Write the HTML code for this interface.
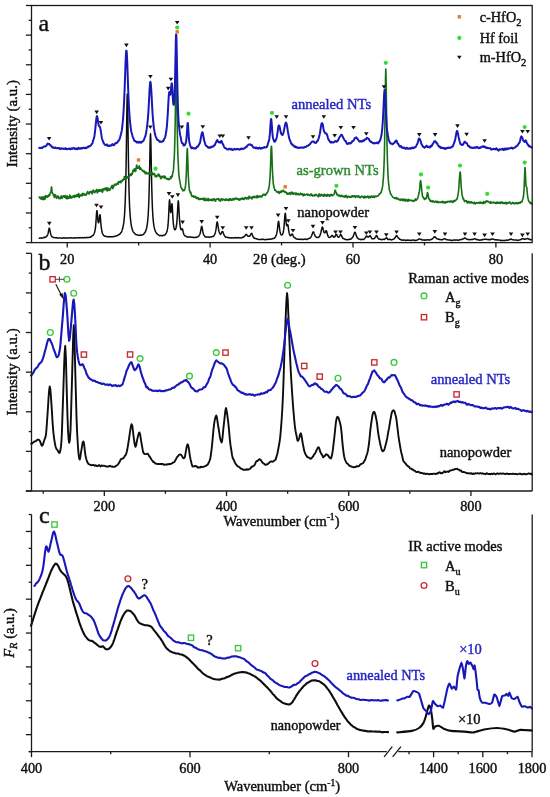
<!DOCTYPE html>
<html><head><meta charset="utf-8"><style>html,body{margin:0;padding:0;background:#fff;width:550px;height:797px;overflow:hidden}svg{display:block;filter:blur(0.35px)}</style></head>
<body><svg width="550" height="797" viewBox="0 0 550 797" font-family="'Liberation Serif', serif"><path d="M39.30,238.18 L39.55,238.11 L39.80,238.07 L40.05,238.00 L40.30,237.97 L40.55,238.07 L40.80,238.08 L41.05,238.05 L41.30,238.14 L41.55,238.14 L41.80,238.04 L42.05,237.99 L42.30,238.01 L42.55,238.00 L42.80,237.86 L43.05,237.80 L43.30,237.70 L43.55,237.59 L43.80,237.38 L44.05,237.41 L44.30,237.30 L44.55,237.39 L44.80,237.41 L45.05,237.44 L45.30,237.20 L45.55,237.14 L45.80,236.99 L46.05,236.84 L46.30,236.56 L46.55,236.47 L46.80,236.16 L47.05,235.76 L47.30,235.38 L47.55,234.86 L47.80,234.18 L48.05,233.40 L48.30,232.30 L48.55,230.94 L48.80,229.68 L49.05,228.63 L49.30,228.09 L49.55,228.54 L49.80,229.68 L50.05,230.88 L50.30,232.22 L50.55,233.42 L50.80,234.27 L51.05,235.02 L51.30,235.73 L51.55,236.03 L51.80,236.38 L52.05,236.73 L52.30,236.81 L52.55,236.99 L52.80,237.21 L53.05,237.38 L53.30,237.54 L53.55,237.59 L53.80,237.63 L54.05,237.67 L54.30,237.69 L54.55,237.57 L54.80,237.62 L55.05,237.63 L55.30,237.75 L55.55,237.84 L55.80,237.86 L56.05,237.86 L56.30,237.94 L56.55,237.77 L56.80,237.68 L57.05,237.77 L57.30,237.92 L57.55,237.93 L57.80,238.05 L58.05,238.06 L58.30,238.06 L58.55,238.09 L58.80,238.02 L59.05,238.03 L59.30,238.08 L59.55,238.09 L59.80,237.98 L60.05,237.94 L60.30,237.97 L60.55,237.92 L60.80,238.00 L61.05,238.06 L61.30,238.13 L61.55,238.18 L61.80,238.19 L62.05,238.18 L62.30,238.14 L62.55,238.18 L62.80,238.05 L63.05,238.10 L63.30,237.92 L63.55,237.79 L63.80,237.73 L64.05,237.75 L64.30,237.74 L64.55,238.00 L64.80,238.07 L65.05,238.05 L65.30,238.12 L65.55,238.14 L65.80,237.99 L66.05,238.03 L66.30,238.11 L66.55,238.13 L66.80,238.03 L67.05,238.03 L67.30,238.05 L67.55,237.93 L67.80,237.91 L68.05,237.92 L68.30,237.99 L68.55,238.00 L68.80,238.07 L69.05,238.01 L69.30,238.06 L69.55,237.86 L69.80,237.77 L70.05,237.79 L70.30,237.68 L70.55,237.75 L70.80,237.76 L71.05,237.88 L71.30,237.80 L71.55,237.98 L71.80,237.93 L72.05,237.94 L72.30,237.97 L72.55,238.12 L72.80,238.06 L73.05,238.03 L73.30,238.12 L73.55,237.97 L73.80,237.94 L74.05,237.91 L74.30,237.92 L74.55,237.87 L74.80,237.89 L75.05,237.73 L75.30,237.85 L75.55,237.84 L75.80,237.95 L76.05,237.98 L76.30,238.02 L76.55,237.91 L76.80,237.88 L77.05,237.81 L77.30,237.78 L77.55,237.80 L77.80,237.73 L78.05,237.71 L78.30,237.81 L78.55,237.78 L78.80,237.73 L79.05,237.83 L79.30,237.97 L79.55,237.76 L79.80,237.78 L80.05,237.81 L80.30,237.66 L80.55,237.61 L80.80,237.70 L81.05,237.71 L81.30,237.69 L81.55,237.83 L81.80,237.74 L82.05,237.72 L82.30,237.63 L82.55,237.59 L82.80,237.64 L83.05,237.63 L83.30,237.65 L83.55,237.71 L83.80,237.75 L84.05,237.61 L84.30,237.68 L84.55,237.62 L84.80,237.60 L85.05,237.62 L85.30,237.71 L85.55,237.70 L85.80,237.72 L86.05,237.68 L86.30,237.57 L86.55,237.53 L86.80,237.53 L87.05,237.47 L87.30,237.52 L87.55,237.64 L87.80,237.60 L88.05,237.57 L88.30,237.52 L88.55,237.55 L88.80,237.38 L89.05,237.34 L89.30,237.27 L89.55,237.31 L89.80,237.28 L90.05,237.40 L90.30,237.21 L90.55,237.00 L90.80,236.92 L91.05,236.65 L91.30,236.46 L91.55,236.48 L91.80,236.36 L92.05,236.04 L92.30,235.97 L92.55,235.80 L92.80,235.52 L93.05,235.39 L93.30,235.19 L93.55,234.74 L93.80,234.33 L94.05,233.79 L94.30,233.08 L94.55,232.42 L94.80,231.56 L95.05,230.38 L95.30,228.81 L95.55,226.82 L95.80,224.07 L96.05,220.68 L96.30,216.81 L96.55,213.07 L96.80,210.70 L97.05,210.72 L97.30,213.04 L97.55,216.06 L97.80,219.13 L98.05,221.30 L98.30,222.59 L98.55,222.77 L98.80,222.36 L99.05,221.04 L99.30,218.98 L99.55,216.61 L99.80,214.84 L100.05,214.72 L100.30,216.43 L100.55,219.31 L100.80,222.52 L101.05,225.29 L101.30,227.32 L101.55,229.09 L101.80,230.71 L102.05,231.82 L102.30,232.71 L102.55,233.51 L102.80,234.15 L103.05,234.49 L103.30,234.84 L103.55,235.20 L103.80,235.50 L104.05,235.68 L104.30,235.87 L104.55,236.03 L104.80,236.09 L105.05,236.23 L105.30,236.22 L105.55,236.34 L105.80,236.31 L106.05,236.43 L106.30,236.45 L106.55,236.45 L106.80,236.53 L107.05,236.74 L107.30,236.75 L107.55,236.82 L107.80,236.95 L108.05,236.69 L108.30,236.62 L108.55,236.66 L108.80,236.62 L109.05,236.53 L109.30,236.69 L109.55,236.66 L109.80,236.74 L110.05,236.75 L110.30,236.82 L110.55,236.93 L110.80,236.90 L111.05,236.78 L111.30,236.63 L111.55,236.72 L111.80,236.67 L112.05,236.74 L112.30,236.79 L112.55,236.90 L112.80,236.78 L113.05,236.68 L113.30,236.57 L113.55,236.50 L113.80,236.56 L114.05,236.54 L114.30,236.52 L114.55,236.45 L114.80,236.36 L115.05,236.31 L115.30,236.26 L115.55,236.21 L115.80,236.16 L116.05,236.06 L116.30,235.88 L116.55,235.83 L116.80,235.72 L117.05,235.64 L117.30,235.60 L117.55,235.50 L117.80,235.23 L118.05,235.12 L118.30,234.95 L118.55,234.87 L118.80,234.66 L119.05,234.63 L119.30,234.55 L119.55,234.38 L119.80,234.06 L120.05,233.87 L120.30,233.56 L120.55,233.09 L120.80,232.80 L121.05,232.59 L121.30,232.13 L121.55,231.64 L121.80,231.09 L122.05,230.46 L122.30,229.54 L122.55,228.67 L122.80,227.83 L123.05,226.75 L123.30,225.51 L123.55,224.18 L123.80,222.47 L124.05,220.25 L124.30,217.81 L124.55,214.51 L124.80,210.39 L125.05,205.30 L125.30,198.97 L125.55,190.95 L125.80,180.84 L126.05,167.95 L126.30,152.13 L126.55,133.73 L126.80,114.83 L127.05,99.79 L127.30,94.03 L127.55,99.93 L127.80,114.90 L128.05,133.69 L128.30,152.08 L128.55,167.89 L128.80,180.77 L129.05,191.08 L129.30,199.11 L129.55,205.38 L129.80,210.25 L130.05,214.22 L130.30,217.18 L130.55,219.66 L130.80,221.87 L131.05,223.82 L131.30,225.29 L131.55,226.57 L131.80,227.72 L132.05,228.55 L132.30,229.34 L132.55,230.19 L132.80,230.93 L133.05,231.43 L133.30,231.86 L133.55,232.23 L133.80,232.44 L134.05,232.67 L134.30,233.02 L134.55,233.28 L134.80,233.59 L135.05,233.88 L135.30,234.21 L135.55,234.34 L135.80,234.60 L136.05,234.65 L136.30,234.68 L136.55,234.69 L136.80,234.74 L137.05,234.69 L137.30,234.83 L137.55,234.91 L137.80,235.00 L138.05,235.20 L138.30,235.22 L138.55,235.15 L138.80,235.20 L139.05,235.23 L139.30,235.15 L139.55,235.33 L139.80,235.39 L140.05,235.29 L140.30,235.18 L140.55,235.23 L140.80,235.16 L141.05,234.98 L141.30,235.09 L141.55,235.13 L141.80,235.09 L142.05,234.95 L142.30,234.96 L142.55,234.69 L142.80,234.69 L143.05,234.45 L143.30,234.42 L143.55,234.22 L143.80,234.10 L144.05,233.59 L144.30,233.32 L144.55,232.98 L144.80,232.60 L145.05,232.28 L145.30,231.97 L145.55,231.41 L145.80,230.73 L146.05,230.09 L146.30,229.22 L146.55,228.22 L146.80,227.11 L147.05,225.79 L147.30,224.13 L147.55,222.09 L147.80,219.70 L148.05,216.81 L148.30,212.96 L148.55,208.27 L148.80,202.24 L149.05,194.46 L149.30,184.73 L149.55,172.92 L149.80,159.49 L150.05,146.13 L150.30,136.43 L150.55,133.80 L150.80,139.58 L151.05,151.23 L151.30,165.02 L151.55,178.04 L151.80,189.09 L152.05,197.97 L152.30,204.95 L152.55,210.47 L152.80,214.84 L153.05,218.23 L153.30,221.05 L153.55,223.18 L153.80,225.05 L154.05,226.42 L154.30,227.62 L154.55,228.67 L154.80,229.75 L155.05,230.37 L155.30,231.02 L155.55,231.66 L155.80,232.08 L156.05,232.46 L156.30,232.88 L156.55,233.24 L156.80,233.62 L157.05,233.90 L157.30,234.13 L157.55,234.33 L157.80,234.48 L158.05,234.49 L158.30,234.80 L158.55,234.88 L158.80,235.08 L159.05,235.26 L159.30,235.48 L159.55,235.44 L159.80,235.66 L160.05,235.64 L160.30,235.59 L160.55,235.56 L160.80,235.50 L161.05,235.45 L161.30,235.60 L161.55,235.65 L161.80,235.62 L162.05,235.68 L162.30,235.71 L162.55,235.45 L162.80,235.52 L163.05,235.50 L163.30,235.54 L163.55,235.31 L163.80,235.40 L164.05,235.17 L164.30,235.07 L164.55,234.96 L164.80,234.93 L165.05,234.74 L165.30,234.56 L165.55,234.25 L165.80,233.82 L166.05,233.40 L166.30,232.97 L166.55,232.47 L166.80,231.85 L167.05,231.02 L167.30,229.95 L167.55,228.66 L167.80,226.99 L168.05,224.69 L168.30,221.50 L168.55,217.39 L168.80,212.15 L169.05,206.33 L169.30,201.61 L169.55,199.77 L169.80,201.56 L170.05,205.36 L170.30,209.17 L170.55,211.68 L170.80,212.62 L171.05,211.80 L171.30,209.60 L171.55,206.48 L171.80,203.97 L172.05,203.81 L172.30,206.57 L172.55,211.17 L172.80,215.85 L173.05,219.78 L173.30,222.84 L173.55,225.07 L173.80,226.72 L174.05,228.00 L174.30,228.84 L174.55,229.36 L174.80,229.75 L175.05,229.75 L175.30,229.58 L175.55,229.20 L175.80,228.63 L176.05,227.69 L176.30,226.53 L176.55,224.86 L176.80,222.62 L177.05,219.59 L177.30,215.87 L177.55,211.14 L177.80,206.28 L178.05,202.31 L178.30,200.79 L178.55,202.42 L178.80,206.55 L179.05,211.46 L179.30,216.16 L179.55,220.06 L179.80,223.09 L180.05,225.34 L180.30,227.10 L180.55,228.35 L180.80,229.20 L181.05,229.66 L181.30,229.79 L181.55,229.66 L181.80,229.24 L182.05,228.73 L182.30,228.81 L182.55,229.41 L182.80,230.25 L183.05,231.29 L183.30,232.52 L183.55,233.28 L183.80,234.04 L184.05,234.74 L184.30,235.30 L184.55,235.53 L184.80,235.81 L185.05,235.93 L185.30,235.96 L185.55,236.04 L185.80,236.21 L186.05,236.35 L186.30,236.60 L186.55,236.69 L186.80,236.74 L187.05,236.83 L187.30,236.92 L187.55,236.99 L187.80,237.12 L188.05,237.15 L188.30,237.16 L188.55,237.10 L188.80,236.96 L189.05,237.00 L189.30,237.05 L189.55,237.07 L189.80,237.05 L190.05,237.16 L190.30,237.10 L190.55,237.06 L190.80,236.91 L191.05,237.02 L191.30,237.11 L191.55,237.19 L191.80,237.21 L192.05,237.37 L192.30,237.44 L192.55,237.21 L192.80,237.18 L193.05,237.25 L193.30,237.30 L193.55,237.36 L193.80,237.61 L194.05,237.63 L194.30,237.60 L194.55,237.60 L194.80,237.44 L195.05,237.35 L195.30,237.36 L195.55,237.45 L195.80,237.36 L196.05,237.36 L196.30,237.33 L196.55,237.31 L196.80,237.13 L197.05,237.17 L197.30,237.04 L197.55,236.93 L197.80,236.72 L198.05,236.65 L198.30,236.47 L198.55,236.25 L198.80,235.98 L199.05,235.74 L199.30,235.30 L199.55,234.70 L199.80,234.31 L200.05,233.71 L200.30,232.82 L200.55,231.71 L200.80,230.53 L201.05,228.93 L201.30,227.54 L201.55,226.50 L201.80,226.38 L202.05,227.13 L202.30,228.47 L202.55,229.96 L202.80,231.43 L203.05,232.60 L203.30,233.53 L203.55,234.28 L203.80,234.88 L204.05,235.27 L204.30,235.66 L204.55,236.03 L204.80,236.43 L205.05,236.69 L205.30,236.89 L205.55,237.06 L205.80,237.18 L206.05,237.12 L206.30,237.00 L206.55,237.06 L206.80,237.13 L207.05,237.02 L207.30,236.95 L207.55,236.95 L207.80,237.01 L208.05,236.94 L208.30,237.00 L208.55,237.13 L208.80,237.26 L209.05,237.20 L209.30,237.27 L209.55,237.21 L209.80,237.16 L210.05,237.03 L210.30,237.10 L210.55,237.04 L210.80,237.01 L211.05,236.97 L211.30,236.97 L211.55,236.88 L211.80,236.71 L212.05,236.61 L212.30,236.51 L212.55,236.58 L212.80,236.47 L213.05,236.42 L213.30,236.35 L213.55,236.30 L213.80,235.87 L214.05,235.49 L214.30,235.21 L214.55,234.75 L214.80,234.12 L215.05,233.42 L215.30,232.74 L215.55,231.73 L215.80,230.45 L216.05,228.90 L216.30,227.01 L216.55,225.02 L216.80,223.19 L217.05,222.08 L217.30,221.94 L217.55,222.93 L217.80,224.35 L218.05,226.22 L218.30,227.91 L218.55,229.38 L218.80,230.62 L219.05,231.70 L219.30,232.30 L219.55,233.01 L219.80,233.46 L220.05,233.86 L220.30,234.16 L220.55,234.35 L220.80,234.07 L221.05,233.79 L221.30,233.31 L221.55,232.70 L221.80,232.19 L222.05,231.68 L222.30,231.43 L222.55,231.39 L222.80,231.77 L223.05,232.35 L223.30,233.17 L223.55,233.84 L223.80,234.53 L224.05,234.99 L224.30,235.32 L224.55,235.69 L224.80,236.11 L225.05,236.50 L225.30,236.82 L225.55,237.14 L225.80,237.24 L226.05,237.32 L226.30,237.29 L226.55,237.28 L226.80,237.29 L227.05,237.41 L227.30,237.34 L227.55,237.39 L227.80,237.37 L228.05,237.40 L228.30,237.58 L228.55,237.63 L228.80,237.65 L229.05,237.79 L229.30,237.88 L229.55,237.68 L229.80,237.69 L230.05,237.78 L230.30,237.78 L230.55,237.76 L230.80,237.95 L231.05,237.93 L231.30,237.89 L231.55,237.85 L231.80,237.95 L232.05,237.73 L232.30,237.74 L232.55,237.71 L232.80,237.79 L233.05,237.74 L233.30,237.97 L233.55,237.91 L233.80,238.00 L234.05,237.94 L234.30,237.86 L234.55,237.81 L234.80,237.86 L235.05,237.68 L235.30,237.67 L235.55,237.62 L235.80,237.54 L236.05,237.63 L236.30,237.78 L236.55,237.91 L236.80,238.00 L237.05,237.94 L237.30,237.86 L237.55,237.78 L237.80,237.59 L238.05,237.63 L238.30,237.68 L238.55,237.60 L238.80,237.70 L239.05,237.76 L239.30,237.75 L239.55,237.79 L239.80,237.95 L240.05,237.89 L240.30,237.96 L240.55,237.95 L240.80,237.95 L241.05,237.91 L241.30,237.79 L241.55,237.67 L241.80,237.59 L242.05,237.54 L242.30,237.38 L242.55,237.53 L242.80,237.48 L243.05,237.35 L243.30,237.13 L243.55,237.09 L243.80,236.84 L244.05,236.62 L244.30,236.50 L244.55,236.32 L244.80,236.06 L245.05,235.65 L245.30,235.28 L245.55,234.90 L245.80,234.72 L246.05,234.36 L246.30,234.35 L246.55,234.51 L246.80,234.86 L247.05,235.04 L247.30,235.48 L247.55,235.85 L247.80,236.11 L248.05,236.20 L248.30,236.37 L248.55,236.34 L248.80,236.27 L249.05,236.27 L249.30,236.24 L249.55,236.09 L249.80,235.87 L250.05,235.60 L250.30,235.26 L250.55,234.77 L250.80,234.21 L251.05,233.73 L251.30,233.44 L251.55,233.29 L251.80,233.46 L252.05,233.95 L252.30,234.76 L252.55,235.38 L252.80,236.08 L253.05,236.61 L253.30,237.13 L253.55,237.33 L253.80,237.58 L254.05,237.89 L254.30,238.16 L254.55,238.23 L254.80,238.40 L255.05,238.55 L255.30,238.57 L255.55,238.58 L255.80,238.58 L256.05,238.64 L256.30,238.69 L256.55,238.67 L256.80,238.85 L257.05,239.03 L257.30,239.16 L257.55,239.13 L257.80,239.22 L258.05,239.31 L258.30,239.38 L258.55,239.38 L258.80,239.50 L259.05,239.60 L259.30,239.43 L259.55,239.41 L259.80,239.45 L260.05,239.52 L260.30,239.38 L260.55,239.47 L260.80,239.46 L261.05,239.44 L261.30,239.39 L261.55,239.35 L261.80,239.33 L262.05,239.40 L262.30,239.33 L262.55,239.33 L262.80,239.45 L263.05,239.38 L263.30,239.33 L263.55,239.33 L263.80,239.41 L264.05,239.52 L264.30,239.72 L264.55,239.69 L264.80,239.80 L265.05,239.73 L265.30,239.58 L265.55,239.55 L265.80,239.47 L266.05,239.49 L266.30,239.47 L266.55,239.55 L266.80,239.45 L267.05,239.48 L267.30,239.42 L267.55,239.46 L267.80,239.36 L268.05,239.37 L268.30,239.37 L268.55,239.20 L268.80,239.19 L269.05,239.22 L269.30,239.18 L269.55,239.20 L269.80,239.38 L270.05,239.27 L270.30,239.15 L270.55,239.10 L270.80,239.15 L271.05,238.95 L271.30,239.02 L271.55,238.99 L271.80,238.88 L272.05,238.84 L272.30,238.87 L272.55,238.64 L272.80,238.59 L273.05,238.65 L273.30,238.55 L273.55,238.43 L273.80,238.43 L274.05,238.37 L274.30,238.11 L274.55,237.88 L274.80,237.69 L275.05,237.38 L275.30,237.01 L275.55,236.69 L275.80,236.23 L276.05,235.66 L276.30,234.99 L276.55,234.25 L276.80,233.18 L277.05,231.87 L277.30,230.27 L277.55,228.24 L277.80,225.94 L278.05,223.52 L278.30,221.78 L278.55,221.18 L278.80,222.21 L279.05,224.13 L279.30,226.37 L279.55,228.42 L279.80,230.30 L280.05,231.67 L280.30,232.70 L280.55,233.64 L280.80,234.33 L281.05,234.75 L281.30,234.95 L281.55,235.11 L281.80,234.98 L282.05,234.89 L282.30,234.56 L282.55,234.27 L282.80,233.66 L283.05,233.02 L283.30,232.02 L283.55,230.69 L283.80,228.79 L284.05,226.35 L284.30,223.39 L284.55,219.81 L284.80,216.27 L285.05,213.68 L285.30,213.36 L285.55,215.17 L285.80,218.17 L286.05,221.18 L286.30,223.64 L286.55,225.06 L286.80,225.71 L287.05,225.65 L287.30,225.08 L287.55,224.41 L287.80,224.59 L288.05,225.63 L288.30,227.44 L288.55,229.31 L288.80,231.11 L289.05,232.45 L289.30,233.50 L289.55,234.37 L289.80,235.00 L290.05,235.47 L290.30,235.72 L290.55,235.78 L290.80,235.58 L291.05,235.41 L291.30,235.02 L291.55,234.62 L291.80,234.34 L292.05,234.08 L292.30,234.12 L292.55,234.32 L292.80,234.86 L293.05,235.42 L293.30,236.05 L293.55,236.54 L293.80,237.12 L294.05,237.34 L294.30,237.56 L294.55,237.76 L294.80,237.83 L295.05,237.91 L295.30,238.24 L295.55,238.40 L295.80,238.60 L296.05,238.73 L296.30,238.88 L296.55,238.82 L296.80,238.94 L297.05,238.98 L297.30,239.23 L297.55,239.26 L297.80,239.32 L298.05,239.30 L298.30,239.32 L298.55,239.22 L298.80,239.28 L299.05,239.29 L299.30,239.48 L299.55,239.33 L299.80,239.34 L300.05,239.36 L300.30,239.35 L300.55,239.20 L300.80,239.32 L301.05,239.26 L301.30,239.21 L301.55,239.40 L301.80,239.53 L302.05,239.48 L302.30,239.52 L302.55,239.48 L302.80,239.39 L303.05,239.26 L303.30,239.29 L303.55,239.40 L303.80,239.48 L304.05,239.38 L304.30,239.35 L304.55,239.29 L304.80,239.17 L305.05,238.96 L305.30,239.02 L305.55,239.04 L305.80,239.15 L306.05,239.30 L306.30,239.49 L306.55,239.34 L306.80,239.41 L307.05,239.42 L307.30,239.21 L307.55,239.03 L307.80,239.05 L308.05,238.83 L308.30,238.78 L308.55,238.60 L308.80,238.51 L309.05,238.40 L309.30,238.37 L309.55,238.16 L309.80,238.17 L310.05,238.05 L310.30,237.92 L310.55,237.54 L310.80,237.22 L311.05,236.79 L311.30,236.37 L311.55,235.79 L311.80,235.25 L312.05,234.50 L312.30,233.82 L312.55,233.03 L312.80,232.25 L313.05,231.92 L313.30,231.91 L313.55,231.93 L313.80,232.41 L314.05,233.30 L314.30,233.97 L314.55,234.57 L314.80,235.32 L315.05,235.83 L315.30,236.13 L315.55,236.43 L315.80,236.78 L316.05,237.01 L316.30,237.20 L316.55,237.28 L316.80,237.41 L317.05,237.37 L317.30,237.41 L317.55,237.50 L317.80,237.57 L318.05,237.54 L318.30,237.52 L318.55,237.39 L318.80,237.14 L319.05,236.86 L319.30,236.59 L319.55,236.15 L319.80,235.80 L320.05,235.29 L320.30,234.62 L320.55,233.78 L320.80,232.90 L321.05,231.77 L321.30,230.56 L321.55,229.49 L321.80,228.39 L322.05,227.48 L322.30,227.08 L322.55,227.18 L322.80,227.73 L323.05,228.75 L323.30,229.93 L323.55,230.82 L323.80,231.67 L324.05,232.37 L324.30,232.68 L324.55,232.79 L324.80,232.86 L325.05,232.78 L325.30,232.27 L325.55,231.66 L325.80,231.13 L326.05,230.80 L326.30,230.73 L326.55,231.15 L326.80,232.04 L327.05,232.95 L327.30,233.85 L327.55,234.72 L327.80,235.62 L328.05,236.11 L328.30,236.60 L328.55,236.92 L328.80,237.20 L329.05,237.30 L329.30,237.44 L329.55,237.46 L329.80,237.37 L330.05,237.23 L330.30,237.08 L330.55,236.94 L330.80,236.67 L331.05,236.43 L331.30,236.12 L331.55,235.77 L331.80,235.48 L332.05,235.46 L332.30,235.51 L332.55,235.74 L332.80,236.17 L333.05,236.41 L333.30,236.68 L333.55,237.02 L333.80,237.18 L334.05,237.06 L334.30,237.15 L334.55,237.03 L334.80,236.79 L335.05,236.36 L335.30,235.98 L335.55,235.42 L335.80,234.84 L336.05,234.39 L336.30,234.28 L336.55,234.38 L336.80,234.72 L337.05,235.30 L337.30,235.90 L337.55,236.41 L337.80,236.84 L338.05,237.14 L338.30,237.25 L338.55,237.31 L338.80,237.12 L339.05,236.93 L339.30,236.68 L339.55,236.34 L339.80,235.74 L340.05,235.27 L340.30,234.75 L340.55,234.47 L340.80,234.45 L341.05,234.77 L341.30,235.29 L341.55,235.84 L341.80,236.43 L342.05,236.91 L342.30,237.43 L342.55,237.94 L342.80,238.31 L343.05,238.44 L343.30,238.61 L343.55,238.64 L343.80,238.59 L344.05,238.79 L344.30,238.99 L344.55,239.03 L344.80,239.23 L345.05,239.44 L345.30,239.38 L345.55,239.36 L345.80,239.47 L346.05,239.47 L346.30,239.44 L346.55,239.56 L346.80,239.69 L347.05,239.80 L347.30,239.87 L347.55,239.87 L347.80,239.68 L348.05,239.59 L348.30,239.51 L348.55,239.38 L348.80,239.37 L349.05,239.42 L349.30,239.33 L349.55,239.36 L349.80,239.38 L350.05,239.27 L350.30,239.29 L350.55,239.33 L350.80,239.16 L351.05,238.85 L351.30,238.65 L351.55,238.40 L351.80,238.08 L352.05,237.84 L352.30,237.80 L352.55,237.48 L352.80,237.04 L353.05,236.76 L353.30,236.15 L353.55,235.34 L353.80,234.64 L354.05,233.96 L354.30,233.04 L354.55,232.52 L354.80,232.25 L355.05,232.21 L355.30,232.58 L355.55,233.31 L355.80,233.98 L356.05,234.82 L356.30,235.60 L356.55,236.41 L356.80,236.86 L357.05,237.46 L357.30,237.81 L357.55,238.13 L357.80,238.26 L358.05,238.58 L358.30,238.76 L358.55,238.94 L358.80,239.04 L359.05,239.07 L359.30,239.13 L359.55,239.17 L359.80,239.30 L360.05,239.42 L360.30,239.57 L360.55,239.67 L360.80,239.67 L361.05,239.51 L361.30,239.42 L361.55,239.26 L361.80,239.26 L362.05,239.19 L362.30,239.35 L362.55,239.44 L362.80,239.61 L363.05,239.53 L363.30,239.52 L363.55,239.35 L363.80,239.23 L364.05,239.01 L364.30,238.76 L364.55,238.58 L364.80,238.46 L365.05,238.06 L365.30,237.71 L365.55,237.28 L365.80,236.84 L366.05,236.36 L366.30,236.14 L366.55,236.05 L366.80,236.09 L367.05,236.40 L367.30,236.61 L367.55,236.93 L367.80,237.09 L368.05,237.13 L368.30,237.00 L368.55,236.94 L368.80,236.78 L369.05,236.47 L369.30,236.27 L369.55,235.86 L369.80,235.68 L370.05,235.67 L370.30,235.87 L370.55,236.25 L370.80,236.73 L371.05,237.18 L371.30,237.67 L371.55,238.06 L371.80,238.43 L372.05,238.79 L372.30,238.83 L372.55,238.85 L372.80,238.80 L373.05,238.75 L373.30,238.74 L373.55,238.84 L373.80,238.73 L374.05,238.75 L374.30,238.58 L374.55,238.31 L374.80,238.03 L375.05,237.67 L375.30,237.22 L375.55,236.79 L375.80,236.44 L376.05,235.94 L376.30,235.65 L376.55,235.58 L376.80,235.84 L377.05,236.23 L377.30,236.91 L377.55,237.34 L377.80,237.80 L378.05,238.21 L378.30,238.46 L378.55,238.55 L378.80,238.96 L379.05,239.15 L379.30,239.15 L379.55,239.19 L379.80,239.32 L380.05,239.30 L380.30,239.29 L380.55,239.35 L380.80,239.51 L381.05,239.55 L381.30,239.51 L381.55,239.66 L381.80,239.76 L382.05,239.61 L382.30,239.55 L382.55,239.60 L382.80,239.50 L383.05,239.29 L383.30,239.34 L383.55,239.35 L383.80,239.36 L384.05,239.16 L384.30,239.36 L384.55,239.17 L384.80,239.02 L385.05,238.80 L385.30,238.80 L385.55,238.43 L385.80,238.23 L386.05,238.07 L386.30,237.89 L386.55,237.72 L386.80,238.03 L387.05,238.35 L387.30,238.65 L387.55,238.85 L387.80,239.30 L388.05,239.38 L388.30,239.58 L388.55,239.57 L388.80,239.64 L389.05,239.61 L389.30,239.43 L389.55,239.26 L389.80,239.30 L390.05,239.35 L390.30,239.36 L390.55,239.51 L390.80,239.75 L391.05,239.83 L391.30,239.88 L391.55,239.95 L391.80,239.88 L392.05,239.70 L392.30,239.63 L392.55,239.50 L392.80,239.34 L393.05,239.23 L393.30,239.17 L393.55,239.10 L393.80,238.99 L394.05,238.85 L394.30,238.68 L394.55,238.35 L394.80,237.87 L395.05,237.66 L395.30,237.39 L395.55,237.02 L395.80,236.58 L396.05,236.27 L396.30,235.82 L396.55,235.56 L396.80,235.62 L397.05,235.96 L397.30,236.37 L397.55,236.83 L397.80,237.23 L398.05,237.53 L398.30,237.87 L398.55,238.06 L398.80,238.37 L399.05,238.56 L399.30,238.87 L399.55,239.09 L399.80,239.22 L400.05,239.29 L400.30,239.39 L400.55,239.52 L400.80,239.67 L401.05,239.88 L401.30,239.96 L401.55,240.17 L401.80,240.06 L402.05,240.08 L402.30,240.02 L402.55,239.89 L402.80,239.99 L403.05,240.21 L403.30,240.07 L403.55,240.14 L403.80,240.33 L404.05,240.17 L404.30,239.99 L404.55,240.02 L404.80,240.06 L405.05,240.09 L405.30,240.18 L405.55,240.29 L405.80,240.49 L406.05,240.42 L406.30,240.43 L406.55,240.23 L406.80,240.15 L407.05,240.09 L407.30,240.08 L407.55,240.10 L407.80,240.23 L408.05,240.24 L408.30,240.14 L408.55,240.17 L408.80,240.10 L409.05,240.16 L409.30,240.27 L409.55,240.25 L409.80,240.23 L410.05,240.28 L410.30,240.22 L410.55,240.25 L410.80,240.46 L411.05,240.57 L411.30,240.54 L411.55,240.54 L411.80,240.41 L412.05,240.17 L412.30,240.05 L412.55,240.02 L412.80,240.00 L413.05,240.09 L413.30,240.12 L413.55,240.16 L413.80,240.10 L414.05,240.22 L414.30,240.19 L414.55,240.32 L414.80,240.36 L415.05,240.52 L415.30,240.38 L415.55,240.36 L415.80,240.40 L416.05,240.23 L416.30,240.17 L416.55,240.26 L416.80,240.19 L417.05,240.00 L417.30,240.10 L417.55,239.91 L417.80,239.74 L418.05,239.56 L418.30,239.37 L418.55,239.14 L418.80,239.08 L419.05,238.97 L419.30,238.99 L419.55,238.90 L419.80,239.07 L420.05,239.19 L420.30,239.28 L420.55,239.31 L420.80,239.49 L421.05,239.50 L421.30,239.54 L421.55,239.47 L421.80,239.63 L422.05,239.90 L422.30,239.80 L422.55,239.89 L422.80,240.08 L423.05,240.06 L423.30,239.99 L423.55,240.07 L423.80,240.03 L424.05,240.13 L424.30,240.14 L424.55,240.03 L424.80,240.13 L425.05,240.10 L425.30,240.11 L425.55,240.06 L425.80,240.15 L426.05,240.06 L426.30,240.13 L426.55,240.02 L426.80,239.90 L427.05,239.83 L427.30,239.84 L427.55,239.75 L427.80,239.84 L428.05,239.93 L428.30,239.84 L428.55,239.98 L428.80,239.99 L429.05,239.97 L429.30,240.03 L429.55,240.00 L429.80,239.86 L430.05,239.89 L430.30,239.79 L430.55,239.71 L430.80,239.70 L431.05,239.62 L431.30,239.40 L431.55,239.36 L431.80,239.23 L432.05,239.01 L432.30,238.83 L432.55,238.73 L432.80,238.43 L433.05,238.19 L433.30,237.97 L433.55,237.74 L433.80,237.31 L434.05,236.94 L434.30,236.80 L434.55,236.67 L434.80,236.65 L435.05,236.89 L435.30,237.15 L435.55,237.30 L435.80,237.71 L436.05,237.99 L436.30,238.15 L436.55,238.40 L436.80,238.66 L437.05,238.66 L437.30,238.80 L437.55,238.97 L437.80,238.93 L438.05,239.00 L438.30,239.14 L438.55,239.19 L438.80,239.17 L439.05,239.34 L439.30,239.40 L439.55,239.47 L439.80,239.46 L440.05,239.63 L440.30,239.60 L440.55,239.60 L440.80,239.68 L441.05,239.71 L441.30,239.63 L441.55,239.77 L441.80,239.73 L442.05,239.59 L442.30,239.62 L442.55,239.67 L442.80,239.39 L443.05,239.29 L443.30,239.17 L443.55,239.00 L443.80,238.79 L444.05,238.80 L444.30,238.82 L444.55,238.78 L444.80,238.86 L445.05,238.96 L445.30,239.02 L445.55,239.09 L445.80,239.35 L446.05,239.46 L446.30,239.49 L446.55,239.63 L446.80,239.64 L447.05,239.63 L447.30,239.73 L447.55,239.78 L447.80,239.82 L448.05,240.01 L448.30,239.99 L448.55,239.98 L448.80,240.00 L449.05,239.99 L449.30,239.90 L449.55,240.10 L449.80,240.08 L450.05,240.13 L450.30,240.16 L450.55,240.20 L450.80,240.11 L451.05,240.16 L451.30,240.33 L451.55,240.39 L451.80,240.50 L452.05,240.48 L452.30,240.52 L452.55,240.29 L452.80,240.27 L453.05,240.18 L453.30,240.14 L453.55,239.97 L453.80,240.12 L454.05,240.10 L454.30,240.08 L454.55,240.07 L454.80,240.20 L455.05,240.16 L455.30,240.10 L455.55,240.07 L455.80,240.10 L456.05,240.12 L456.30,240.06 L456.55,240.10 L456.80,240.10 L457.05,240.07 L457.30,240.13 L457.55,240.07 L457.80,240.20 L458.05,240.29 L458.30,240.25 L458.55,240.21 L458.80,240.16 L459.05,239.93 L459.30,239.77 L459.55,239.75 L459.80,239.65 L460.05,239.68 L460.30,239.76 L460.55,239.66 L460.80,239.68 L461.05,239.56 L461.30,239.49 L461.55,239.39 L461.80,239.38 L462.05,239.17 L462.30,239.11 L462.55,239.04 L462.80,238.99 L463.05,238.98 L463.30,238.87 L463.55,238.74 L463.80,238.53 L464.05,238.38 L464.30,238.09 L464.55,238.14 L464.80,238.10 L465.05,238.09 L465.30,238.12 L465.55,238.38 L465.80,238.43 L466.05,238.65 L466.30,238.85 L466.55,239.04 L466.80,239.19 L467.05,239.29 L467.30,239.43 L467.55,239.53 L467.80,239.55 L468.05,239.49 L468.30,239.54 L468.55,239.56 L468.80,239.51 L469.05,239.59 L469.30,239.70 L469.55,239.77 L469.80,239.59 L470.05,239.68 L470.30,239.69 L470.55,239.61 L470.80,239.59 L471.05,239.57 L471.30,239.60 L471.55,239.48 L471.80,239.55 L472.05,239.38 L472.30,239.52 L472.55,239.39 L472.80,239.41 L473.05,239.20 L473.30,239.18 L473.55,239.18 L473.80,239.04 L474.05,238.86 L474.30,238.83 L474.55,238.77 L474.80,238.70 L475.05,238.90 L475.30,238.97 L475.55,238.97 L475.80,239.22 L476.05,239.32 L476.30,239.37 L476.55,239.59 L476.80,239.74 L477.05,239.73 L477.30,239.64 L477.55,239.55 L477.80,239.59 L478.05,239.65 L478.30,239.84 L478.55,239.97 L478.80,240.04 L479.05,240.05 L479.30,240.22 L479.55,240.12 L479.80,240.04 L480.05,240.10 L480.30,240.14 L480.55,239.98 L480.80,239.89 L481.05,240.02 L481.30,239.98 L481.55,239.79 L481.80,239.76 L482.05,239.73 L482.30,239.63 L482.55,239.57 L482.80,239.66 L483.05,239.66 L483.30,239.53 L483.55,239.46 L483.80,239.43 L484.05,239.33 L484.30,239.30 L484.55,239.35 L484.80,239.26 L485.05,239.30 L485.30,239.25 L485.55,239.11 L485.80,239.28 L486.05,239.37 L486.30,239.35 L486.55,239.39 L486.80,239.50 L487.05,239.40 L487.30,239.46 L487.55,239.52 L487.80,239.48 L488.05,239.63 L488.30,239.63 L488.55,239.58 L488.80,239.58 L489.05,239.71 L489.30,239.53 L489.55,239.69 L489.80,239.65 L490.05,239.56 L490.30,239.51 L490.55,239.62 L490.80,239.38 L491.05,239.40 L491.30,239.23 L491.55,239.18 L491.80,238.94 L492.05,238.87 L492.30,238.88 L492.55,238.95 L492.80,238.91 L493.05,239.18 L493.30,239.32 L493.55,239.25 L493.80,239.40 L494.05,239.43 L494.30,239.47 L494.55,239.62 L494.80,239.73 L495.05,239.72 L495.30,239.88 L495.55,239.87 L495.80,239.78 L496.05,239.90 L496.30,239.85 L496.55,239.85 L496.80,239.85 L497.05,239.93 L497.30,239.93 L497.55,240.01 L497.80,240.09 L498.05,240.12 L498.30,240.11 L498.55,240.02 L498.80,240.03 L499.05,240.03 L499.30,239.99 L499.55,240.04 L499.80,240.21 L500.05,240.36 L500.30,240.44 L500.55,240.49 L500.80,240.42 L501.05,240.42 L501.30,240.37 L501.55,240.35 L501.80,240.37 L502.05,240.52 L502.30,240.51 L502.55,240.53 L502.80,240.49 L503.05,240.52 L503.30,240.45 L503.55,240.41 L503.80,240.42 L504.05,240.35 L504.30,240.43 L504.55,240.41 L504.80,240.45 L505.05,240.37 L505.30,240.38 L505.55,240.39 L505.80,240.36 L506.05,240.20 L506.30,240.14 L506.55,240.12 L506.80,240.11 L507.05,240.11 L507.30,240.23 L507.55,240.18 L507.80,240.19 L508.05,240.05 L508.30,240.10 L508.55,239.94 L508.80,239.98 L509.05,239.91 L509.30,239.72 L509.55,239.52 L509.80,239.46 L510.05,239.18 L510.30,239.12 L510.55,239.16 L510.80,239.09 L511.05,239.01 L511.30,239.27 L511.55,239.30 L511.80,239.40 L512.05,239.60 L512.30,239.74 L512.55,239.78 L512.80,239.82 L513.05,239.82 L513.30,239.79 L513.55,239.88 L513.80,239.94 L514.05,240.01 L514.30,240.03 L514.55,240.05 L514.80,240.10 L515.05,239.98 L515.30,239.96 L515.55,239.97 L515.80,239.96 L516.05,239.94 L516.30,239.96 L516.55,240.12 L516.80,240.21 L517.05,240.27 L517.30,240.26 L517.55,240.43 L517.80,240.30 L518.05,240.19 L518.30,240.16 L518.55,240.15 L518.80,240.07 L519.05,240.00 L519.30,240.10 L519.55,239.97 L519.80,239.93 L520.05,239.70 L520.30,239.74 L520.55,239.49 L520.80,239.44 L521.05,239.34 L521.30,239.38 L521.55,239.08 L521.80,238.98 L522.05,238.81 L522.30,238.71 L522.55,238.61 L522.80,238.68 L523.05,238.71 L523.30,238.84 L523.55,238.85 L523.80,238.96 L524.05,239.15 L524.30,239.11 L524.55,239.16 L524.80,239.20 L525.05,239.20 L525.30,239.02 L525.55,239.09 L525.80,238.98 L526.05,238.98 L526.30,238.87 L526.55,238.83 L526.80,238.77 L527.05,238.74 L527.30,238.53 L527.55,238.53 L527.80,238.57 L528.05,238.59 L528.30,238.76 L528.55,239.06 L528.80,239.08 L529.05,239.15 L529.30,239.39 L529.55,239.54 L529.80,239.52 L530.05,239.62 L530.30,239.71 L530.55,239.66 L530.80,239.53 L531.05,239.64 L531.30,239.69 L531.55,239.78 L531.80,239.85" fill="none" stroke="#0d0d0d" stroke-width="1.5" stroke-linejoin="round" stroke-linecap="round"/>
<path d="M39.30,197.09 L39.55,197.67 L39.80,197.99 L40.05,197.35 L40.30,198.18 L40.55,198.73 L40.80,198.10 L41.05,197.60 L41.30,197.27 L41.55,198.35 L41.80,199.27 L42.05,197.44 L42.30,197.01 L42.55,198.16 L42.80,198.44 L43.05,199.14 L43.30,199.69 L43.55,198.16 L43.80,197.21 L44.05,196.71 L44.30,196.90 L44.55,197.79 L44.80,199.33 L45.05,199.27 L45.30,196.18 L45.55,195.65 L45.80,197.02 L46.05,196.61 L46.30,195.94 L46.55,196.46 L46.80,197.17 L47.05,197.23 L47.30,196.37 L47.55,196.89 L47.80,197.01 L48.05,196.07 L48.30,195.39 L48.55,195.04 L48.80,196.12 L49.05,195.33 L49.30,194.54 L49.55,195.62 L49.80,194.90 L50.05,193.93 L50.30,192.62 L50.55,192.28 L50.80,192.51 L51.05,190.66 L51.30,187.98 L51.55,186.93 L51.80,189.17 L52.05,191.94 L52.30,192.69 L52.55,193.50 L52.80,193.87 L53.05,193.71 L53.30,194.68 L53.55,195.53 L53.80,194.92 L54.05,195.53 L54.30,197.56 L54.55,196.42 L54.80,194.86 L55.05,195.93 L55.30,196.48 L55.55,194.83 L55.80,195.83 L56.05,197.48 L56.30,196.72 L56.55,198.00 L56.80,198.42 L57.05,196.63 L57.30,196.63 L57.55,196.47 L57.80,195.94 L58.05,196.86 L58.30,197.00 L58.55,196.48 L58.80,197.90 L59.05,198.73 L59.30,198.19 L59.55,197.98 L59.80,197.78 L60.05,198.37 L60.30,198.05 L60.55,198.31 L60.80,197.72 L61.05,196.38 L61.30,196.11 L61.55,196.05 L61.80,197.25 L62.05,198.38 L62.30,197.63 L62.55,196.71 L62.80,196.90 L63.05,196.43 L63.30,195.90 L63.55,196.40 L63.80,196.05 L64.05,196.08 L64.30,197.18 L64.55,196.69 L64.80,196.03 L65.05,195.57 L65.30,197.38 L65.55,197.40 L65.80,197.20 L66.05,198.42 L66.30,197.20 L66.55,196.08 L66.80,196.96 L67.05,198.78 L67.30,197.52 L67.55,196.24 L67.80,197.48 L68.05,197.88 L68.30,198.47 L68.55,197.89 L68.80,196.96 L69.05,196.53 L69.30,197.50 L69.55,197.82 L69.80,195.10 L70.05,195.47 L70.30,196.72 L70.55,197.95 L70.80,197.78 L71.05,196.52 L71.30,197.05 L71.55,198.01 L71.80,197.55 L72.05,197.16 L72.30,197.47 L72.55,196.58 L72.80,196.26 L73.05,196.41 L73.30,195.74 L73.55,196.43 L73.80,196.09 L74.05,196.01 L74.30,197.43 L74.55,196.59 L74.80,195.46 L75.05,195.32 L75.30,196.05 L75.55,196.61 L75.80,196.45 L76.05,196.55 L76.30,195.97 L76.55,195.45 L76.80,194.76 L77.05,195.05 L77.30,196.08 L77.55,195.29 L77.80,195.87 L78.05,196.51 L78.30,193.97 L78.55,193.51 L78.80,194.32 L79.05,194.91 L79.30,197.33 L79.55,196.29 L79.80,194.72 L80.05,194.84 L80.30,194.97 L80.55,195.48 L80.80,196.01 L81.05,194.94 L81.30,195.07 L81.55,195.05 L81.80,194.19 L82.05,195.45 L82.30,195.68 L82.55,194.31 L82.80,193.38 L83.05,193.63 L83.30,193.98 L83.55,194.94 L83.80,194.11 L84.05,193.64 L84.30,194.78 L84.55,194.79 L84.80,194.65 L85.05,195.19 L85.30,195.15 L85.55,194.68 L85.80,194.67 L86.05,195.19 L86.30,193.60 L86.55,193.22 L86.80,194.18 L87.05,193.15 L87.30,192.65 L87.55,191.60 L87.80,191.91 L88.05,192.59 L88.30,193.08 L88.55,192.53 L88.80,193.05 L89.05,194.08 L89.30,192.98 L89.55,192.31 L89.80,191.91 L90.05,191.59 L90.30,191.69 L90.55,192.34 L90.80,192.51 L91.05,191.56 L91.30,191.45 L91.55,191.72 L91.80,191.92 L92.05,193.58 L92.30,193.81 L92.55,192.40 L92.80,190.94 L93.05,190.20 L93.30,190.10 L93.55,191.37 L93.80,191.89 L94.05,191.42 L94.30,191.45 L94.55,191.41 L94.80,192.61 L95.05,192.07 L95.30,190.92 L95.55,190.79 L95.80,191.49 L96.05,191.29 L96.30,189.99 L96.55,189.70 L96.80,189.47 L97.05,190.57 L97.30,192.98 L97.55,192.01 L97.80,190.95 L98.05,191.66 L98.30,190.33 L98.55,189.95 L98.80,190.43 L99.05,190.11 L99.30,191.40 L99.55,190.58 L99.80,189.56 L100.05,190.89 L100.30,190.25 L100.55,190.09 L100.80,190.94 L101.05,190.89 L101.30,190.56 L101.55,190.84 L101.80,189.27 L102.05,189.71 L102.30,192.33 L102.55,191.97 L102.80,191.14 L103.05,189.61 L103.30,188.86 L103.55,189.17 L103.80,188.83 L104.05,189.89 L104.30,189.70 L104.55,188.97 L104.80,188.24 L105.05,188.17 L105.30,189.36 L105.55,188.97 L105.80,188.42 L106.05,189.97 L106.30,189.62 L106.55,187.75 L106.80,187.95 L107.05,189.29 L107.30,191.04 L107.55,190.45 L107.80,188.66 L108.05,188.14 L108.30,189.19 L108.55,188.84 L108.80,189.03 L109.05,190.42 L109.30,189.51 L109.55,188.99 L109.80,189.36 L110.05,189.84 L110.30,188.57 L110.55,188.18 L110.80,188.43 L111.05,187.07 L111.30,187.20 L111.55,187.38 L111.80,186.54 L112.05,185.53 L112.30,185.39 L112.55,187.11 L112.80,188.74 L113.05,188.08 L113.30,187.44 L113.55,186.56 L113.80,185.62 L114.05,185.95 L114.30,185.16 L114.55,184.22 L114.80,184.78 L115.05,185.03 L115.30,184.15 L115.55,184.43 L115.80,184.75 L116.05,184.98 L116.30,184.98 L116.55,184.00 L116.80,183.92 L117.05,183.84 L117.30,183.19 L117.55,182.88 L117.80,183.59 L118.05,184.07 L118.30,184.24 L118.55,182.64 L118.80,181.44 L119.05,182.07 L119.30,182.25 L119.55,182.06 L119.80,181.48 L120.05,182.08 L120.30,182.34 L120.55,180.99 L120.80,181.54 L121.05,182.71 L121.30,181.39 L121.55,181.13 L121.80,180.87 L122.05,180.90 L122.30,181.06 L122.55,179.72 L122.80,179.47 L123.05,179.33 L123.30,179.52 L123.55,179.94 L123.80,179.69 L124.05,179.09 L124.30,176.67 L124.55,176.91 L124.80,177.83 L125.05,177.77 L125.30,179.46 L125.55,179.32 L125.80,178.24 L126.05,177.80 L126.30,177.80 L126.55,177.42 L126.80,176.99 L127.05,176.60 L127.30,177.53 L127.55,177.92 L127.80,177.63 L128.05,177.31 L128.30,176.52 L128.55,176.31 L128.80,176.30 L129.05,176.66 L129.30,176.27 L129.55,175.11 L129.80,174.23 L130.05,175.41 L130.30,175.46 L130.55,174.02 L130.80,174.83 L131.05,175.42 L131.30,174.61 L131.55,173.45 L131.80,174.31 L132.05,174.54 L132.30,173.19 L132.55,172.59 L132.80,171.15 L133.05,170.18 L133.30,171.01 L133.55,171.78 L133.80,171.10 L134.05,169.87 L134.30,168.85 L134.55,169.08 L134.80,168.79 L135.05,169.26 L135.30,170.56 L135.55,171.45 L135.80,171.00 L136.05,168.64 L136.30,167.29 L136.55,165.27 L136.80,165.16 L137.05,166.91 L137.30,167.80 L137.55,168.21 L137.80,167.92 L138.05,167.61 L138.30,167.59 L138.55,168.28 L138.80,167.17 L139.05,166.01 L139.30,166.06 L139.55,167.57 L139.80,169.45 L140.05,169.17 L140.30,167.90 L140.55,167.80 L140.80,168.64 L141.05,168.83 L141.30,169.10 L141.55,169.62 L141.80,169.74 L142.05,170.19 L142.30,170.83 L142.55,170.38 L142.80,170.41 L143.05,170.57 L143.30,171.38 L143.55,171.73 L143.80,171.66 L144.05,171.84 L144.30,171.01 L144.55,172.04 L144.80,172.55 L145.05,172.66 L145.30,173.80 L145.55,172.64 L145.80,172.06 L146.05,172.94 L146.30,172.98 L146.55,172.54 L146.80,173.45 L147.05,173.99 L147.30,173.74 L147.55,173.59 L147.80,173.51 L148.05,173.28 L148.30,173.05 L148.55,173.82 L148.80,173.83 L149.05,173.16 L149.30,172.45 L149.55,172.79 L149.80,173.62 L150.05,173.35 L150.30,172.74 L150.55,173.30 L150.80,175.33 L151.05,174.89 L151.30,173.67 L151.55,174.15 L151.80,172.47 L152.05,172.39 L152.30,173.58 L152.55,174.41 L152.80,174.75 L153.05,173.52 L153.30,173.61 L153.55,174.24 L153.80,174.11 L154.05,174.04 L154.30,173.64 L154.55,173.60 L154.80,174.95 L155.05,176.34 L155.30,176.38 L155.55,175.44 L155.80,175.81 L156.05,176.34 L156.30,176.71 L156.55,176.83 L156.80,175.84 L157.05,175.42 L157.30,175.68 L157.55,175.78 L157.80,175.88 L158.05,175.30 L158.30,174.00 L158.55,174.14 L158.80,174.26 L159.05,174.78 L159.30,176.08 L159.55,175.11 L159.80,175.59 L160.05,177.19 L160.30,176.91 L160.55,177.46 L160.80,178.60 L161.05,176.95 L161.30,176.52 L161.55,177.57 L161.80,177.27 L162.05,177.64 L162.30,177.06 L162.55,176.24 L162.80,176.28 L163.05,176.28 L163.30,176.81 L163.55,176.48 L163.80,176.01 L164.05,177.31 L164.30,177.99 L164.55,177.95 L164.80,176.95 L165.05,176.33 L165.30,177.21 L165.55,177.77 L165.80,177.82 L166.05,178.42 L166.30,178.80 L166.55,178.31 L166.80,178.41 L167.05,178.86 L167.30,178.61 L167.55,178.89 L167.80,179.47 L168.05,178.91 L168.30,178.66 L168.55,178.87 L168.80,179.43 L169.05,179.65 L169.30,179.22 L169.55,179.10 L169.80,178.85 L170.05,178.97 L170.30,178.79 L170.55,176.69 L170.80,177.33 L171.05,178.40 L171.30,176.65 L171.55,176.13 L171.80,175.86 L172.05,176.65 L172.30,176.77 L172.55,173.81 L172.80,172.79 L173.05,172.14 L173.30,171.24 L173.55,168.73 L173.80,163.63 L174.05,160.67 L174.30,157.00 L174.55,150.40 L174.80,140.86 L175.05,129.83 L175.30,116.75 L175.55,96.68 L175.80,76.54 L176.05,62.88 L176.30,62.36 L176.55,75.76 L176.80,94.34 L177.05,114.55 L177.30,131.42 L177.55,143.24 L177.80,152.94 L178.05,160.24 L178.30,164.47 L178.55,170.13 L178.80,174.30 L179.05,175.69 L179.30,178.33 L179.55,179.74 L179.80,180.49 L180.05,182.41 L180.30,183.92 L180.55,185.16 L180.80,186.81 L181.05,187.26 L181.30,187.59 L181.55,188.69 L181.80,188.41 L182.05,188.68 L182.30,189.15 L182.55,189.90 L182.80,190.87 L183.05,190.60 L183.30,189.91 L183.55,190.07 L183.80,190.38 L184.05,190.57 L184.30,190.50 L184.55,189.26 L184.80,189.04 L185.05,188.79 L185.30,186.76 L185.55,185.14 L185.80,182.75 L186.05,178.54 L186.30,173.79 L186.55,166.91 L186.80,158.49 L187.05,151.04 L187.30,148.62 L187.55,152.84 L187.80,159.93 L188.05,168.32 L188.30,175.27 L188.55,179.85 L188.80,183.97 L189.05,186.64 L189.30,189.31 L189.55,190.80 L189.80,190.41 L190.05,191.79 L190.30,192.89 L190.55,192.82 L190.80,192.24 L191.05,193.24 L191.30,195.24 L191.55,195.49 L191.80,195.85 L192.05,196.49 L192.30,196.28 L192.55,196.17 L192.80,196.07 L193.05,195.70 L193.30,196.63 L193.55,197.10 L193.80,196.23 L194.05,196.36 L194.30,196.98 L194.55,196.60 L194.80,196.98 L195.05,197.27 L195.30,196.53 L195.55,196.34 L195.80,197.86 L196.05,197.79 L196.30,197.23 L196.55,198.22 L196.80,198.49 L197.05,197.80 L197.30,197.49 L197.55,198.15 L197.80,198.71 L198.05,198.47 L198.30,197.72 L198.55,198.50 L198.80,199.54 L199.05,199.35 L199.30,198.70 L199.55,198.80 L199.80,199.18 L200.05,199.43 L200.30,198.87 L200.55,198.58 L200.80,199.06 L201.05,198.55 L201.30,198.73 L201.55,199.23 L201.80,198.98 L202.05,199.14 L202.30,198.73 L202.55,198.55 L202.80,199.35 L203.05,199.50 L203.30,199.79 L203.55,199.17 L203.80,198.09 L204.05,198.71 L204.30,199.55 L204.55,200.36 L204.80,200.43 L205.05,199.18 L205.30,199.27 L205.55,199.29 L205.80,198.34 L206.05,199.80 L206.30,200.57 L206.55,199.78 L206.80,199.89 L207.05,200.36 L207.30,200.26 L207.55,200.01 L207.80,199.47 L208.05,198.38 L208.30,199.42 L208.55,200.63 L208.80,200.26 L209.05,199.74 L209.30,199.60 L209.55,199.22 L209.80,199.81 L210.05,200.38 L210.30,199.96 L210.55,199.84 L210.80,200.08 L211.05,200.14 L211.30,200.02 L211.55,199.32 L211.80,199.23 L212.05,200.65 L212.30,200.22 L212.55,199.26 L212.80,199.85 L213.05,200.32 L213.30,200.21 L213.55,199.14 L213.80,199.09 L214.05,199.28 L214.30,198.73 L214.55,199.46 L214.80,199.69 L215.05,199.80 L215.30,201.25 L215.55,201.24 L215.80,200.23 L216.05,199.54 L216.30,198.97 L216.55,198.91 L216.80,198.96 L217.05,198.96 L217.30,198.91 L217.55,199.28 L217.80,199.15 L218.05,198.65 L218.30,198.50 L218.55,199.29 L218.80,199.89 L219.05,200.13 L219.30,200.55 L219.55,199.98 L219.80,199.83 L220.05,199.38 L220.30,200.06 L220.55,201.16 L220.80,200.12 L221.05,199.15 L221.30,199.40 L221.55,199.11 L221.80,198.63 L222.05,199.73 L222.30,200.09 L222.55,199.58 L222.80,199.95 L223.05,199.72 L223.30,199.45 L223.55,199.68 L223.80,199.22 L224.05,199.62 L224.30,199.56 L224.55,200.17 L224.80,200.34 L225.05,200.38 L225.30,200.18 L225.55,199.61 L225.80,199.57 L226.05,198.76 L226.30,199.33 L226.55,200.18 L226.80,199.58 L227.05,199.80 L227.30,200.00 L227.55,199.57 L227.80,200.06 L228.05,200.26 L228.30,199.36 L228.55,199.79 L228.80,200.77 L229.05,199.93 L229.30,199.28 L229.55,198.75 L229.80,198.62 L230.05,199.55 L230.30,199.94 L230.55,199.22 L230.80,199.12 L231.05,200.21 L231.30,200.27 L231.55,199.36 L231.80,200.03 L232.05,200.43 L232.30,199.87 L232.55,199.40 L232.80,198.72 L233.05,198.46 L233.30,198.88 L233.55,199.25 L233.80,199.57 L234.05,199.86 L234.30,199.78 L234.55,199.62 L234.80,199.08 L235.05,198.08 L235.30,198.26 L235.55,198.73 L235.80,198.65 L236.05,198.90 L236.30,198.63 L236.55,198.26 L236.80,198.71 L237.05,199.19 L237.30,198.93 L237.55,199.07 L237.80,199.22 L238.05,198.57 L238.30,198.65 L238.55,199.82 L238.80,199.50 L239.05,199.18 L239.30,200.00 L239.55,200.11 L239.80,199.18 L240.05,199.37 L240.30,199.73 L240.55,198.77 L240.80,198.60 L241.05,198.93 L241.30,199.02 L241.55,198.67 L241.80,199.15 L242.05,198.90 L242.30,197.92 L242.55,198.52 L242.80,199.21 L243.05,199.31 L243.30,198.55 L243.55,198.52 L243.80,199.13 L244.05,199.38 L244.30,198.65 L244.55,197.99 L244.80,198.36 L245.05,197.59 L245.30,197.39 L245.55,198.47 L245.80,198.55 L246.05,197.76 L246.30,198.29 L246.55,198.96 L246.80,198.98 L247.05,198.23 L247.30,197.77 L247.55,198.49 L247.80,198.22 L248.05,197.46 L248.30,198.04 L248.55,198.96 L248.80,198.13 L249.05,196.40 L249.30,196.25 L249.55,196.87 L249.80,197.38 L250.05,198.02 L250.30,197.98 L250.55,197.42 L250.80,197.51 L251.05,197.38 L251.30,197.27 L251.55,197.37 L251.80,198.45 L252.05,199.02 L252.30,197.56 L252.55,196.79 L252.80,196.92 L253.05,196.63 L253.30,196.48 L253.55,196.82 L253.80,197.45 L254.05,197.55 L254.30,196.84 L254.55,196.43 L254.80,196.25 L255.05,196.73 L255.30,197.08 L255.55,197.52 L255.80,197.31 L256.05,197.23 L256.30,197.55 L256.55,197.07 L256.80,196.11 L257.05,195.54 L257.30,196.61 L257.55,197.65 L257.80,197.39 L258.05,197.08 L258.30,196.78 L258.55,196.27 L258.80,196.12 L259.05,196.61 L259.30,196.97 L259.55,196.43 L259.80,196.10 L260.05,196.37 L260.30,196.58 L260.55,195.96 L260.80,196.46 L261.05,196.84 L261.30,196.09 L261.55,196.52 L261.80,196.87 L262.05,196.17 L262.30,195.90 L262.55,195.43 L262.80,194.88 L263.05,194.32 L263.30,194.99 L263.55,195.05 L263.80,194.74 L264.05,195.07 L264.30,194.30 L264.55,194.45 L264.80,194.83 L265.05,195.03 L265.30,195.48 L265.55,195.22 L265.80,194.68 L266.05,194.10 L266.30,193.82 L266.55,193.88 L266.80,193.14 L267.05,192.73 L267.30,192.54 L267.55,192.25 L267.80,191.96 L268.05,191.12 L268.30,189.98 L268.55,189.67 L268.80,188.26 L269.05,186.44 L269.30,186.11 L269.55,183.15 L269.80,179.46 L270.05,177.10 L270.30,171.74 L270.55,166.05 L270.80,157.88 L271.05,149.58 L271.30,146.22 L271.55,146.56 L271.80,151.59 L272.05,159.26 L272.30,166.46 L272.55,172.68 L272.80,177.17 L273.05,180.13 L273.30,183.51 L273.55,185.06 L273.80,185.95 L274.05,187.56 L274.30,188.03 L274.55,189.10 L274.80,190.30 L275.05,189.66 L275.30,189.89 L275.55,190.50 L275.80,190.52 L276.05,191.08 L276.30,191.24 L276.55,191.75 L276.80,191.88 L277.05,191.98 L277.30,192.33 L277.55,192.34 L277.80,192.19 L278.05,191.67 L278.30,191.44 L278.55,191.88 L278.80,192.70 L279.05,193.29 L279.30,193.39 L279.55,192.59 L279.80,191.92 L280.05,191.90 L280.30,191.88 L280.55,192.22 L280.80,192.50 L281.05,191.48 L281.30,190.73 L281.55,191.52 L281.80,191.84 L282.05,191.15 L282.30,191.48 L282.55,191.42 L282.80,190.88 L283.05,190.92 L283.30,190.35 L283.55,191.00 L283.80,191.43 L284.05,191.00 L284.30,191.33 L284.55,191.99 L284.80,192.40 L285.05,192.25 L285.30,191.73 L285.55,191.80 L285.80,191.99 L286.05,192.24 L286.30,193.06 L286.55,193.01 L286.80,193.75 L287.05,194.04 L287.30,193.52 L287.55,193.42 L287.80,193.16 L288.05,193.53 L288.30,194.09 L288.55,193.23 L288.80,193.25 L289.05,194.00 L289.30,193.99 L289.55,194.00 L289.80,193.15 L290.05,192.53 L290.30,193.78 L290.55,194.38 L290.80,193.13 L291.05,193.19 L291.30,193.64 L291.55,192.80 L291.80,192.07 L292.05,192.19 L292.30,193.23 L292.55,193.87 L292.80,193.68 L293.05,193.84 L293.30,194.20 L293.55,193.28 L293.80,192.94 L294.05,193.47 L294.30,193.12 L294.55,193.25 L294.80,193.71 L295.05,193.84 L295.30,193.33 L295.55,193.27 L295.80,194.65 L296.05,194.45 L296.30,193.00 L296.55,193.55 L296.80,194.46 L297.05,194.56 L297.30,193.90 L297.55,194.12 L297.80,194.27 L298.05,193.45 L298.30,193.54 L298.55,193.96 L298.80,194.49 L299.05,194.80 L299.30,194.52 L299.55,194.66 L299.80,194.71 L300.05,194.72 L300.30,194.15 L300.55,193.19 L300.80,194.06 L301.05,194.15 L301.30,193.74 L301.55,194.27 L301.80,194.21 L302.05,194.08 L302.30,194.83 L302.55,194.03 L302.80,193.85 L303.05,195.76 L303.30,195.43 L303.55,194.54 L303.80,194.83 L304.05,195.57 L304.30,194.83 L304.55,194.16 L304.80,194.57 L305.05,194.77 L305.30,194.92 L305.55,194.97 L305.80,194.76 L306.05,194.53 L306.30,194.45 L306.55,194.18 L306.80,194.40 L307.05,194.62 L307.30,194.23 L307.55,194.91 L307.80,195.33 L308.05,194.19 L308.30,194.69 L308.55,194.95 L308.80,194.73 L309.05,195.03 L309.30,194.94 L309.55,195.03 L309.80,194.72 L310.05,194.68 L310.30,195.71 L310.55,194.82 L310.80,194.06 L311.05,195.11 L311.30,194.68 L311.55,193.99 L311.80,195.24 L312.05,195.64 L312.30,195.62 L312.55,195.98 L312.80,195.20 L313.05,195.19 L313.30,195.41 L313.55,195.69 L313.80,195.62 L314.05,195.22 L314.30,195.13 L314.55,195.60 L314.80,195.86 L315.05,194.95 L315.30,194.39 L315.55,194.92 L315.80,194.93 L316.05,194.66 L316.30,194.54 L316.55,194.59 L316.80,195.13 L317.05,195.62 L317.30,195.47 L317.55,195.89 L317.80,195.87 L318.05,196.30 L318.30,196.73 L318.55,195.69 L318.80,195.11 L319.05,193.83 L319.30,193.97 L319.55,195.14 L319.80,195.95 L320.05,195.35 L320.30,195.35 L320.55,195.79 L320.80,195.34 L321.05,194.46 L321.30,194.24 L321.55,195.10 L321.80,195.31 L322.05,195.49 L322.30,194.79 L322.55,195.12 L322.80,195.84 L323.05,195.71 L323.30,195.83 L323.55,196.03 L323.80,195.64 L324.05,194.69 L324.30,194.17 L324.55,195.22 L324.80,196.03 L325.05,195.56 L325.30,195.12 L325.55,195.10 L325.80,195.28 L326.05,195.14 L326.30,194.86 L326.55,195.83 L326.80,196.19 L327.05,195.12 L327.30,194.53 L327.55,194.49 L327.80,195.27 L328.05,195.84 L328.30,195.48 L328.55,195.20 L328.80,195.17 L329.05,194.72 L329.30,195.33 L329.55,195.90 L329.80,196.34 L330.05,195.90 L330.30,194.89 L330.55,195.51 L330.80,195.46 L331.05,194.58 L331.30,194.29 L331.55,194.84 L331.80,195.30 L332.05,195.19 L332.30,195.39 L332.55,195.74 L332.80,195.39 L333.05,194.91 L333.30,194.55 L333.55,194.56 L333.80,194.75 L334.05,194.22 L334.30,193.57 L334.55,192.80 L334.80,191.31 L335.05,190.18 L335.30,190.31 L335.55,190.68 L335.80,191.44 L336.05,192.13 L336.30,192.73 L336.55,193.96 L336.80,194.59 L337.05,194.29 L337.30,194.18 L337.55,194.71 L337.80,194.60 L338.05,194.88 L338.30,195.76 L338.55,195.50 L338.80,195.94 L339.05,196.09 L339.30,195.32 L339.55,195.40 L339.80,195.25 L340.05,195.54 L340.30,195.85 L340.55,196.35 L340.80,196.60 L341.05,196.21 L341.30,195.92 L341.55,195.21 L341.80,195.28 L342.05,195.52 L342.30,195.93 L342.55,196.26 L342.80,196.54 L343.05,196.85 L343.30,196.56 L343.55,196.38 L343.80,196.16 L344.05,196.34 L344.30,196.62 L344.55,196.13 L344.80,195.98 L345.05,197.24 L345.30,197.04 L345.55,195.97 L345.80,195.76 L346.05,195.33 L346.30,196.05 L346.55,196.63 L346.80,196.31 L347.05,196.99 L347.30,197.82 L347.55,196.82 L347.80,196.29 L348.05,196.86 L348.30,196.63 L348.55,196.59 L348.80,196.44 L349.05,196.87 L349.30,197.12 L349.55,196.67 L349.80,196.92 L350.05,197.13 L350.30,196.85 L350.55,196.65 L350.80,197.15 L351.05,197.23 L351.30,196.56 L351.55,196.06 L351.80,195.98 L352.05,195.92 L352.30,196.10 L352.55,196.60 L352.80,195.81 L353.05,195.74 L353.30,196.75 L353.55,196.81 L353.80,196.23 L354.05,196.65 L354.30,196.76 L354.55,195.85 L354.80,195.72 L355.05,196.18 L355.30,196.95 L355.55,197.40 L355.80,197.12 L356.05,196.27 L356.30,195.96 L356.55,196.08 L356.80,196.27 L357.05,195.96 L357.30,196.07 L357.55,196.97 L357.80,196.89 L358.05,196.83 L358.30,196.55 L358.55,195.86 L358.80,195.98 L359.05,196.95 L359.30,197.57 L359.55,196.99 L359.80,197.06 L360.05,197.12 L360.30,197.24 L360.55,197.54 L360.80,196.84 L361.05,196.96 L361.30,196.85 L361.55,196.23 L361.80,195.99 L362.05,196.44 L362.30,196.95 L362.55,196.84 L362.80,196.72 L363.05,197.28 L363.30,197.28 L363.55,196.50 L363.80,197.11 L364.05,197.90 L364.30,197.58 L364.55,196.44 L364.80,196.10 L365.05,196.96 L365.30,197.19 L365.55,197.54 L365.80,197.04 L366.05,196.73 L366.30,197.00 L366.55,197.24 L366.80,197.44 L367.05,197.34 L367.30,197.13 L367.55,196.25 L367.80,196.09 L368.05,196.38 L368.30,196.41 L368.55,197.06 L368.80,197.92 L369.05,197.58 L369.30,196.72 L369.55,196.58 L369.80,196.70 L370.05,197.26 L370.30,197.62 L370.55,197.27 L370.80,197.00 L371.05,196.10 L371.30,195.96 L371.55,196.27 L371.80,196.67 L372.05,197.09 L372.30,196.65 L372.55,196.46 L372.80,197.29 L373.05,197.07 L373.30,196.16 L373.55,196.40 L373.80,196.45 L374.05,196.35 L374.30,196.76 L374.55,197.50 L374.80,196.63 L375.05,195.97 L375.30,196.57 L375.55,196.50 L375.80,196.37 L376.05,196.22 L376.30,196.57 L376.55,196.46 L376.80,195.98 L377.05,196.06 L377.30,196.05 L377.55,195.88 L377.80,196.08 L378.05,196.01 L378.30,195.58 L378.55,195.41 L378.80,194.81 L379.05,194.34 L379.30,194.11 L379.55,194.22 L379.80,194.06 L380.05,193.30 L380.30,193.27 L380.55,193.42 L380.80,192.24 L381.05,192.10 L381.30,192.12 L381.55,190.75 L381.80,190.25 L382.05,189.28 L382.30,187.44 L382.55,186.68 L382.80,184.65 L383.05,181.53 L383.30,179.30 L383.55,175.25 L383.80,170.13 L384.05,164.37 L384.30,156.98 L384.55,145.58 L384.80,130.42 L385.05,113.16 L385.30,93.43 L385.55,75.82 L385.80,69.02 L386.05,76.46 L386.30,93.49 L386.55,113.68 L386.80,131.75 L387.05,145.86 L387.30,156.63 L387.55,164.44 L387.80,170.62 L388.05,175.93 L388.30,179.61 L388.55,182.54 L388.80,184.76 L389.05,187.19 L389.30,189.80 L389.55,190.44 L389.80,190.93 L390.05,191.91 L390.30,193.01 L390.55,193.92 L390.80,194.11 L391.05,194.40 L391.30,194.87 L391.55,195.01 L391.80,195.56 L392.05,195.99 L392.30,196.23 L392.55,196.79 L392.80,197.22 L393.05,197.39 L393.30,197.57 L393.55,197.44 L393.80,197.47 L394.05,197.87 L394.30,197.88 L394.55,198.12 L394.80,198.51 L395.05,197.91 L395.30,197.80 L395.55,198.07 L395.80,198.46 L396.05,198.38 L396.30,197.70 L396.55,197.88 L396.80,198.85 L397.05,199.05 L397.30,198.59 L397.55,198.91 L397.80,198.31 L398.05,198.44 L398.30,199.33 L398.55,199.43 L398.80,199.58 L399.05,199.56 L399.30,199.29 L399.55,199.32 L399.80,199.48 L400.05,200.30 L400.30,200.34 L400.55,199.80 L400.80,199.50 L401.05,199.21 L401.30,199.95 L401.55,199.86 L401.80,199.09 L402.05,199.46 L402.30,199.66 L402.55,200.39 L402.80,199.76 L403.05,199.24 L403.30,200.32 L403.55,199.84 L403.80,199.40 L404.05,199.96 L404.30,200.75 L404.55,200.32 L404.80,199.25 L405.05,199.91 L405.30,200.99 L405.55,200.57 L405.80,199.32 L406.05,199.95 L406.30,200.65 L406.55,200.56 L406.80,200.63 L407.05,200.14 L407.30,200.02 L407.55,200.66 L407.80,201.31 L408.05,200.11 L408.30,199.32 L408.55,200.66 L408.80,200.86 L409.05,199.81 L409.30,199.95 L409.55,200.39 L409.80,200.36 L410.05,200.25 L410.30,200.18 L410.55,200.19 L410.80,200.42 L411.05,200.30 L411.30,200.09 L411.55,200.32 L411.80,200.86 L412.05,201.03 L412.30,200.54 L412.55,200.59 L412.80,200.76 L413.05,200.93 L413.30,200.94 L413.55,201.16 L413.80,201.42 L414.05,200.77 L414.30,200.14 L414.55,200.41 L414.80,200.68 L415.05,200.29 L415.30,199.55 L415.55,198.89 L415.80,199.40 L416.05,200.17 L416.30,200.19 L416.55,199.33 L416.80,199.22 L417.05,199.24 L417.30,198.74 L417.55,198.72 L417.80,197.89 L418.05,197.03 L418.30,195.94 L418.55,194.98 L418.80,194.00 L419.05,193.07 L419.30,191.93 L419.55,189.90 L419.80,187.39 L420.05,184.10 L420.30,181.72 L420.55,180.62 L420.80,181.24 L421.05,183.48 L421.30,185.66 L421.55,188.28 L421.80,191.01 L422.05,192.84 L422.30,194.65 L422.55,196.52 L422.80,197.02 L423.05,197.05 L423.30,196.99 L423.55,197.51 L423.80,198.45 L424.05,198.04 L424.30,198.47 L424.55,199.52 L424.80,199.24 L425.05,198.93 L425.30,198.79 L425.55,199.02 L425.80,198.58 L426.05,197.83 L426.30,198.42 L426.55,197.74 L426.80,196.19 L427.05,194.85 L427.30,193.09 L427.55,192.51 L427.80,193.40 L428.05,194.23 L428.30,195.62 L428.55,197.66 L428.80,198.93 L429.05,198.78 L429.30,198.70 L429.55,199.14 L429.80,200.17 L430.05,201.18 L430.30,201.27 L430.55,200.94 L430.80,200.45 L431.05,200.88 L431.30,201.40 L431.55,201.17 L431.80,201.25 L432.05,201.81 L432.30,201.89 L432.55,201.37 L432.80,200.64 L433.05,200.93 L433.30,201.72 L433.55,201.75 L433.80,201.58 L434.05,201.46 L434.30,201.86 L434.55,202.09 L434.80,201.91 L435.05,201.62 L435.30,201.39 L435.55,201.78 L435.80,201.67 L436.05,201.21 L436.30,201.44 L436.55,202.26 L436.80,202.44 L437.05,202.54 L437.30,202.44 L437.55,201.87 L437.80,201.46 L438.05,201.38 L438.30,202.31 L438.55,202.62 L438.80,202.39 L439.05,202.52 L439.30,202.28 L439.55,201.99 L439.80,202.03 L440.05,202.32 L440.30,202.44 L440.55,202.38 L440.80,202.29 L441.05,201.88 L441.30,201.74 L441.55,201.69 L441.80,202.10 L442.05,201.72 L442.30,201.33 L442.55,202.80 L442.80,202.76 L443.05,201.60 L443.30,201.71 L443.55,202.50 L443.80,202.46 L444.05,202.23 L444.30,202.32 L444.55,201.99 L444.80,202.99 L445.05,203.13 L445.30,201.92 L445.55,201.74 L445.80,202.03 L446.05,202.32 L446.30,202.44 L446.55,202.35 L446.80,201.63 L447.05,201.75 L447.30,202.11 L447.55,201.83 L447.80,201.44 L448.05,201.34 L448.30,201.58 L448.55,201.74 L448.80,201.49 L449.05,201.51 L449.30,202.01 L449.55,201.62 L449.80,201.36 L450.05,201.42 L450.30,201.90 L450.55,201.34 L450.80,200.91 L451.05,201.17 L451.30,201.11 L451.55,201.90 L451.80,201.80 L452.05,201.53 L452.30,201.42 L452.55,201.96 L452.80,202.48 L453.05,202.17 L453.30,201.38 L453.55,200.59 L453.80,201.30 L454.05,201.51 L454.30,200.98 L454.55,201.04 L454.80,200.59 L455.05,200.59 L455.30,200.84 L455.55,200.56 L455.80,200.12 L456.05,199.87 L456.30,199.56 L456.55,199.34 L456.80,199.50 L457.05,198.96 L457.30,198.12 L457.55,197.23 L457.80,195.19 L458.05,193.99 L458.30,193.17 L458.55,190.88 L458.80,188.27 L459.05,184.53 L459.30,180.60 L459.55,177.15 L459.80,174.26 L460.05,172.11 L460.30,172.14 L460.55,175.77 L460.80,179.79 L461.05,184.02 L461.30,187.84 L461.55,189.77 L461.80,192.34 L462.05,194.95 L462.30,195.57 L462.55,196.64 L462.80,197.89 L463.05,198.58 L463.30,199.13 L463.55,198.63 L463.80,199.31 L464.05,200.45 L464.30,201.25 L464.55,201.74 L464.80,201.51 L465.05,201.06 L465.30,200.83 L465.55,200.96 L465.80,200.98 L466.05,201.10 L466.30,200.65 L466.55,200.89 L466.80,201.77 L467.05,202.61 L467.30,202.93 L467.55,202.02 L467.80,202.02 L468.05,201.83 L468.30,201.51 L468.55,201.35 L468.80,202.04 L469.05,202.86 L469.30,202.07 L469.55,201.90 L469.80,202.61 L470.05,202.81 L470.30,202.66 L470.55,202.26 L470.80,201.96 L471.05,202.29 L471.30,202.81 L471.55,202.54 L471.80,201.92 L472.05,202.56 L472.30,202.65 L472.55,202.65 L472.80,203.04 L473.05,202.99 L473.30,203.49 L473.55,203.45 L473.80,203.15 L474.05,202.66 L474.30,202.21 L474.55,202.72 L474.80,203.44 L475.05,203.70 L475.30,203.96 L475.55,203.63 L475.80,202.97 L476.05,203.21 L476.30,203.16 L476.55,202.84 L476.80,202.51 L477.05,202.86 L477.30,202.86 L477.55,202.72 L477.80,202.63 L478.05,202.82 L478.30,202.96 L478.55,202.89 L478.80,202.72 L479.05,202.33 L479.30,203.21 L479.55,203.10 L479.80,202.76 L480.05,202.87 L480.30,202.12 L480.55,202.36 L480.80,203.22 L481.05,202.77 L481.30,202.80 L481.55,202.89 L481.80,202.39 L482.05,202.63 L482.30,202.72 L482.55,203.43 L482.80,203.14 L483.05,202.64 L483.30,203.42 L483.55,202.54 L483.80,201.66 L484.05,202.43 L484.30,202.79 L484.55,202.69 L484.80,203.15 L485.05,202.84 L485.30,202.06 L485.55,201.21 L485.80,201.45 L486.05,201.82 L486.30,201.58 L486.55,201.62 L486.80,200.74 L487.05,200.96 L487.30,201.70 L487.55,201.63 L487.80,201.25 L488.05,201.19 L488.30,201.66 L488.55,201.87 L488.80,201.84 L489.05,202.22 L489.30,202.72 L489.55,202.77 L489.80,202.59 L490.05,202.91 L490.30,203.16 L490.55,201.92 L490.80,201.68 L491.05,202.53 L491.30,203.04 L491.55,202.97 L491.80,202.60 L492.05,202.49 L492.30,202.78 L492.55,202.85 L492.80,202.46 L493.05,202.37 L493.30,202.73 L493.55,202.79 L493.80,202.10 L494.05,202.46 L494.30,202.76 L494.55,202.67 L494.80,203.00 L495.05,203.26 L495.30,203.47 L495.55,202.91 L495.80,202.54 L496.05,202.31 L496.30,202.88 L496.55,203.41 L496.80,203.32 L497.05,203.08 L497.30,202.01 L497.55,202.58 L497.80,203.24 L498.05,202.80 L498.30,202.78 L498.55,202.94 L498.80,203.08 L499.05,202.39 L499.30,202.55 L499.55,202.88 L499.80,202.39 L500.05,203.09 L500.30,203.52 L500.55,202.90 L500.80,202.05 L501.05,202.21 L501.30,202.96 L501.55,202.90 L501.80,202.36 L502.05,202.15 L502.30,202.15 L502.55,202.47 L502.80,203.12 L503.05,203.38 L503.30,202.91 L503.55,202.68 L503.80,203.08 L504.05,202.86 L504.30,202.66 L504.55,203.48 L504.80,203.59 L505.05,203.22 L505.30,203.03 L505.55,202.78 L505.80,202.40 L506.05,202.39 L506.30,203.29 L506.55,203.95 L506.80,203.96 L507.05,203.53 L507.30,203.19 L507.55,202.80 L507.80,202.74 L508.05,203.12 L508.30,202.94 L508.55,203.05 L508.80,202.99 L509.05,202.17 L509.30,202.17 L509.55,202.21 L509.80,202.11 L510.05,202.97 L510.30,203.33 L510.55,203.06 L510.80,203.48 L511.05,203.80 L511.30,203.30 L511.55,203.33 L511.80,203.60 L512.05,203.20 L512.30,203.22 L512.55,202.79 L512.80,202.42 L513.05,202.83 L513.30,203.25 L513.55,203.18 L513.80,202.95 L514.05,203.36 L514.30,203.83 L514.55,203.77 L514.80,203.72 L515.05,203.36 L515.30,202.89 L515.55,203.10 L515.80,203.10 L516.05,202.85 L516.30,203.44 L516.55,203.52 L516.80,202.72 L517.05,202.92 L517.30,203.76 L517.55,203.62 L517.80,203.42 L518.05,203.24 L518.30,202.69 L518.55,202.59 L518.80,202.66 L519.05,203.38 L519.30,203.03 L519.55,202.91 L519.80,202.89 L520.05,202.25 L520.30,202.72 L520.55,202.87 L520.80,202.58 L521.05,201.74 L521.30,201.58 L521.55,201.55 L521.80,201.94 L522.05,201.84 L522.30,200.69 L522.55,199.85 L522.80,198.93 L523.05,197.92 L523.30,197.05 L523.55,195.53 L523.80,192.80 L524.05,188.94 L524.30,183.35 L524.55,177.21 L524.80,170.67 L525.05,167.51 L525.30,171.45 L525.55,177.58 L525.80,182.31 L526.05,185.87 L526.30,186.86 L526.55,186.94 L526.80,187.56 L527.05,189.84 L527.30,193.37 L527.55,195.45 L527.80,197.03 L528.05,198.40 L528.30,199.60 L528.55,200.98 L528.80,201.08 L529.05,201.47 L529.30,201.87 L529.55,201.63 L529.80,201.73 L530.05,202.82 L530.30,203.54 L530.55,203.13 L530.80,203.03 L531.05,203.39 L531.30,203.06 L531.55,202.84 L531.80,204.20" fill="none" stroke="#157015" stroke-width="1.6" stroke-linejoin="round" stroke-linecap="round"/>
<path d="M39.30,147.86 L39.55,147.96 L39.80,147.80 L40.05,147.85 L40.30,147.99 L40.55,147.89 L40.80,148.06 L41.05,147.97 L41.30,147.83 L41.55,147.77 L41.80,147.91 L42.05,148.05 L42.30,147.90 L42.55,147.42 L42.80,147.24 L43.05,147.18 L43.30,146.99 L43.55,146.98 L43.80,146.57 L44.05,146.49 L44.30,146.35 L44.55,146.48 L44.80,146.57 L45.05,146.46 L45.30,146.46 L45.55,146.32 L45.80,145.98 L46.05,145.81 L46.30,145.74 L46.55,145.48 L46.80,145.06 L47.05,144.37 L47.30,144.03 L47.55,143.68 L47.80,143.86 L48.05,143.90 L48.30,143.76 L48.55,143.97 L48.80,143.97 L49.05,143.89 L49.30,143.98 L49.55,144.50 L49.80,144.48 L50.05,144.83 L50.30,145.35 L50.55,145.21 L50.80,145.55 L51.05,145.67 L51.30,145.82 L51.55,146.24 L51.80,146.81 L52.05,147.23 L52.30,147.48 L52.55,147.29 L52.80,147.22 L53.05,147.22 L53.30,147.19 L53.55,147.59 L53.80,147.84 L54.05,147.87 L54.30,148.13 L54.55,148.00 L54.80,147.71 L55.05,147.91 L55.30,147.50 L55.55,147.63 L55.80,147.90 L56.05,147.94 L56.30,148.32 L56.55,148.31 L56.80,148.29 L57.05,148.12 L57.30,148.07 L57.55,148.01 L57.80,147.96 L58.05,148.21 L58.30,148.26 L58.55,148.15 L58.80,147.98 L59.05,147.97 L59.30,148.04 L59.55,148.40 L59.80,148.83 L60.05,149.12 L60.30,149.13 L60.55,149.07 L60.80,148.75 L61.05,148.38 L61.30,148.22 L61.55,148.27 L61.80,148.49 L62.05,148.65 L62.30,148.71 L62.55,148.77 L62.80,148.77 L63.05,148.82 L63.30,148.90 L63.55,148.70 L63.80,148.49 L64.05,148.53 L64.30,148.55 L64.55,148.60 L64.80,148.70 L65.05,149.00 L65.30,148.80 L65.55,148.80 L65.80,148.92 L66.05,148.34 L66.30,148.48 L66.55,148.82 L66.80,148.93 L67.05,149.23 L67.30,149.31 L67.55,149.02 L67.80,149.02 L68.05,148.88 L68.30,148.71 L68.55,148.70 L68.80,148.69 L69.05,148.77 L69.30,148.95 L69.55,148.59 L69.80,148.63 L70.05,148.96 L70.30,149.07 L70.55,149.35 L70.80,149.00 L71.05,148.65 L71.30,148.25 L71.55,148.42 L71.80,148.47 L72.05,148.58 L72.30,148.97 L72.55,148.50 L72.80,148.63 L73.05,148.34 L73.30,147.86 L73.55,148.10 L73.80,148.00 L74.05,148.28 L74.30,148.26 L74.55,148.53 L74.80,148.90 L75.05,148.82 L75.30,149.16 L75.55,148.97 L75.80,148.42 L76.05,148.40 L76.30,148.36 L76.55,148.47 L76.80,149.09 L77.05,149.12 L77.30,149.11 L77.55,149.24 L77.80,148.56 L78.05,148.24 L78.30,148.09 L78.55,147.70 L78.80,148.03 L79.05,148.15 L79.30,148.49 L79.55,148.84 L79.80,148.84 L80.05,148.81 L80.30,148.60 L80.55,148.47 L80.80,148.14 L81.05,148.24 L81.30,148.23 L81.55,148.11 L81.80,148.53 L82.05,148.66 L82.30,148.37 L82.55,148.33 L82.80,147.90 L83.05,147.76 L83.30,147.73 L83.55,147.83 L83.80,148.01 L84.05,148.04 L84.30,148.13 L84.55,147.69 L84.80,147.88 L85.05,147.65 L85.30,147.86 L85.55,148.13 L85.80,147.90 L86.05,148.18 L86.30,147.95 L86.55,148.06 L86.80,147.63 L87.05,147.41 L87.30,147.24 L87.55,146.90 L87.80,147.07 L88.05,146.90 L88.30,147.13 L88.55,146.73 L88.80,146.63 L89.05,146.34 L89.30,146.12 L89.55,146.23 L89.80,146.15 L90.05,146.03 L90.30,145.77 L90.55,145.81 L90.80,145.44 L91.05,145.27 L91.30,144.65 L91.55,144.22 L91.80,144.09 L92.05,143.61 L92.30,143.61 L92.55,142.72 L92.80,141.70 L93.05,140.93 L93.30,139.93 L93.55,139.44 L93.80,138.77 L94.05,137.87 L94.30,136.78 L94.55,135.19 L94.80,133.25 L95.05,131.07 L95.30,129.07 L95.55,126.29 L95.80,123.87 L96.05,121.73 L96.30,119.09 L96.55,117.48 L96.80,116.39 L97.05,116.06 L97.30,116.82 L97.55,118.12 L97.80,119.94 L98.05,121.63 L98.30,123.26 L98.55,125.02 L98.80,125.83 L99.05,126.15 L99.30,126.32 L99.55,126.47 L99.80,126.76 L100.05,127.40 L100.30,128.54 L100.55,129.34 L100.80,131.01 L101.05,132.67 L101.30,134.05 L101.55,135.89 L101.80,137.44 L102.05,138.64 L102.30,139.60 L102.55,140.22 L102.80,140.81 L103.05,141.54 L103.30,142.25 L103.55,142.81 L103.80,143.07 L104.05,143.67 L104.30,143.87 L104.55,144.42 L104.80,144.80 L105.05,144.76 L105.30,144.70 L105.55,144.91 L105.80,144.98 L106.05,145.32 L106.30,145.35 L106.55,144.99 L106.80,144.68 L107.05,144.43 L107.30,145.00 L107.55,145.42 L107.80,145.82 L108.05,146.02 L108.30,146.00 L108.55,145.87 L108.80,145.96 L109.05,145.97 L109.30,145.47 L109.55,145.45 L109.80,145.61 L110.05,145.50 L110.30,145.83 L110.55,145.77 L110.80,145.42 L111.05,145.65 L111.30,145.59 L111.55,145.47 L111.80,144.98 L112.05,144.64 L112.30,144.29 L112.55,144.09 L112.80,144.68 L113.05,144.82 L113.30,144.75 L113.55,145.11 L113.80,144.96 L114.05,144.60 L114.30,144.94 L114.55,144.40 L114.80,143.99 L115.05,143.75 L115.30,143.29 L115.55,143.55 L115.80,143.36 L116.05,143.23 L116.30,143.06 L116.55,142.74 L116.80,142.68 L117.05,142.77 L117.30,142.55 L117.55,142.01 L117.80,141.68 L118.05,141.20 L118.30,140.80 L118.55,140.67 L118.80,140.62 L119.05,140.05 L119.30,139.69 L119.55,139.30 L119.80,138.26 L120.05,137.52 L120.30,136.56 L120.55,135.55 L120.80,134.80 L121.05,133.86 L121.30,132.86 L121.55,131.68 L121.80,130.24 L122.05,128.34 L122.30,126.40 L122.55,124.02 L122.80,121.50 L123.05,118.85 L123.30,115.49 L123.55,111.67 L123.80,106.99 L124.05,102.18 L124.30,96.72 L124.55,90.79 L124.80,84.25 L125.05,77.11 L125.30,69.84 L125.55,62.69 L125.80,57.02 L126.05,52.62 L126.30,50.62 L126.55,50.85 L126.80,53.43 L127.05,57.95 L127.30,63.97 L127.55,71.03 L127.80,78.30 L128.05,85.60 L128.30,92.18 L128.55,98.34 L128.80,103.58 L129.05,108.33 L129.30,112.61 L129.55,116.05 L129.80,119.11 L130.05,121.82 L130.30,124.01 L130.55,126.19 L130.80,128.27 L131.05,129.98 L131.30,131.41 L131.55,132.40 L131.80,133.32 L132.05,134.16 L132.30,135.30 L132.55,136.25 L132.80,136.93 L133.05,137.72 L133.30,138.03 L133.55,138.59 L133.80,139.38 L134.05,139.93 L134.30,140.50 L134.55,140.92 L134.80,140.78 L135.05,140.90 L135.30,141.06 L135.55,141.28 L135.80,141.57 L136.05,141.66 L136.30,141.78 L136.55,141.95 L136.80,142.40 L137.05,142.58 L137.30,142.43 L137.55,142.30 L137.80,141.87 L138.05,141.73 L138.30,142.15 L138.55,142.41 L138.80,142.60 L139.05,142.78 L139.30,142.55 L139.55,142.23 L139.80,142.06 L140.05,141.83 L140.30,142.14 L140.55,142.08 L140.80,142.44 L141.05,142.70 L141.30,142.32 L141.55,142.40 L141.80,141.93 L142.05,141.53 L142.30,141.47 L142.55,141.26 L142.80,141.28 L143.05,141.21 L143.30,140.85 L143.55,140.55 L143.80,139.99 L144.05,139.42 L144.30,138.69 L144.55,138.16 L144.80,137.60 L145.05,136.71 L145.30,136.49 L145.55,135.39 L145.80,134.23 L146.05,133.31 L146.30,131.35 L146.55,129.94 L146.80,128.18 L147.05,126.08 L147.30,124.21 L147.55,121.92 L147.80,119.53 L148.05,116.60 L148.30,113.17 L148.55,109.15 L148.80,104.43 L149.05,99.75 L149.30,94.65 L149.55,89.85 L149.80,86.19 L150.05,83.20 L150.30,81.83 L150.55,82.22 L150.80,83.90 L151.05,86.71 L151.30,90.79 L151.55,95.13 L151.80,99.81 L152.05,104.60 L152.30,109.21 L152.55,113.47 L152.80,116.86 L153.05,120.10 L153.30,122.42 L153.55,124.74 L153.80,127.06 L154.05,128.93 L154.30,130.40 L154.55,131.73 L154.80,132.94 L155.05,134.02 L155.30,135.48 L155.55,136.15 L155.80,136.88 L156.05,137.36 L156.30,137.77 L156.55,138.56 L156.80,139.04 L157.05,139.45 L157.30,139.80 L157.55,139.85 L157.80,139.77 L158.05,140.20 L158.30,140.37 L158.55,140.47 L158.80,140.72 L159.05,140.76 L159.30,141.14 L159.55,141.68 L159.80,142.02 L160.05,141.77 L160.30,141.53 L160.55,141.45 L160.80,141.39 L161.05,141.74 L161.30,141.68 L161.55,141.83 L161.80,141.93 L162.05,141.74 L162.30,141.48 L162.55,141.36 L162.80,140.83 L163.05,140.82 L163.30,141.04 L163.55,140.23 L163.80,140.01 L164.05,139.34 L164.30,138.63 L164.55,138.30 L164.80,137.94 L165.05,137.37 L165.30,136.43 L165.55,135.57 L165.80,134.04 L166.05,132.52 L166.30,131.30 L166.55,129.08 L166.80,126.82 L167.05,124.26 L167.30,120.62 L167.55,116.81 L167.80,112.99 L168.05,108.37 L168.30,103.80 L168.55,99.64 L168.80,95.57 L169.05,92.99 L169.30,92.01 L169.55,92.59 L169.80,93.68 L170.05,94.81 L170.30,94.78 L170.55,93.64 L170.80,91.46 L171.05,88.69 L171.30,85.82 L171.55,83.51 L171.80,83.24 L172.05,84.96 L172.30,88.61 L172.55,93.41 L172.80,97.68 L173.05,101.19 L173.30,103.82 L173.55,104.73 L173.80,104.78 L174.05,103.50 L174.30,100.37 L174.55,95.53 L174.80,88.46 L175.05,79.15 L175.30,67.35 L175.55,54.62 L175.80,42.55 L176.05,34.59 L176.30,34.64 L176.55,41.96 L176.80,54.70 L177.05,69.13 L177.30,81.86 L177.55,93.10 L177.80,102.43 L178.05,109.66 L178.30,116.13 L178.55,120.79 L178.80,123.91 L179.05,126.52 L179.30,128.78 L179.55,130.90 L179.80,132.71 L180.05,134.37 L180.30,135.70 L180.55,136.56 L180.80,137.84 L181.05,139.24 L181.30,140.53 L181.55,141.65 L181.80,142.76 L182.05,143.04 L182.30,143.10 L182.55,143.24 L182.80,143.52 L183.05,143.92 L183.30,144.77 L183.55,145.47 L183.80,145.56 L184.05,145.47 L184.30,145.42 L184.55,145.29 L184.80,144.97 L185.05,144.54 L185.30,143.94 L185.55,143.49 L185.80,142.50 L186.05,141.64 L186.30,139.85 L186.55,137.52 L186.80,134.55 L187.05,130.94 L187.30,126.66 L187.55,123.32 L187.80,122.94 L188.05,124.97 L188.30,129.06 L188.55,133.45 L188.80,136.94 L189.05,139.80 L189.30,141.93 L189.55,142.87 L189.80,143.88 L190.05,144.96 L190.30,145.69 L190.55,146.44 L190.80,147.09 L191.05,147.66 L191.30,147.71 L191.55,148.16 L191.80,147.90 L192.05,147.37 L192.30,147.65 L192.55,147.60 L192.80,147.96 L193.05,148.24 L193.30,148.11 L193.55,148.26 L193.80,148.52 L194.05,148.57 L194.30,148.33 L194.55,148.38 L194.80,148.16 L195.05,148.26 L195.30,148.49 L195.55,148.58 L195.80,148.39 L196.05,148.25 L196.30,147.79 L196.55,147.16 L196.80,146.87 L197.05,146.60 L197.30,146.78 L197.55,146.53 L197.80,146.69 L198.05,146.23 L198.30,145.78 L198.55,145.58 L198.80,144.65 L199.05,144.45 L199.30,144.08 L199.55,143.35 L199.80,143.15 L200.05,142.22 L200.30,141.24 L200.55,140.07 L200.80,138.28 L201.05,136.88 L201.30,135.46 L201.55,134.28 L201.80,133.63 L202.05,132.61 L202.30,132.22 L202.55,132.25 L202.80,133.08 L203.05,134.47 L203.30,135.84 L203.55,137.30 L203.80,138.51 L204.05,139.73 L204.30,140.92 L204.55,141.70 L204.80,142.55 L205.05,143.39 L205.30,144.04 L205.55,145.11 L205.80,145.32 L206.05,145.60 L206.30,145.96 L206.55,146.10 L206.80,146.33 L207.05,146.58 L207.30,146.55 L207.55,146.76 L207.80,147.09 L208.05,147.20 L208.30,147.70 L208.55,147.40 L208.80,147.27 L209.05,147.62 L209.30,147.27 L209.55,147.30 L209.80,147.60 L210.05,147.41 L210.30,147.28 L210.55,147.68 L210.80,147.25 L211.05,146.90 L211.30,147.04 L211.55,146.77 L211.80,146.69 L212.05,146.78 L212.30,146.55 L212.55,146.54 L212.80,146.60 L213.05,146.64 L213.30,146.56 L213.55,146.13 L213.80,145.68 L214.05,145.24 L214.30,145.27 L214.55,145.29 L214.80,145.00 L215.05,144.75 L215.30,143.78 L215.55,143.26 L215.80,142.71 L216.05,142.08 L216.30,141.80 L216.55,141.06 L216.80,140.76 L217.05,140.18 L217.30,139.97 L217.55,140.27 L217.80,141.14 L218.05,141.77 L218.30,142.18 L218.55,142.22 L218.80,142.06 L219.05,141.96 L219.30,142.01 L219.55,142.36 L219.80,141.99 L220.05,142.45 L220.30,142.60 L220.55,142.21 L220.80,142.07 L221.05,141.38 L221.30,140.84 L221.55,141.06 L221.80,141.49 L222.05,142.17 L222.30,143.00 L222.55,143.44 L222.80,144.03 L223.05,144.34 L223.30,144.88 L223.55,145.74 L223.80,146.36 L224.05,146.94 L224.30,147.23 L224.55,147.52 L224.80,147.87 L225.05,147.93 L225.30,148.12 L225.55,148.11 L225.80,148.18 L226.05,148.44 L226.30,148.75 L226.55,148.77 L226.80,149.07 L227.05,149.38 L227.30,149.34 L227.55,149.41 L227.80,149.26 L228.05,149.37 L228.30,149.27 L228.55,149.42 L228.80,149.07 L229.05,148.87 L229.30,148.88 L229.55,148.67 L229.80,148.82 L230.05,148.81 L230.30,149.14 L230.55,149.51 L230.80,149.60 L231.05,149.59 L231.30,149.65 L231.55,149.18 L231.80,148.89 L232.05,149.21 L232.30,149.19 L232.55,149.70 L232.80,149.99 L233.05,149.66 L233.30,149.46 L233.55,149.39 L233.80,149.29 L234.05,149.38 L234.30,149.23 L234.55,148.93 L234.80,149.19 L235.05,149.38 L235.30,149.41 L235.55,149.42 L235.80,149.17 L236.05,149.17 L236.30,149.16 L236.55,149.30 L236.80,149.02 L237.05,148.70 L237.30,148.95 L237.55,149.11 L237.80,149.26 L238.05,149.32 L238.30,149.37 L238.55,149.12 L238.80,149.20 L239.05,149.40 L239.30,149.27 L239.55,149.49 L239.80,149.69 L240.05,149.47 L240.30,149.38 L240.55,149.15 L240.80,148.75 L241.05,148.64 L241.30,148.78 L241.55,148.47 L241.80,148.82 L242.05,148.98 L242.30,148.73 L242.55,149.03 L242.80,148.87 L243.05,148.96 L243.30,148.83 L243.55,148.62 L243.80,148.40 L244.05,148.42 L244.30,148.53 L244.55,148.30 L244.80,148.16 L245.05,147.58 L245.30,147.27 L245.55,147.30 L245.80,147.56 L246.05,147.18 L246.30,147.15 L246.55,146.97 L246.80,146.22 L247.05,146.26 L247.30,145.74 L247.55,145.40 L247.80,145.42 L248.05,144.92 L248.30,144.97 L248.55,144.65 L248.80,144.52 L249.05,144.68 L249.30,144.53 L249.55,144.62 L249.80,144.53 L250.05,144.52 L250.30,144.26 L250.55,144.43 L250.80,144.55 L251.05,145.11 L251.30,145.15 L251.55,145.25 L251.80,145.56 L252.05,145.24 L252.30,145.79 L252.55,146.41 L252.80,146.69 L253.05,146.95 L253.30,147.42 L253.55,147.44 L253.80,147.49 L254.05,147.84 L254.30,147.77 L254.55,147.55 L254.80,147.44 L255.05,147.59 L255.30,147.66 L255.55,148.20 L255.80,148.30 L256.05,147.84 L256.30,147.81 L256.55,147.60 L256.80,147.76 L257.05,148.22 L257.30,148.17 L257.55,148.40 L257.80,148.25 L258.05,148.38 L258.30,148.48 L258.55,148.04 L258.80,148.40 L259.05,147.86 L259.30,147.77 L259.55,148.04 L259.80,147.74 L260.05,148.28 L260.30,148.40 L260.55,148.24 L260.80,148.65 L261.05,148.47 L261.30,148.45 L261.55,148.32 L261.80,147.80 L262.05,147.91 L262.30,148.00 L262.55,148.15 L262.80,148.11 L263.05,148.07 L263.30,147.64 L263.55,147.52 L263.80,147.53 L264.05,147.20 L264.30,147.44 L264.55,147.30 L264.80,147.11 L265.05,147.45 L265.30,147.43 L265.55,147.61 L265.80,147.60 L266.05,147.28 L266.30,147.10 L266.55,146.87 L266.80,147.01 L267.05,146.51 L267.30,146.08 L267.55,145.46 L267.80,143.98 L268.05,143.21 L268.30,142.47 L268.55,141.73 L268.80,141.18 L269.05,140.31 L269.30,138.89 L269.55,136.66 L269.80,134.45 L270.05,131.45 L270.30,127.73 L270.55,123.91 L270.80,120.80 L271.05,118.89 L271.30,119.30 L271.55,121.90 L271.80,124.94 L272.05,128.63 L272.30,131.93 L272.55,134.65 L272.80,136.84 L273.05,138.06 L273.30,139.06 L273.55,139.85 L273.80,140.30 L274.05,141.34 L274.30,141.58 L274.55,141.44 L274.80,141.69 L275.05,141.19 L275.30,140.98 L275.55,140.68 L275.80,140.07 L276.05,139.48 L276.30,138.87 L276.55,137.96 L276.80,136.90 L277.05,135.68 L277.30,134.29 L277.55,132.29 L277.80,130.43 L278.05,128.51 L278.30,126.80 L278.55,126.07 L278.80,125.52 L279.05,125.43 L279.30,125.69 L279.55,126.40 L279.80,127.62 L280.05,128.69 L280.30,130.08 L280.55,131.59 L280.80,132.46 L281.05,133.14 L281.30,133.88 L281.55,134.08 L281.80,134.34 L282.05,135.02 L282.30,135.01 L282.55,134.83 L282.80,134.63 L283.05,133.99 L283.30,133.23 L283.55,132.47 L283.80,131.35 L284.05,130.08 L284.30,128.74 L284.55,127.39 L284.80,125.87 L285.05,124.48 L285.30,123.72 L285.55,122.89 L285.80,122.61 L286.05,122.78 L286.30,122.98 L286.55,123.83 L286.80,124.98 L287.05,126.25 L287.30,127.92 L287.55,129.38 L287.80,131.12 L288.05,132.45 L288.30,133.53 L288.55,135.14 L288.80,136.14 L289.05,137.44 L289.30,138.67 L289.55,139.21 L289.80,140.04 L290.05,140.48 L290.30,140.98 L290.55,141.61 L290.80,142.20 L291.05,143.18 L291.30,143.53 L291.55,144.28 L291.80,144.43 L292.05,144.24 L292.30,144.26 L292.55,144.50 L292.80,144.81 L293.05,145.26 L293.30,145.73 L293.55,145.46 L293.80,145.86 L294.05,146.10 L294.30,146.67 L294.55,146.94 L294.80,146.43 L295.05,146.70 L295.30,146.43 L295.55,146.51 L295.80,147.26 L296.05,147.15 L296.30,147.48 L296.55,147.59 L296.80,147.25 L297.05,147.44 L297.30,147.20 L297.55,147.45 L297.80,147.79 L298.05,147.75 L298.30,147.99 L298.55,147.92 L298.80,147.74 L299.05,147.91 L299.30,147.79 L299.55,147.83 L299.80,147.73 L300.05,147.61 L300.30,147.71 L300.55,147.46 L300.80,147.53 L301.05,147.40 L301.30,147.44 L301.55,147.43 L301.80,147.54 L302.05,147.86 L302.30,147.77 L302.55,147.59 L302.80,147.50 L303.05,147.39 L303.30,147.24 L303.55,147.66 L303.80,147.70 L304.05,147.54 L304.30,147.50 L304.55,147.17 L304.80,146.97 L305.05,146.85 L305.30,146.92 L305.55,147.01 L305.80,146.93 L306.05,146.85 L306.30,146.74 L306.55,146.31 L306.80,146.13 L307.05,145.88 L307.30,145.67 L307.55,145.77 L307.80,145.72 L308.05,145.57 L308.30,145.55 L308.55,145.47 L308.80,145.04 L309.05,144.98 L309.30,144.44 L309.55,144.42 L309.80,144.34 L310.05,143.96 L310.30,143.83 L310.55,143.15 L310.80,142.84 L311.05,142.78 L311.30,142.42 L311.55,142.23 L311.80,142.11 L312.05,141.43 L312.30,141.51 L312.55,141.40 L312.80,141.38 L313.05,141.48 L313.30,141.48 L313.55,141.61 L313.80,141.56 L314.05,142.28 L314.30,142.41 L314.55,142.44 L314.80,142.67 L315.05,142.52 L315.30,142.65 L315.55,142.78 L315.80,142.92 L316.05,142.93 L316.30,142.41 L316.55,142.07 L316.80,141.49 L317.05,141.01 L317.30,141.16 L317.55,141.00 L317.80,140.56 L318.05,140.01 L318.30,139.38 L318.55,138.54 L318.80,137.96 L319.05,137.22 L319.30,135.78 L319.55,134.91 L319.80,133.76 L320.05,132.44 L320.30,131.10 L320.55,129.25 L320.80,127.47 L321.05,125.84 L321.30,124.58 L321.55,123.59 L321.80,123.24 L322.05,123.16 L322.30,123.27 L322.55,123.83 L322.80,124.85 L323.05,125.84 L323.30,127.53 L323.55,129.24 L323.80,130.08 L324.05,131.17 L324.30,131.86 L324.55,132.16 L324.80,132.61 L325.05,132.94 L325.30,133.27 L325.55,133.42 L325.80,133.57 L326.05,133.59 L326.30,133.36 L326.55,134.00 L326.80,134.14 L327.05,134.77 L327.30,135.86 L327.55,136.17 L327.80,137.45 L328.05,138.48 L328.30,138.88 L328.55,139.71 L328.80,139.91 L329.05,140.19 L329.30,140.70 L329.55,141.01 L329.80,141.68 L330.05,141.89 L330.30,142.28 L330.55,142.50 L330.80,142.20 L331.05,142.27 L331.30,142.21 L331.55,141.93 L331.80,142.41 L332.05,142.42 L332.30,142.42 L332.55,142.53 L332.80,142.32 L333.05,142.35 L333.30,142.22 L333.55,142.35 L333.80,141.94 L334.05,142.07 L334.30,141.88 L334.55,141.43 L334.80,141.55 L335.05,141.09 L335.30,141.26 L335.55,141.36 L335.80,141.44 L336.05,141.29 L336.30,141.48 L336.55,141.62 L336.80,141.78 L337.05,141.62 L337.30,141.19 L337.55,140.74 L337.80,140.28 L338.05,140.31 L338.30,139.65 L338.55,139.29 L338.80,138.64 L339.05,137.88 L339.30,137.60 L339.55,137.18 L339.80,136.65 L340.05,136.43 L340.30,136.16 L340.55,135.64 L340.80,135.38 L341.05,135.03 L341.30,134.67 L341.55,134.66 L341.80,134.92 L342.05,135.22 L342.30,135.66 L342.55,136.13 L342.80,136.80 L343.05,137.48 L343.30,137.86 L343.55,138.44 L343.80,138.86 L344.05,138.97 L344.30,139.61 L344.55,140.12 L344.80,140.23 L345.05,140.73 L345.30,140.76 L345.55,141.00 L345.80,141.08 L346.05,141.78 L346.30,142.54 L346.55,143.06 L346.80,143.65 L347.05,143.60 L347.30,143.72 L347.55,143.82 L347.80,144.05 L348.05,143.82 L348.30,143.70 L348.55,143.44 L348.80,143.08 L349.05,143.02 L349.30,142.98 L349.55,143.20 L349.80,143.11 L350.05,143.51 L350.30,143.60 L350.55,143.24 L350.80,143.27 L351.05,142.82 L351.30,142.57 L351.55,142.39 L351.80,142.08 L352.05,141.92 L352.30,141.16 L352.55,140.97 L352.80,141.06 L353.05,140.73 L353.30,140.87 L353.55,140.56 L353.80,140.11 L354.05,139.70 L354.30,139.05 L354.55,138.56 L354.80,138.09 L355.05,137.99 L355.30,138.17 L355.55,138.12 L355.80,137.93 L356.05,137.60 L356.30,137.39 L356.55,137.72 L356.80,138.13 L357.05,138.51 L357.30,138.71 L357.55,138.94 L357.80,139.25 L358.05,139.56 L358.30,140.00 L358.55,140.40 L358.80,140.58 L359.05,141.09 L359.30,141.49 L359.55,141.38 L359.80,141.71 L360.05,141.52 L360.30,141.27 L360.55,141.30 L360.80,141.05 L361.05,141.19 L361.30,141.35 L361.55,141.49 L361.80,141.76 L362.05,141.11 L362.30,141.13 L362.55,140.68 L362.80,140.51 L363.05,140.80 L363.30,140.66 L363.55,141.07 L363.80,140.61 L364.05,140.62 L364.30,140.40 L364.55,139.65 L364.80,139.83 L365.05,139.57 L365.30,139.26 L365.55,139.22 L365.80,139.43 L366.05,139.14 L366.30,138.74 L366.55,138.56 L366.80,137.85 L367.05,137.81 L367.30,138.12 L367.55,138.17 L367.80,138.45 L368.05,138.61 L368.30,138.61 L368.55,138.90 L368.80,139.02 L369.05,139.52 L369.30,140.11 L369.55,140.47 L369.80,140.81 L370.05,140.96 L370.30,141.46 L370.55,141.64 L370.80,141.92 L371.05,142.19 L371.30,141.86 L371.55,142.15 L371.80,142.24 L372.05,142.16 L372.30,142.53 L372.55,142.77 L372.80,143.01 L373.05,143.13 L373.30,143.13 L373.55,143.40 L373.80,143.07 L374.05,143.17 L374.30,143.30 L374.55,142.94 L374.80,143.24 L375.05,143.22 L375.30,143.18 L375.55,143.34 L375.80,143.15 L376.05,143.12 L376.30,143.00 L376.55,142.72 L376.80,142.75 L377.05,142.50 L377.30,142.60 L377.55,142.89 L377.80,143.11 L378.05,143.41 L378.30,143.00 L378.55,142.81 L378.80,142.21 L379.05,141.75 L379.30,141.95 L379.55,141.18 L379.80,141.05 L380.05,140.62 L380.30,139.66 L380.55,138.96 L380.80,138.02 L381.05,136.88 L381.30,135.89 L381.55,134.81 L381.80,132.80 L382.05,130.75 L382.30,128.06 L382.55,124.70 L382.80,121.20 L383.05,117.10 L383.30,112.25 L383.55,106.74 L383.80,101.17 L384.05,95.96 L384.30,91.79 L384.55,90.09 L384.80,91.27 L385.05,94.66 L385.30,99.51 L385.55,105.07 L385.80,110.48 L386.05,115.20 L386.30,119.93 L386.55,123.92 L386.80,127.16 L387.05,129.61 L387.30,131.51 L387.55,133.24 L387.80,134.87 L388.05,136.58 L388.30,137.77 L388.55,139.00 L388.80,139.75 L389.05,140.43 L389.30,141.25 L389.55,141.75 L389.80,142.27 L390.05,142.72 L390.30,143.19 L390.55,143.38 L390.80,143.35 L391.05,143.37 L391.30,143.49 L391.55,143.57 L391.80,143.69 L392.05,144.07 L392.30,144.14 L392.55,144.33 L392.80,144.07 L393.05,143.94 L393.30,143.65 L393.55,143.22 L393.80,143.15 L394.05,143.02 L394.30,142.98 L394.55,142.68 L394.80,142.29 L395.05,141.74 L395.30,141.18 L395.55,141.29 L395.80,141.03 L396.05,140.63 L396.30,140.72 L396.55,140.63 L396.80,141.21 L397.05,142.05 L397.30,142.90 L397.55,143.33 L397.80,143.69 L398.05,143.73 L398.30,143.85 L398.55,144.44 L398.80,144.84 L399.05,145.65 L399.30,145.90 L399.55,146.26 L399.80,146.59 L400.05,146.41 L400.30,146.48 L400.55,146.13 L400.80,145.93 L401.05,146.28 L401.30,146.66 L401.55,147.36 L401.80,147.74 L402.05,147.75 L402.30,147.50 L402.55,147.42 L402.80,147.57 L403.05,147.57 L403.30,147.94 L403.55,147.93 L403.80,147.60 L404.05,147.88 L404.30,147.83 L404.55,147.72 L404.80,148.01 L405.05,148.22 L405.30,148.49 L405.55,148.90 L405.80,148.81 L406.05,148.44 L406.30,148.37 L406.55,147.88 L406.80,147.98 L407.05,147.81 L407.30,147.99 L407.55,148.40 L407.80,148.62 L408.05,148.98 L408.30,148.61 L408.55,148.38 L408.80,148.42 L409.05,148.27 L409.30,148.56 L409.55,148.55 L409.80,148.31 L410.05,148.65 L410.30,148.42 L410.55,148.59 L410.80,148.67 L411.05,148.06 L411.30,148.16 L411.55,147.83 L411.80,148.06 L412.05,148.16 L412.30,147.72 L412.55,147.97 L412.80,147.82 L413.05,148.05 L413.30,148.11 L413.55,148.14 L413.80,147.75 L414.05,147.57 L414.30,147.54 L414.55,147.21 L414.80,147.47 L415.05,147.29 L415.30,147.32 L415.55,147.27 L415.80,146.57 L416.05,146.17 L416.30,145.66 L416.55,145.03 L416.80,144.89 L417.05,144.21 L417.30,143.76 L417.55,143.26 L417.80,142.36 L418.05,141.58 L418.30,140.55 L418.55,139.47 L418.80,138.86 L419.05,138.58 L419.30,138.51 L419.55,138.69 L419.80,139.31 L420.05,139.65 L420.30,140.19 L420.55,141.22 L420.80,141.57 L421.05,142.86 L421.30,143.52 L421.55,144.06 L421.80,144.68 L422.05,144.91 L422.30,145.52 L422.55,145.79 L422.80,146.13 L423.05,146.77 L423.30,146.91 L423.55,146.89 L423.80,147.19 L424.05,147.02 L424.30,147.25 L424.55,147.70 L424.80,147.34 L425.05,147.31 L425.30,147.19 L425.55,146.77 L425.80,146.86 L426.05,146.08 L426.30,145.74 L426.55,146.05 L426.80,145.78 L427.05,146.30 L427.30,146.58 L427.55,146.50 L427.80,147.19 L428.05,147.07 L428.30,147.09 L428.55,147.17 L428.80,146.69 L429.05,146.97 L429.30,147.24 L429.55,147.26 L429.80,147.50 L430.05,146.96 L430.30,146.50 L430.55,146.20 L430.80,145.89 L431.05,146.13 L431.30,146.45 L431.55,146.11 L431.80,145.72 L432.05,145.47 L432.30,144.55 L432.55,144.17 L432.80,143.93 L433.05,143.60 L433.30,143.26 L433.55,142.67 L433.80,142.23 L434.05,141.78 L434.30,141.31 L434.55,141.43 L434.80,141.40 L435.05,141.08 L435.30,141.25 L435.55,141.54 L435.80,141.92 L436.05,142.41 L436.30,142.90 L436.55,142.88 L436.80,142.82 L437.05,143.37 L437.30,143.70 L437.55,144.32 L437.80,144.95 L438.05,145.27 L438.30,145.48 L438.55,145.78 L438.80,146.20 L439.05,146.39 L439.30,146.84 L439.55,146.66 L439.80,146.58 L440.05,147.00 L440.30,147.31 L440.55,147.78 L440.80,148.02 L441.05,147.67 L441.30,147.53 L441.55,147.71 L441.80,147.56 L442.05,147.94 L442.30,148.03 L442.55,148.03 L442.80,148.14 L443.05,148.18 L443.30,147.89 L443.55,148.10 L443.80,148.34 L444.05,148.08 L444.30,148.59 L444.55,148.55 L444.80,148.43 L445.05,149.01 L445.30,148.62 L445.55,148.49 L445.80,148.80 L446.05,148.04 L446.30,148.37 L446.55,148.30 L446.80,148.09 L447.05,148.27 L447.30,148.14 L447.55,147.94 L447.80,147.76 L448.05,147.83 L448.30,147.53 L448.55,147.94 L448.80,147.84 L449.05,147.74 L449.30,147.83 L449.55,147.50 L449.80,147.79 L450.05,147.97 L450.30,147.88 L450.55,147.71 L450.80,147.46 L451.05,147.33 L451.30,147.35 L451.55,147.17 L451.80,146.63 L452.05,146.65 L452.30,146.46 L452.55,146.33 L452.80,146.43 L453.05,145.64 L453.30,144.93 L453.55,144.38 L453.80,143.78 L454.05,143.17 L454.30,142.42 L454.55,141.65 L454.80,140.90 L455.05,139.91 L455.30,139.02 L455.55,137.46 L455.80,135.98 L456.05,134.66 L456.30,133.13 L456.55,132.05 L456.80,131.34 L457.05,130.85 L457.30,131.26 L457.55,132.07 L457.80,133.07 L458.05,134.36 L458.30,135.33 L458.55,136.69 L458.80,137.76 L459.05,139.05 L459.30,140.22 L459.55,141.02 L459.80,141.96 L460.05,142.67 L460.30,143.39 L460.55,144.07 L460.80,144.35 L461.05,144.56 L461.30,144.80 L461.55,144.85 L461.80,144.88 L462.05,144.82 L462.30,145.06 L462.55,144.94 L462.80,144.78 L463.05,144.53 L463.30,143.90 L463.55,143.68 L463.80,143.22 L464.05,142.61 L464.30,142.32 L464.55,141.68 L464.80,141.64 L465.05,141.81 L465.30,141.88 L465.55,142.50 L465.80,142.71 L466.05,142.90 L466.30,142.90 L466.55,142.93 L466.80,143.33 L467.05,143.52 L467.30,144.15 L467.55,144.67 L467.80,145.13 L468.05,145.73 L468.30,146.02 L468.55,146.14 L468.80,146.17 L469.05,146.11 L469.30,146.28 L469.55,146.82 L469.80,147.05 L470.05,147.52 L470.30,147.44 L470.55,147.50 L470.80,147.42 L471.05,147.57 L471.30,147.81 L471.55,147.46 L471.80,147.81 L472.05,147.71 L472.30,147.76 L472.55,148.03 L472.80,147.88 L473.05,147.83 L473.30,147.90 L473.55,147.77 L473.80,147.80 L474.05,147.75 L474.30,147.43 L474.55,147.39 L474.80,147.29 L475.05,147.41 L475.30,147.87 L475.55,147.71 L475.80,147.82 L476.05,147.45 L476.30,147.07 L476.55,147.27 L476.80,146.86 L477.05,146.91 L477.30,147.10 L477.55,147.19 L477.80,147.53 L478.05,147.69 L478.30,148.00 L478.55,147.93 L478.80,147.77 L479.05,148.15 L479.30,147.85 L479.55,147.76 L479.80,148.06 L480.05,147.74 L480.30,147.68 L480.55,147.71 L480.80,147.26 L481.05,147.32 L481.30,147.15 L481.55,146.85 L481.80,146.80 L482.05,146.71 L482.30,146.52 L482.55,146.61 L482.80,146.76 L483.05,146.55 L483.30,146.28 L483.55,146.33 L483.80,146.34 L484.05,146.45 L484.30,146.99 L484.55,146.96 L484.80,146.98 L485.05,147.17 L485.30,146.93 L485.55,147.25 L485.80,147.52 L486.05,147.50 L486.30,147.98 L486.55,147.95 L486.80,147.63 L487.05,147.82 L487.30,147.68 L487.55,147.72 L487.80,148.01 L488.05,148.15 L488.30,148.29 L488.55,148.20 L488.80,148.34 L489.05,148.32 L489.30,148.18 L489.55,148.30 L489.80,148.23 L490.05,148.07 L490.30,148.31 L490.55,148.61 L490.80,149.05 L491.05,149.41 L491.30,149.57 L491.55,149.64 L491.80,149.59 L492.05,149.37 L492.30,149.35 L492.55,149.25 L492.80,149.04 L493.05,149.06 L493.30,148.89 L493.55,148.82 L493.80,148.66 L494.05,148.86 L494.30,148.97 L494.55,149.06 L494.80,149.35 L495.05,149.41 L495.30,149.33 L495.55,149.32 L495.80,149.01 L496.05,148.54 L496.30,148.33 L496.55,148.63 L496.80,148.61 L497.05,149.08 L497.30,149.68 L497.55,149.36 L497.80,149.96 L498.05,150.21 L498.30,150.13 L498.55,150.63 L498.80,150.47 L499.05,150.05 L499.30,150.00 L499.55,149.54 L499.80,149.22 L500.05,149.14 L500.30,149.42 L500.55,149.38 L500.80,149.58 L501.05,149.66 L501.30,149.27 L501.55,149.30 L501.80,149.21 L502.05,149.09 L502.30,148.81 L502.55,148.70 L502.80,148.79 L503.05,149.32 L503.30,149.71 L503.55,150.12 L503.80,150.13 L504.05,149.74 L504.30,149.31 L504.55,148.97 L504.80,148.50 L505.05,148.44 L505.30,148.91 L505.55,148.94 L505.80,149.46 L506.05,149.42 L506.30,148.88 L506.55,148.72 L506.80,148.43 L507.05,148.67 L507.30,149.20 L507.55,149.13 L507.80,149.10 L508.05,148.84 L508.30,148.41 L508.55,148.30 L508.80,148.34 L509.05,148.39 L509.30,148.48 L509.55,148.44 L509.80,148.37 L510.05,147.98 L510.30,148.03 L510.55,148.02 L510.80,147.95 L511.05,148.12 L511.30,147.82 L511.55,147.77 L511.80,147.47 L512.05,147.79 L512.30,147.88 L512.55,148.05 L512.80,148.64 L513.05,148.27 L513.30,148.26 L513.55,148.15 L513.80,147.93 L514.05,147.95 L514.30,147.84 L514.55,147.70 L514.80,147.46 L515.05,147.48 L515.30,146.99 L515.55,146.91 L515.80,146.69 L516.05,146.32 L516.30,146.21 L516.55,146.21 L516.80,145.97 L517.05,145.80 L517.30,145.84 L517.55,145.20 L517.80,145.00 L518.05,144.42 L518.30,143.99 L518.55,143.82 L518.80,143.43 L519.05,143.22 L519.30,142.75 L519.55,142.48 L519.80,141.79 L520.05,140.73 L520.30,139.77 L520.55,138.41 L520.80,137.47 L521.05,136.89 L521.30,136.40 L521.55,136.61 L521.80,136.78 L522.05,137.22 L522.30,137.90 L522.55,138.26 L522.80,139.18 L523.05,139.97 L523.30,140.76 L523.55,140.73 L523.80,140.89 L524.05,141.20 L524.30,141.44 L524.55,141.97 L524.80,141.53 L525.05,141.31 L525.30,140.73 L525.55,140.34 L525.80,140.56 L526.05,140.83 L526.30,141.48 L526.55,142.38 L526.80,142.84 L527.05,143.64 L527.30,143.77 L527.55,144.13 L527.80,144.49 L528.05,144.67 L528.30,145.27 L528.55,145.71 L528.80,146.21 L529.05,146.19 L529.30,146.32 L529.55,146.01 L529.80,146.30 L530.05,146.58 L530.30,146.59 L530.55,147.00 L530.80,146.97 L531.05,147.15 L531.30,147.35 L531.55,147.42 L531.80,147.41" fill="none" stroke="#1818b8" stroke-width="2.0" stroke-linejoin="round" stroke-linecap="round"/>
<rect x="31.5" y="5.5" width="500.70000000000005" height="237.1" fill="none" stroke="#1a1a1a" stroke-width="1.3"/>
<line x1="25.90" y1="242.60" x2="31.50" y2="242.60" stroke="#1a1a1a" stroke-width="1.3"/>
<line x1="28.70" y1="227.78" x2="31.50" y2="227.78" stroke="#1a1a1a" stroke-width="1.3"/>
<line x1="25.90" y1="212.96" x2="31.50" y2="212.96" stroke="#1a1a1a" stroke-width="1.3"/>
<line x1="28.70" y1="198.14" x2="31.50" y2="198.14" stroke="#1a1a1a" stroke-width="1.3"/>
<line x1="25.90" y1="183.32" x2="31.50" y2="183.32" stroke="#1a1a1a" stroke-width="1.3"/>
<line x1="28.70" y1="168.51" x2="31.50" y2="168.51" stroke="#1a1a1a" stroke-width="1.3"/>
<line x1="25.90" y1="153.69" x2="31.50" y2="153.69" stroke="#1a1a1a" stroke-width="1.3"/>
<line x1="28.70" y1="138.87" x2="31.50" y2="138.87" stroke="#1a1a1a" stroke-width="1.3"/>
<line x1="25.90" y1="124.05" x2="31.50" y2="124.05" stroke="#1a1a1a" stroke-width="1.3"/>
<line x1="28.70" y1="109.23" x2="31.50" y2="109.23" stroke="#1a1a1a" stroke-width="1.3"/>
<line x1="25.90" y1="94.41" x2="31.50" y2="94.41" stroke="#1a1a1a" stroke-width="1.3"/>
<line x1="28.70" y1="79.59" x2="31.50" y2="79.59" stroke="#1a1a1a" stroke-width="1.3"/>
<line x1="25.90" y1="64.78" x2="31.50" y2="64.78" stroke="#1a1a1a" stroke-width="1.3"/>
<line x1="28.70" y1="49.96" x2="31.50" y2="49.96" stroke="#1a1a1a" stroke-width="1.3"/>
<line x1="25.90" y1="35.14" x2="31.50" y2="35.14" stroke="#1a1a1a" stroke-width="1.3"/>
<line x1="28.70" y1="20.32" x2="31.50" y2="20.32" stroke="#1a1a1a" stroke-width="1.3"/>
<line x1="25.90" y1="5.50" x2="31.50" y2="5.50" stroke="#1a1a1a" stroke-width="1.3"/>
<line x1="67.20" y1="242.60" x2="67.20" y2="247.60" stroke="#1a1a1a" stroke-width="1.3"/>
<line x1="210.10" y1="242.60" x2="210.10" y2="247.60" stroke="#1a1a1a" stroke-width="1.3"/>
<line x1="353.00" y1="242.60" x2="353.00" y2="247.60" stroke="#1a1a1a" stroke-width="1.3"/>
<line x1="495.90" y1="242.60" x2="495.90" y2="247.60" stroke="#1a1a1a" stroke-width="1.3"/>
<line x1="138.65" y1="242.60" x2="138.65" y2="245.40" stroke="#1a1a1a" stroke-width="1.3"/>
<line x1="281.55" y1="242.60" x2="281.55" y2="245.40" stroke="#1a1a1a" stroke-width="1.3"/>
<line x1="424.45" y1="242.60" x2="424.45" y2="245.40" stroke="#1a1a1a" stroke-width="1.3"/>
<text x="67.20" y="263.80" font-size="14.3" text-anchor="middle" fill="#111" stroke="#111" stroke-width="0.42" >20</text>
<text x="210.10" y="263.80" font-size="14.3" text-anchor="middle" fill="#111" stroke="#111" stroke-width="0.42" >40</text>
<text x="353.00" y="263.80" font-size="14.3" text-anchor="middle" fill="#111" stroke="#111" stroke-width="0.42" >60</text>
<text x="495.90" y="263.80" font-size="14.3" text-anchor="middle" fill="#111" stroke="#111" stroke-width="0.42" >80</text>
<text x="279.40" y="263.90" font-size="14.7" text-anchor="middle" fill="#111" stroke="#111" stroke-width="0.42" >2θ (deg.)</text>
<text x="16.90" y="123.70" font-size="14.9" text-anchor="middle" fill="#111" stroke="#111" stroke-width="0.42" transform="rotate(-90 16.9 123.7)">Intensity (a.u.)</text>
<text x="38.50" y="30.50" font-size="24" text-anchor="start" fill="#111" stroke="#111" stroke-width="0.42" >a</text>
<text x="291.50" y="108.90" font-size="14.6" text-anchor="start" fill="#2626c4" stroke="#2626c4" stroke-width="0.42" >annealed NTs</text>
<text x="296.50" y="174.70" font-size="14.6" text-anchor="start" fill="#2f8a2f" stroke="#2f8a2f" stroke-width="0.42" >as-grown NTs</text>
<text x="297.30" y="217.20" font-size="14.5" text-anchor="start" fill="#111" stroke="#111" stroke-width="0.42" >nanopowder</text>
<rect x="457.60" y="15.10" width="3.4" height="3.4" fill="#e8782a"/>
<circle cx="459.30" cy="37.90" r="2.1" fill="#33dd33"/>
<path d="M457.00,55.70 L461.60,55.70 L459.30,59.30 Z" fill="#111"/>
<text x="479.70" y="22.20" font-size="14.3" text-anchor="start" fill="#111" stroke="#111" stroke-width="0.42" >c-HfO<tspan dy="4" font-size="10.5">2</tspan></text>
<text x="479.70" y="43.40" font-size="14.3" text-anchor="start" fill="#111" stroke="#111" stroke-width="0.42" >Hf foil</text>
<text x="479.70" y="61.50" font-size="14.3" text-anchor="start" fill="#111" stroke="#111" stroke-width="0.42" >m-HfO<tspan dy="4" font-size="10.5">2</tspan></text>
<path d="M46.80,136.90 L51.40,136.90 L49.10,140.50 Z" fill="#111"/>
<path d="M94.40,110.60 L99.00,110.60 L96.70,114.20 Z" fill="#111"/>
<path d="M98.60,120.90 L103.20,120.90 L100.90,124.50 Z" fill="#111"/>
<path d="M124.10,43.60 L128.70,43.60 L126.40,47.20 Z" fill="#111"/>
<path d="M148.10,75.00 L152.70,75.00 L150.40,78.60 Z" fill="#111"/>
<path d="M165.90,86.80 L170.50,86.80 L168.20,90.40 Z" fill="#111"/>
<path d="M168.60,77.70 L173.20,77.70 L170.90,81.30 Z" fill="#111"/>
<path d="M174.90,21.00 L179.50,21.00 L177.20,24.60 Z" fill="#111"/>
<path d="M179.50,125.40 L184.10,125.40 L181.80,129.00 Z" fill="#111"/>
<path d="M200.50,125.20 L205.10,125.20 L202.80,128.80 Z" fill="#111"/>
<path d="M217.50,134.50 L222.10,134.50 L219.80,138.10 Z" fill="#111"/>
<path d="M220.50,134.50 L225.10,134.50 L222.80,138.10 Z" fill="#111"/>
<path d="M246.20,136.20 L250.80,136.20 L248.50,139.80 Z" fill="#111"/>
<path d="M274.40,115.20 L279.00,115.20 L276.70,118.80 Z" fill="#111"/>
<path d="M283.70,115.20 L288.30,115.20 L286.00,118.80 Z" fill="#111"/>
<path d="M310.70,135.20 L315.30,135.20 L313.00,138.80 Z" fill="#111"/>
<path d="M321.50,115.20 L326.10,115.20 L323.80,118.80 Z" fill="#111"/>
<path d="M332.40,134.00 L337.00,134.00 L334.70,137.60 Z" fill="#111"/>
<path d="M338.50,126.00 L343.10,126.00 L340.80,129.60 Z" fill="#111"/>
<path d="M351.20,126.00 L355.80,126.00 L353.50,129.60 Z" fill="#111"/>
<path d="M364.00,132.20 L368.60,132.20 L366.30,135.80 Z" fill="#111"/>
<path d="M381.70,85.20 L386.30,85.20 L384.00,88.80 Z" fill="#111"/>
<path d="M417.00,133.10 L421.60,133.10 L419.30,136.70 Z" fill="#111"/>
<path d="M432.80,133.10 L437.40,133.10 L435.10,136.70 Z" fill="#111"/>
<path d="M455.20,124.30 L459.80,124.30 L457.50,127.90 Z" fill="#111"/>
<path d="M464.30,132.70 L468.90,132.70 L466.60,136.30 Z" fill="#111"/>
<path d="M482.30,139.20 L486.90,139.20 L484.60,142.80 Z" fill="#111"/>
<path d="M520.10,129.90 L524.70,129.90 L522.40,133.50 Z" fill="#111"/>
<path d="M525.40,129.90 L530.00,129.90 L527.70,133.50 Z" fill="#111"/>
<path d="M47.00,221.80 L51.60,221.80 L49.30,225.40 Z" fill="#111"/>
<path d="M94.20,203.70 L98.80,203.70 L96.50,207.30 Z" fill="#111"/>
<path d="M98.70,205.50 L103.30,205.50 L101.00,209.10 Z" fill="#111"/>
<path d="M148.00,125.50 L152.60,125.50 L150.30,129.10 Z" fill="#111"/>
<path d="M166.70,192.10 L171.30,192.10 L169.00,195.70 Z" fill="#111"/>
<path d="M170.00,195.20 L174.60,195.20 L172.30,198.80 Z" fill="#111"/>
<path d="M175.60,193.30 L180.20,193.30 L177.90,196.90 Z" fill="#111"/>
<path d="M180.30,220.60 L184.90,220.60 L182.60,224.20 Z" fill="#111"/>
<path d="M199.40,220.10 L204.00,220.10 L201.70,223.70 Z" fill="#111"/>
<path d="M214.90,215.70 L219.50,215.70 L217.20,219.30 Z" fill="#111"/>
<path d="M220.50,226.20 L225.10,226.20 L222.80,229.80 Z" fill="#111"/>
<path d="M243.90,226.20 L248.50,226.20 L246.20,229.80 Z" fill="#111"/>
<path d="M249.20,226.20 L253.80,226.20 L251.50,229.80 Z" fill="#111"/>
<path d="M275.80,213.60 L280.40,213.60 L278.10,217.20 Z" fill="#111"/>
<path d="M283.70,206.90 L288.30,206.90 L286.00,210.50 Z" fill="#111"/>
<path d="M286.00,219.20 L290.60,219.20 L288.30,222.80 Z" fill="#111"/>
<path d="M290.70,228.90 L295.30,228.90 L293.00,232.50 Z" fill="#111"/>
<path d="M310.70,224.80 L315.30,224.80 L313.00,228.40 Z" fill="#111"/>
<path d="M320.20,221.10 L324.80,221.10 L322.50,224.70 Z" fill="#111"/>
<path d="M333.20,230.40 L337.80,230.40 L335.50,234.00 Z" fill="#111"/>
<path d="M338.20,230.40 L342.80,230.40 L340.50,234.00 Z" fill="#111"/>
<path d="M352.60,226.00 L357.20,226.00 L354.90,229.60 Z" fill="#111"/>
<path d="M364.00,231.50 L368.60,231.50 L366.30,235.10 Z" fill="#111"/>
<path d="M367.60,230.40 L372.20,230.40 L369.90,234.00 Z" fill="#111"/>
<path d="M374.20,230.40 L378.80,230.40 L376.50,234.00 Z" fill="#111"/>
<path d="M384.00,233.30 L388.60,233.30 L386.30,236.90 Z" fill="#111"/>
<path d="M394.30,230.40 L398.90,230.40 L396.60,234.00 Z" fill="#111"/>
<path d="M417.00,232.40 L421.60,232.40 L419.30,236.00 Z" fill="#111"/>
<path d="M432.50,230.10 L437.10,230.10 L434.80,233.70 Z" fill="#111"/>
<path d="M442.70,232.40 L447.30,232.40 L445.00,236.00 Z" fill="#111"/>
<path d="M462.70,232.40 L467.30,232.40 L465.00,236.00 Z" fill="#111"/>
<path d="M472.30,232.40 L476.90,232.40 L474.60,236.00 Z" fill="#111"/>
<path d="M482.30,233.60 L486.90,233.60 L484.60,237.20 Z" fill="#111"/>
<path d="M490.20,232.40 L494.80,232.40 L492.50,236.00 Z" fill="#111"/>
<path d="M508.70,232.40 L513.30,232.40 L511.00,236.00 Z" fill="#111"/>
<path d="M520.10,233.60 L524.70,233.60 L522.40,237.20 Z" fill="#111"/>
<path d="M525.40,232.40 L530.00,232.40 L527.70,236.00 Z" fill="#111"/>
<circle cx="177.20" cy="27.50" r="2.1" fill="#33dd33"/>
<circle cx="188.50" cy="113.70" r="2.1" fill="#33dd33"/>
<circle cx="155.50" cy="168.70" r="2.1" fill="#33dd33"/>
<circle cx="272.00" cy="112.90" r="2.1" fill="#33dd33"/>
<circle cx="336.40" cy="185.80" r="2.1" fill="#33dd33"/>
<circle cx="385.80" cy="62.80" r="2.1" fill="#33dd33"/>
<circle cx="421.00" cy="174.40" r="2.1" fill="#33dd33"/>
<circle cx="428.10" cy="187.60" r="2.1" fill="#33dd33"/>
<circle cx="460.00" cy="165.60" r="2.1" fill="#33dd33"/>
<circle cx="487.20" cy="193.80" r="2.1" fill="#33dd33"/>
<circle cx="524.70" cy="162.60" r="2.1" fill="#33dd33"/>
<circle cx="524.70" cy="127.00" r="2.1" fill="#33dd33"/>
<rect x="175.50" y="30.10" width="3.4" height="3.4" fill="#e8782a"/>
<rect x="136.80" y="158.30" width="3.4" height="3.4" fill="#e8782a"/>
<rect x="283.50" y="185.10" width="3.4" height="3.4" fill="#e8782a"/>
<path d="M31.00,443.61 L31.44,443.67 L32.04,443.61 L32.75,442.83 L33.52,442.09 L34.29,441.68 L35.00,441.51 L35.68,441.19 L36.37,440.71 L37.06,439.80 L37.74,439.58 L38.39,439.78 L39.00,439.73 L39.68,440.58 L40.32,441.83 L40.92,443.60 L41.48,445.23 L42.00,445.74 L42.74,444.84 L43.37,443.18 L44.00,440.96 L44.69,438.97 L45.37,437.53 L46.00,434.54 L46.51,428.81 L46.97,422.10 L47.50,414.72 L48.01,406.99 L48.58,397.67 L49.16,390.04 L49.70,386.50 L50.34,389.01 L50.94,396.48 L51.50,404.92 L52.00,412.83 L52.47,420.74 L53.00,428.05 L53.48,433.20 L53.99,437.55 L54.54,441.13 L55.10,444.50 L55.68,447.04 L56.29,448.75 L56.91,449.50 L57.50,450.07 L58.07,451.33 L58.64,452.20 L59.18,452.93 L59.70,452.84 L60.34,450.54 L60.94,446.95 L61.50,440.48 L62.00,429.52 L62.46,415.60 L63.00,400.30 L63.51,384.89 L64.08,367.02 L64.66,352.59 L65.20,345.84 L65.86,356.66 L66.47,379.83 L67.00,400.12 L67.54,417.63 L68.00,429.90 L68.58,439.26 L69.20,442.88 L69.83,440.38 L70.50,430.11 L70.97,416.34 L71.47,398.40 L72.00,380.12 L72.58,358.33 L73.20,335.46 L73.80,325.10 L74.38,335.78 L74.95,358.63 L75.50,380.05 L75.99,397.67 L76.46,415.39 L77.00,430.08 L77.50,439.31 L78.05,448.07 L78.63,454.65 L79.20,458.55 L79.78,459.58 L80.38,456.67 L80.96,452.68 L81.50,449.65 L82.12,445.80 L82.69,442.38 L83.30,441.38 L83.81,442.71 L84.34,446.15 L84.90,451.27 L85.50,455.50 L86.07,458.18 L86.62,460.07 L87.31,462.05 L88.30,463.76 L88.82,464.12 L89.42,464.32 L90.08,464.72 L90.78,465.15 L91.51,465.18 L92.26,465.16 L92.99,464.97 L93.71,464.97 L94.38,465.58 L95.00,465.72 L95.67,465.23 L96.25,465.60 L96.78,466.04 L97.29,466.18 L97.83,466.05 L98.44,465.47 L99.15,465.14 L100.00,465.57 L100.53,466.49 L101.11,466.08 L101.73,465.44 L102.39,465.82 L103.07,465.86 L103.78,465.75 L104.51,465.94 L105.24,466.12 L105.98,466.51 L106.70,466.55 L107.42,466.57 L108.11,466.53 L108.78,466.44 L109.41,466.09 L110.00,465.71 L110.76,466.36 L111.50,466.55 L112.21,466.51 L112.91,466.75 L113.57,466.89 L114.21,466.90 L114.82,466.75 L115.41,466.43 L115.97,465.90 L116.50,465.55 L117.00,465.33 L117.80,464.57 L118.44,463.68 L118.99,462.90 L119.51,462.02 L120.06,460.92 L120.70,459.50 L121.34,458.88 L122.03,458.76 L122.75,458.46 L123.48,457.96 L124.18,456.93 L124.83,455.86 L125.40,455.48 L126.18,453.88 L126.78,451.67 L127.34,449.29 L128.00,445.29 L128.55,441.67 L129.16,437.83 L129.79,433.45 L130.41,429.35 L130.99,426.07 L131.50,424.28 L132.28,425.46 L132.90,430.57 L133.50,435.80 L134.13,440.26 L134.76,444.61 L135.40,446.83 L136.09,445.51 L136.80,441.65 L137.50,438.14 L138.17,435.45 L138.84,433.03 L139.50,432.47 L140.16,434.75 L140.82,438.92 L141.50,443.09 L141.99,445.95 L142.46,448.63 L143.00,451.37 L143.70,453.43 L144.22,453.67 L144.81,454.03 L145.46,454.08 L146.14,454.09 L146.80,453.98 L147.44,453.69 L148.00,453.88 L148.67,455.11 L149.26,456.25 L149.82,456.76 L150.38,457.80 L151.00,458.66 L151.54,459.77 L152.09,460.49 L152.65,460.89 L153.24,461.98 L153.89,462.13 L154.60,462.55 L155.15,463.37 L155.68,463.63 L156.22,463.65 L156.80,463.90 L157.44,464.00 L158.17,463.95 L159.02,463.97 L160.00,464.11 L160.53,463.97 L161.12,464.05 L161.77,464.20 L162.46,463.84 L163.18,464.08 L163.93,464.74 L164.69,464.92 L165.47,464.47 L166.25,464.44 L167.03,464.47 L167.79,464.29 L168.53,464.40 L169.23,463.88 L169.90,463.85 L170.53,464.05 L171.10,463.75 L171.60,463.52 L172.61,462.89 L173.39,462.39 L174.01,462.17 L174.52,461.93 L174.98,460.91 L175.46,459.98 L176.00,459.18 L176.69,457.63 L177.36,456.71 L178.01,456.24 L178.67,455.24 L179.33,454.57 L180.00,454.49 L180.70,454.57 L181.41,455.06 L182.14,456.37 L182.85,457.68 L183.54,458.19 L184.20,458.14 L184.95,456.49 L185.67,452.67 L186.35,448.57 L187.00,445.69 L187.60,444.26 L188.27,445.53 L188.87,448.61 L189.43,452.61 L190.00,456.61 L190.57,459.41 L191.11,461.57 L191.68,463.90 L192.30,466.01 L192.83,466.61 L193.37,466.33 L193.94,466.42 L194.58,466.06 L195.30,465.84 L195.85,466.31 L196.41,466.25 L197.00,466.87 L197.64,467.53 L198.34,467.27 L199.12,467.45 L200.00,467.54 L200.54,466.88 L201.14,466.70 L201.79,467.03 L202.49,467.15 L203.20,466.93 L203.93,466.56 L204.67,466.35 L205.39,465.97 L206.08,465.74 L206.75,465.39 L207.36,464.70 L207.92,464.22 L208.40,463.29 L209.37,461.11 L210.05,459.45 L210.56,457.05 L211.00,453.58 L211.50,450.01 L212.17,444.16 L212.80,437.18 L213.40,430.31 L214.00,424.91 L214.59,420.85 L215.17,418.13 L215.74,416.58 L216.30,415.54 L216.84,417.07 L217.35,420.41 L217.89,424.29 L218.50,427.78 L219.08,431.07 L219.72,435.99 L220.38,439.33 L221.02,441.31 L221.60,442.41 L222.21,440.25 L222.76,435.30 L223.27,429.40 L223.80,424.85 L224.34,420.06 L224.88,414.81 L225.43,410.23 L226.00,408.08 L226.62,410.64 L227.26,414.77 L227.90,419.42 L228.50,424.79 L229.17,431.62 L229.79,438.80 L230.50,445.21 L231.00,448.24 L231.51,451.46 L232.07,455.16 L232.70,458.06 L233.40,459.17 L233.94,460.23 L234.51,461.79 L235.11,462.92 L235.75,463.91 L236.44,464.94 L237.19,465.90 L238.00,466.40 L238.56,466.72 L239.17,467.01 L239.81,467.53 L240.48,468.29 L241.17,468.78 L241.87,468.84 L242.58,469.37 L243.28,469.80 L243.97,469.76 L244.65,469.72 L245.30,469.70 L245.99,469.74 L246.67,469.17 L247.34,469.37 L248.01,469.87 L248.67,469.30 L249.33,469.04 L249.99,468.78 L250.65,468.18 L251.32,467.05 L252.00,466.41 L252.64,466.51 L253.30,466.23 L253.97,465.74 L254.65,464.86 L255.33,463.33 L256.00,461.68 L256.66,461.25 L257.30,461.00 L257.91,460.47 L258.48,459.97 L259.00,459.52 L259.85,459.19 L260.58,459.69 L261.23,460.68 L261.83,461.54 L262.41,462.57 L263.00,463.07 L263.70,463.57 L264.35,464.09 L264.98,464.59 L265.63,464.95 L266.30,464.69 L266.87,464.25 L267.44,464.37 L268.01,463.97 L268.62,463.24 L269.27,462.79 L270.00,461.96 L270.62,461.47 L271.30,461.50 L272.02,461.66 L272.76,461.68 L273.50,461.16 L274.22,460.56 L274.90,460.23 L275.50,459.83 L276.22,457.64 L276.87,455.23 L277.47,453.14 L278.02,450.45 L278.53,447.69 L279.00,444.97 L279.78,440.50 L280.39,435.29 L281.00,428.07 L281.67,419.28 L282.33,408.48 L283.00,394.95 L283.66,376.41 L284.33,354.43 L285.00,334.81 L285.52,321.37 L286.06,308.17 L286.59,297.85 L287.10,293.07 L287.74,299.53 L288.37,314.73 L289.00,330.49 L289.61,344.90 L290.24,360.04 L291.00,375.18 L291.58,384.58 L292.24,394.75 L292.93,404.45 L293.60,412.61 L294.20,419.67 L294.85,425.96 L295.44,430.21 L295.99,433.22 L296.50,435.46 L297.08,438.70 L297.59,440.70 L298.20,440.62 L298.80,439.29 L299.47,437.31 L300.16,434.22 L300.80,433.27 L301.36,435.05 L301.88,437.70 L302.40,441.53 L303.00,444.64 L303.51,447.28 L304.03,450.06 L304.60,451.87 L305.24,453.69 L306.00,455.11 L306.56,455.86 L307.20,457.04 L307.89,457.26 L308.61,457.36 L309.33,458.05 L310.03,458.53 L310.70,458.82 L311.30,458.40 L312.01,457.53 L312.66,457.00 L313.27,456.13 L313.85,454.89 L314.42,454.14 L315.00,453.61 L315.71,452.19 L316.42,450.35 L317.11,449.08 L317.78,447.70 L318.40,447.18 L319.12,447.99 L319.77,450.02 L320.40,452.19 L321.00,453.19 L321.54,454.20 L322.02,454.81 L322.55,455.94 L323.20,457.31 L323.74,456.86 L324.34,456.15 L324.99,455.80 L325.66,454.63 L326.34,454.19 L327.00,454.70 L327.67,455.03 L328.37,455.72 L329.08,457.02 L329.77,457.73 L330.42,458.14 L331.00,458.45 L331.72,456.34 L332.32,453.36 L332.89,449.66 L333.50,444.45 L334.05,439.91 L334.63,434.50 L335.21,428.76 L335.77,423.52 L336.30,419.97 L336.89,417.69 L337.42,416.78 L337.94,417.15 L338.50,417.90 L339.12,419.70 L339.76,421.99 L340.40,424.50 L341.00,427.64 L341.70,434.19 L342.35,441.97 L343.00,448.09 L343.59,452.83 L344.19,456.64 L345.00,459.55 L345.55,460.87 L346.17,462.19 L346.84,463.26 L347.56,463.71 L348.28,464.41 L349.00,465.33 L349.62,465.69 L350.25,466.17 L350.89,466.44 L351.55,466.49 L352.20,466.90 L352.85,467.09 L353.50,467.27 L354.13,467.04 L354.74,467.15 L355.36,467.16 L355.97,466.65 L356.61,466.30 L357.28,466.18 L358.00,466.41 L358.60,466.22 L359.25,465.84 L359.93,464.95 L360.62,464.25 L361.32,464.09 L362.01,463.57 L362.68,463.34 L363.32,462.90 L363.90,461.84 L364.70,460.53 L365.44,458.82 L366.13,456.79 L366.78,454.80 L367.40,452.73 L368.00,450.18 L368.68,445.86 L369.29,440.77 L369.87,434.75 L370.44,429.06 L371.00,424.91 L371.69,420.01 L372.36,415.69 L373.02,413.08 L373.70,411.86 L374.26,412.03 L374.83,413.04 L375.40,414.78 L375.96,417.51 L376.50,420.15 L377.12,423.94 L377.69,429.06 L378.30,433.81 L379.00,437.79 L379.55,440.62 L380.16,443.74 L380.80,446.58 L381.45,448.86 L382.09,450.67 L382.70,451.27 L383.39,450.94 L384.06,450.27 L384.72,448.45 L385.37,445.88 L386.00,443.44 L386.63,440.85 L387.25,437.88 L387.85,434.40 L388.44,431.04 L389.00,428.42 L389.66,424.45 L390.28,420.46 L390.89,417.05 L391.50,413.82 L392.12,411.80 L392.75,410.57 L393.38,410.25 L394.00,410.52 L394.62,411.84 L395.25,414.25 L395.88,416.29 L396.50,419.73 L397.10,424.81 L397.69,429.63 L398.30,434.93 L399.00,439.82 L399.53,442.92 L400.09,446.28 L400.69,449.62 L401.30,452.68 L401.91,454.75 L402.50,457.51 L403.07,460.30 L403.61,461.32 L404.16,461.90 L404.72,462.77 L405.33,463.18 L406.00,464.06 L406.53,465.12 L407.05,465.30 L407.59,465.62 L408.16,466.50 L408.77,466.58 L409.43,467.38 L410.17,468.64 L411.00,468.62 L411.56,468.92 L412.15,469.50 L412.78,469.46 L413.44,470.15 L414.12,470.62 L414.83,470.73 L415.55,471.39 L416.28,471.96 L417.03,472.16 L417.77,471.89 L418.52,471.65 L419.26,472.47 L420.00,472.84 L420.64,472.81 L421.28,472.94 L421.92,473.01 L422.57,473.09 L423.23,473.60 L423.88,473.76 L424.55,473.46 L425.22,473.72 L425.89,474.07 L426.56,473.85 L427.24,473.62 L427.93,473.91 L428.61,474.06 L429.31,474.22 L430.00,474.00 L430.66,473.94 L431.35,473.94 L432.04,473.95 L432.75,473.95 L433.47,473.64 L434.19,473.58 L434.91,473.72 L435.63,474.13 L436.35,473.85 L437.05,473.32 L437.74,473.65 L438.42,473.03 L439.08,472.23 L439.71,472.33 L440.32,472.60 L440.90,473.31 L441.68,473.31 L442.40,472.93 L443.07,472.70 L443.70,471.79 L444.30,471.23 L444.89,471.88 L445.47,472.31 L446.06,471.69 L446.67,471.76 L447.31,471.56 L448.00,471.41 L448.61,471.91 L449.23,471.29 L449.87,470.51 L450.51,470.61 L451.16,470.36 L451.82,470.12 L452.49,469.85 L453.17,469.62 L453.85,469.70 L454.53,469.27 L455.22,468.95 L455.91,469.04 L456.60,468.84 L457.24,468.81 L457.86,469.28 L458.48,469.70 L459.09,469.76 L459.71,470.27 L460.33,470.79 L460.96,470.49 L461.61,471.20 L462.27,472.15 L462.96,472.13 L463.67,471.88 L464.41,472.19 L465.19,472.47 L466.00,472.58 L466.56,473.17 L467.13,473.41 L467.71,473.17 L468.29,473.23 L468.89,473.24 L469.49,473.39 L470.10,473.64 L470.73,473.41 L471.36,473.27 L472.01,473.90 L472.67,473.99 L473.34,473.43 L474.02,473.80 L474.72,473.85 L475.43,473.18 L476.15,473.33 L476.89,473.38 L477.64,473.14 L478.41,473.42 L479.20,473.52 L480.00,473.30 L480.59,473.23 L481.17,473.28 L481.76,473.67 L482.35,473.66 L482.95,473.29 L483.54,473.91 L484.15,473.92 L484.75,473.81 L485.37,474.23 L485.99,473.88 L486.61,473.29 L487.25,473.44 L487.89,473.90 L488.54,474.02 L489.21,473.90 L489.88,473.96 L490.57,474.26 L491.27,473.77 L491.98,473.79 L492.71,474.06 L493.45,473.64 L494.21,473.54 L494.98,474.08 L495.77,474.37 L496.58,473.58 L497.40,473.39 L498.25,473.76 L499.11,473.72 L500.00,473.65 L500.58,473.38 L501.18,473.69 L501.81,473.81 L502.46,473.55 L503.13,473.63 L503.82,473.56 L504.53,473.86 L505.25,474.12 L505.99,473.81 L506.75,473.53 L507.52,473.59 L508.30,474.02 L509.09,474.16 L509.89,474.01 L510.69,473.92 L511.51,473.82 L512.32,473.95 L513.14,473.61 L513.97,473.93 L514.79,474.17 L515.61,473.70 L516.43,474.18 L517.25,474.36 L518.06,474.09 L518.87,473.92 L519.67,473.58 L520.46,473.76 L521.24,474.37 L522.01,474.14 L522.76,474.19 L523.50,474.15 L524.23,473.70 L524.94,474.06 L525.63,474.23 L526.30,474.28 L526.95,474.13 L527.58,473.76 L528.18,473.52 L528.76,473.49 L529.32,473.67 L529.84,473.62 L530.34,473.93 L530.80,474.11 L531.23,473.61 L531.63,474.30 L532.00,474.56" fill="none" stroke="#0d0d0d" stroke-width="1.9" stroke-linejoin="round" stroke-linecap="round"/>
<path d="M31.00,375.40 L31.38,375.14 L31.88,374.65 L32.46,373.77 L33.12,373.09 L33.83,371.66 L34.56,370.12 L35.29,369.09 L36.00,368.25 L36.64,367.97 L37.32,367.11 L38.04,366.09 L38.76,364.71 L39.48,363.69 L40.19,362.99 L40.85,362.43 L41.46,361.91 L42.00,360.75 L42.79,358.81 L43.40,357.02 L43.92,355.45 L44.42,353.37 L45.00,351.09 L45.67,348.74 L46.37,345.92 L47.08,343.03 L47.76,340.77 L48.40,339.25 L49.10,339.00 L49.72,339.31 L50.34,340.46 L51.00,342.05 L51.57,342.98 L52.15,344.39 L52.75,346.24 L53.37,348.28 L54.00,349.99 L54.67,351.64 L55.37,353.53 L56.08,355.87 L56.76,357.19 L57.40,356.96 L58.11,356.41 L58.76,354.89 L59.38,352.07 L60.00,348.30 L60.63,342.37 L61.26,334.56 L61.88,326.82 L62.50,320.05 L63.11,312.17 L63.73,303.65 L64.32,296.89 L64.90,293.01 L65.62,295.02 L66.31,302.41 L67.00,310.66 L67.69,321.45 L68.38,333.78 L69.10,340.82 L69.68,339.13 L70.29,333.21 L70.91,326.36 L71.50,319.93 L72.07,313.21 L72.64,306.25 L73.18,301.19 L73.70,299.61 L74.35,304.34 L74.96,314.09 L75.50,324.46 L76.03,337.10 L76.70,348.24 L77.18,352.46 L77.77,356.69 L78.41,360.13 L79.07,362.92 L79.70,364.68 L80.30,365.07 L80.91,365.12 L81.51,364.81 L82.11,364.28 L82.70,364.32 L83.40,365.55 L84.09,367.43 L84.78,368.86 L85.50,370.39 L86.07,372.32 L86.62,374.06 L87.20,374.96 L87.87,376.38 L88.70,377.78 L89.25,377.99 L89.86,378.69 L90.52,379.41 L91.21,379.43 L91.93,379.91 L92.65,380.66 L93.36,380.59 L94.05,380.83 L94.70,380.80 L95.36,381.01 L95.96,381.83 L96.53,382.01 L97.10,382.06 L97.70,382.35 L98.36,382.60 L99.12,383.06 L100.00,383.24 L100.53,383.05 L101.09,383.33 L101.69,384.04 L102.31,383.97 L102.96,383.73 L103.63,383.58 L104.31,383.93 L105.01,384.63 L105.72,384.77 L106.44,384.73 L107.16,384.29 L107.88,384.64 L108.60,385.20 L109.30,384.88 L110.00,384.43 L110.66,384.84 L111.35,385.25 L112.07,385.89 L112.80,385.88 L113.54,385.22 L114.29,385.44 L115.03,385.26 L115.77,385.15 L116.49,386.03 L117.20,386.26 L117.88,385.74 L118.53,385.46 L119.14,385.72 L119.71,386.13 L120.23,385.96 L120.70,385.57 L121.84,384.93 L122.57,384.19 L123.06,382.78 L123.48,381.49 L124.00,379.63 L124.60,377.41 L125.17,375.81 L125.74,373.94 L126.33,371.61 L127.00,369.80 L127.62,368.75 L128.30,367.08 L129.01,365.23 L129.72,363.94 L130.43,363.03 L131.10,362.22 L131.74,362.67 L132.36,364.71 L132.97,366.37 L133.57,367.98 L134.18,369.69 L134.80,370.19 L135.44,369.73 L136.11,368.92 L136.78,367.81 L137.43,366.41 L138.05,364.88 L138.60,364.38 L139.30,365.69 L139.88,367.86 L140.43,370.24 L141.00,372.37 L141.62,374.45 L142.24,376.51 L142.87,378.09 L143.50,379.81 L144.11,381.65 L144.71,382.81 L145.36,384.16 L146.10,386.60 L146.66,387.46 L147.26,387.01 L147.90,387.65 L148.57,389.00 L149.27,389.51 L150.00,389.59 L150.54,389.77 L151.06,389.84 L151.57,390.38 L152.12,390.73 L152.71,390.51 L153.37,390.63 L154.13,391.00 L155.00,390.81 L155.52,390.66 L156.08,390.83 L156.68,390.67 L157.30,390.95 L157.95,391.14 L158.63,390.77 L159.32,390.45 L160.02,390.34 L160.74,391.15 L161.46,391.19 L162.18,390.92 L162.90,391.08 L163.61,391.04 L164.31,391.19 L165.00,390.76 L165.69,390.38 L166.40,390.40 L167.13,390.27 L167.87,389.98 L168.62,389.59 L169.37,389.44 L170.11,389.52 L170.85,389.17 L171.57,388.33 L172.27,387.96 L172.95,387.82 L173.59,387.51 L174.20,387.63 L174.78,387.17 L175.30,386.44 L176.26,385.73 L177.02,385.12 L177.65,384.68 L178.21,384.64 L178.75,384.37 L179.33,383.37 L180.00,383.33 L180.60,382.80 L181.25,382.16 L181.91,382.35 L182.60,381.91 L183.28,381.26 L183.94,380.79 L184.58,380.55 L185.17,380.64 L185.70,380.12 L186.50,380.01 L187.15,381.08 L187.73,381.73 L188.32,382.05 L189.00,383.00 L189.64,384.11 L190.31,385.41 L191.01,387.05 L191.73,387.96 L192.46,388.11 L193.20,388.78 L193.82,389.49 L194.41,390.09 L195.01,391.03 L195.64,391.13 L196.31,391.30 L197.06,391.55 L197.90,391.04 L198.46,390.29 L199.07,389.95 L199.74,389.56 L200.43,389.48 L201.15,389.51 L201.88,389.20 L202.61,388.82 L203.32,387.55 L204.01,387.15 L204.66,387.34 L205.26,387.06 L205.80,386.04 L206.72,384.20 L207.50,383.11 L208.18,381.62 L208.79,379.72 L209.38,378.11 L210.00,377.43 L210.63,375.77 L211.24,372.94 L211.84,370.98 L212.41,369.26 L212.97,367.89 L213.50,366.60 L214.09,364.94 L214.61,363.38 L215.13,362.14 L215.67,361.18 L216.30,360.33 L216.90,360.98 L217.57,361.59 L218.26,361.91 L218.97,362.60 L219.65,362.93 L220.30,363.39 L221.02,363.27 L221.71,363.30 L222.38,363.73 L223.04,364.09 L223.70,364.57 L224.36,365.38 L225.00,366.30 L225.65,367.22 L226.31,368.02 L227.00,369.43 L227.60,371.82 L228.21,373.75 L228.84,375.47 L229.49,377.31 L230.14,378.75 L230.80,380.88 L231.45,382.46 L232.09,383.50 L232.74,384.61 L233.43,385.16 L234.17,385.45 L235.00,386.51 L235.54,387.28 L236.12,387.32 L236.72,388.61 L237.35,389.92 L237.99,390.35 L238.65,390.74 L239.31,391.10 L239.98,391.68 L240.64,392.18 L241.30,392.49 L241.95,392.99 L242.60,392.68 L243.25,392.98 L243.90,393.66 L244.56,393.85 L245.22,394.47 L245.90,394.21 L246.58,394.26 L247.28,394.79 L248.00,394.55 L248.62,394.32 L249.25,394.62 L249.91,394.28 L250.58,394.22 L251.25,394.87 L251.93,394.92 L252.61,394.52 L253.28,394.56 L253.94,395.33 L254.58,395.75 L255.20,395.33 L255.80,394.78 L256.56,394.73 L257.27,394.82 L257.96,394.53 L258.63,394.28 L259.28,394.42 L259.94,394.53 L260.61,393.57 L261.29,393.37 L262.00,393.77 L262.67,393.62 L263.36,393.39 L264.08,393.02 L264.80,393.23 L265.52,392.18 L266.24,391.93 L266.94,392.44 L267.62,391.31 L268.28,390.28 L268.90,390.42 L269.63,390.31 L270.32,389.94 L270.98,389.66 L271.61,388.75 L272.22,388.25 L272.82,387.57 L273.41,386.66 L274.00,385.89 L274.68,384.57 L275.36,383.20 L276.03,381.85 L276.68,379.78 L277.29,377.96 L277.87,376.71 L278.40,375.18 L279.17,372.38 L279.81,369.99 L280.39,367.92 L281.00,365.13 L281.68,361.89 L282.38,357.77 L283.06,353.09 L283.70,348.75 L284.27,344.06 L284.81,338.98 L285.31,333.67 L285.80,329.63 L286.42,325.23 L287.00,321.17 L287.60,318.71 L288.17,319.63 L288.75,323.88 L289.50,328.43 L290.09,331.18 L290.77,334.85 L291.49,338.94 L292.22,343.15 L292.90,347.11 L293.53,350.36 L294.14,353.18 L294.75,355.92 L295.36,358.74 L296.00,361.73 L296.56,364.06 L297.12,366.17 L297.70,368.71 L298.29,370.78 L298.89,372.32 L299.50,373.76 L300.11,374.85 L300.72,376.24 L301.34,376.41 L301.98,376.49 L302.66,377.19 L303.40,377.95 L304.01,378.93 L304.67,379.75 L305.37,380.75 L306.09,381.96 L306.80,382.95 L307.48,383.84 L308.12,385.14 L308.70,385.86 L309.48,386.19 L310.14,386.43 L310.74,385.67 L311.34,385.34 L312.00,385.05 L312.61,384.70 L313.25,384.94 L313.91,384.28 L314.56,383.41 L315.20,383.20 L315.80,384.03 L316.48,384.55 L317.14,384.32 L317.78,385.39 L318.40,386.46 L319.00,386.95 L319.52,387.32 L319.97,387.33 L320.43,387.92 L321.00,388.73 L321.80,389.04 L322.32,389.33 L322.92,389.83 L323.60,390.65 L324.31,391.41 L325.05,391.69 L325.79,391.71 L326.52,391.56 L327.21,391.98 L327.84,392.54 L328.40,392.75 L329.18,392.48 L329.84,391.83 L330.42,391.39 L330.96,390.58 L331.47,389.67 L332.00,389.45 L332.65,388.60 L333.27,387.58 L333.86,387.23 L334.44,386.57 L335.00,385.96 L335.66,385.27 L336.28,385.01 L336.89,385.29 L337.50,385.68 L338.07,386.18 L338.59,386.52 L339.20,387.56 L340.00,388.60 L340.49,388.67 L341.03,389.10 L341.62,389.97 L342.24,390.83 L342.89,392.09 L343.57,393.18 L344.28,393.45 L345.00,393.77 L345.59,394.02 L346.20,394.54 L346.83,395.51 L347.48,396.15 L348.14,396.15 L348.82,396.27 L349.51,396.07 L350.22,396.42 L350.95,396.96 L351.70,397.20 L352.30,397.23 L352.93,396.77 L353.58,396.83 L354.25,396.74 L354.93,396.92 L355.62,397.03 L356.31,396.64 L356.99,396.48 L357.66,396.10 L358.31,395.91 L358.94,395.78 L359.54,395.81 L360.10,395.47 L360.86,394.62 L361.58,393.93 L362.26,393.11 L362.90,392.46 L363.52,392.12 L364.11,391.43 L364.69,390.51 L365.25,389.54 L365.80,388.29 L366.59,386.33 L367.33,384.88 L368.02,384.01 L368.69,381.88 L369.35,379.95 L370.00,378.60 L370.64,376.52 L371.25,374.87 L371.84,373.27 L372.44,371.68 L373.05,371.24 L373.70,370.89 L374.27,370.41 L374.84,371.24 L375.43,372.09 L376.03,372.72 L376.65,374.00 L377.31,375.04 L378.00,375.80 L378.58,376.08 L379.20,377.44 L379.85,378.34 L380.51,378.39 L381.19,378.72 L381.85,379.57 L382.50,381.00 L383.12,381.70 L383.70,382.27 L384.38,382.28 L385.01,381.41 L385.60,380.57 L386.17,380.22 L386.75,379.55 L387.36,378.62 L388.00,377.87 L388.61,377.40 L389.27,377.63 L389.95,377.08 L390.64,376.19 L391.32,375.16 L391.97,375.01 L392.57,375.41 L393.10,375.29 L393.93,375.29 L394.56,375.09 L395.16,375.44 L395.90,376.93 L396.49,378.35 L397.13,379.33 L397.79,380.86 L398.50,382.58 L399.23,384.43 L400.00,386.10 L400.58,386.84 L401.14,388.18 L401.72,389.64 L402.32,391.33 L402.96,392.64 L403.66,393.20 L404.43,394.48 L405.30,395.82 L405.85,396.48 L406.46,397.17 L407.12,397.40 L407.81,397.88 L408.52,398.63 L409.26,398.85 L410.00,399.22 L410.74,400.04 L411.48,400.23 L412.19,400.35 L412.88,401.02 L413.54,401.65 L414.15,402.24 L414.70,402.26 L415.53,402.70 L416.21,403.58 L416.79,404.20 L417.32,404.20 L417.86,403.82 L418.45,403.74 L419.15,404.30 L420.00,405.21 L420.53,405.03 L421.10,404.95 L421.72,405.45 L422.37,405.69 L423.04,405.50 L423.74,405.53 L424.44,405.73 L425.16,405.45 L425.87,405.63 L426.58,406.04 L427.28,405.84 L427.95,405.94 L428.60,406.75 L429.22,406.35 L429.80,406.11 L430.60,406.81 L431.34,406.77 L432.04,406.74 L432.70,406.77 L433.34,407.12 L433.98,407.03 L434.62,406.71 L435.28,406.48 L435.97,406.57 L436.70,407.07 L437.35,406.48 L438.02,406.04 L438.71,406.40 L439.41,406.29 L440.12,405.66 L440.84,404.94 L441.56,405.08 L442.28,405.92 L442.98,405.48 L443.68,404.88 L444.35,404.88 L445.00,404.56 L445.69,404.28 L446.37,404.13 L447.04,403.69 L447.70,404.08 L448.35,404.77 L448.99,404.05 L449.61,403.64 L450.23,403.19 L450.83,402.53 L451.42,402.85 L452.00,402.47 L452.67,401.69 L453.30,401.85 L453.90,401.49 L454.49,401.64 L455.06,402.14 L455.65,401.64 L456.26,401.53 L456.91,401.21 L457.60,400.84 L458.19,401.33 L458.78,401.91 L459.38,401.89 L459.99,401.83 L460.62,401.88 L461.26,402.46 L461.94,402.47 L462.64,402.17 L463.39,402.66 L464.17,402.75 L465.00,402.80 L465.56,403.08 L466.15,403.82 L466.76,404.68 L467.38,404.70 L468.02,404.04 L468.68,403.99 L469.35,404.54 L470.03,404.81 L470.72,404.94 L471.42,405.32 L472.13,405.13 L472.84,405.04 L473.55,405.75 L474.27,406.24 L474.98,406.43 L475.69,406.42 L476.40,406.48 L477.04,406.44 L477.68,406.64 L478.34,406.89 L479.00,406.84 L479.67,407.32 L480.34,407.92 L481.02,407.67 L481.70,407.66 L482.38,408.17 L483.07,408.21 L483.75,408.07 L484.42,408.23 L485.10,407.90 L485.77,407.53 L486.43,408.15 L487.09,408.64 L487.74,408.92 L488.37,408.79 L489.00,408.77 L489.73,409.19 L490.46,409.42 L491.18,408.97 L491.89,408.38 L492.59,408.62 L493.29,408.73 L493.98,408.38 L494.67,408.12 L495.35,407.98 L496.03,408.62 L496.70,408.86 L497.36,408.23 L498.03,408.03 L498.69,407.98 L499.35,408.27 L500.00,408.14 L500.69,407.89 L501.37,408.43 L502.04,408.59 L502.70,408.04 L503.36,407.63 L504.01,407.48 L504.66,407.32 L505.30,407.32 L505.95,407.27 L506.60,406.97 L507.25,406.99 L507.90,406.88 L508.56,407.03 L509.22,407.93 L509.90,407.78 L510.54,406.83 L511.18,407.32 L511.82,407.82 L512.46,408.21 L513.10,408.49 L513.75,408.41 L514.39,408.31 L515.04,407.89 L515.70,408.24 L516.36,408.99 L517.02,409.03 L517.68,408.68 L518.35,408.93 L519.03,409.40 L519.71,409.63 L520.40,409.89 L521.07,410.70 L521.79,410.86 L522.53,410.29 L523.30,410.17 L524.09,410.63 L524.88,410.65 L525.68,410.95 L526.47,411.47 L527.24,410.89 L528.00,411.06 L528.72,411.52 L529.40,411.89 L530.05,411.66 L530.63,411.51 L531.16,411.96 L531.62,412.22 L532.00,412.01" fill="none" stroke="#1818b8" stroke-width="2.1" stroke-linejoin="round" stroke-linecap="round"/>
<line x1="31.50" y1="253.30" x2="31.50" y2="491.00" stroke="#1a1a1a" stroke-width="1.3"/>
<line x1="532.20" y1="253.30" x2="532.20" y2="491.00" stroke="#1a1a1a" stroke-width="1.3"/>
<line x1="25.90" y1="491.00" x2="532.20" y2="491.00" stroke="#1a1a1a" stroke-width="1.3"/>
<line x1="25.90" y1="491.00" x2="31.50" y2="491.00" stroke="#1a1a1a" stroke-width="1.3"/>
<line x1="28.70" y1="471.19" x2="31.50" y2="471.19" stroke="#1a1a1a" stroke-width="1.3"/>
<line x1="25.90" y1="451.38" x2="31.50" y2="451.38" stroke="#1a1a1a" stroke-width="1.3"/>
<line x1="28.70" y1="431.57" x2="31.50" y2="431.57" stroke="#1a1a1a" stroke-width="1.3"/>
<line x1="25.90" y1="411.77" x2="31.50" y2="411.77" stroke="#1a1a1a" stroke-width="1.3"/>
<line x1="28.70" y1="391.96" x2="31.50" y2="391.96" stroke="#1a1a1a" stroke-width="1.3"/>
<line x1="25.90" y1="372.15" x2="31.50" y2="372.15" stroke="#1a1a1a" stroke-width="1.3"/>
<line x1="28.70" y1="352.34" x2="31.50" y2="352.34" stroke="#1a1a1a" stroke-width="1.3"/>
<line x1="25.90" y1="332.53" x2="31.50" y2="332.53" stroke="#1a1a1a" stroke-width="1.3"/>
<line x1="28.70" y1="312.73" x2="31.50" y2="312.73" stroke="#1a1a1a" stroke-width="1.3"/>
<line x1="25.90" y1="292.92" x2="31.50" y2="292.92" stroke="#1a1a1a" stroke-width="1.3"/>
<line x1="28.70" y1="273.11" x2="31.50" y2="273.11" stroke="#1a1a1a" stroke-width="1.3"/>
<line x1="25.90" y1="253.30" x2="31.50" y2="253.30" stroke="#1a1a1a" stroke-width="1.3"/>
<line x1="104.32" y1="491.00" x2="104.32" y2="496.00" stroke="#1a1a1a" stroke-width="1.3"/>
<line x1="226.52" y1="491.00" x2="226.52" y2="496.00" stroke="#1a1a1a" stroke-width="1.3"/>
<line x1="348.72" y1="491.00" x2="348.72" y2="496.00" stroke="#1a1a1a" stroke-width="1.3"/>
<line x1="470.92" y1="491.00" x2="470.92" y2="496.00" stroke="#1a1a1a" stroke-width="1.3"/>
<line x1="43.22" y1="491.00" x2="43.22" y2="493.80" stroke="#1a1a1a" stroke-width="1.3"/>
<line x1="165.42" y1="491.00" x2="165.42" y2="493.80" stroke="#1a1a1a" stroke-width="1.3"/>
<line x1="287.62" y1="491.00" x2="287.62" y2="493.80" stroke="#1a1a1a" stroke-width="1.3"/>
<line x1="409.82" y1="491.00" x2="409.82" y2="493.80" stroke="#1a1a1a" stroke-width="1.3"/>
<text x="104.32" y="510.80" font-size="14.3" text-anchor="middle" fill="#111" stroke="#111" stroke-width="0.42" >200</text>
<text x="226.52" y="510.80" font-size="14.3" text-anchor="middle" fill="#111" stroke="#111" stroke-width="0.42" >400</text>
<text x="348.72" y="510.80" font-size="14.3" text-anchor="middle" fill="#111" stroke="#111" stroke-width="0.42" >600</text>
<text x="470.92" y="510.80" font-size="14.3" text-anchor="middle" fill="#111" stroke="#111" stroke-width="0.42" >800</text>
<text x="223.60" y="525.70" font-size="14.5" text-anchor="start" fill="#111" stroke="#111" stroke-width="0.42" >Wavenumber (cm<tspan dy="-5.5" font-size="9.5">-1</tspan><tspan dy="5.5">)</tspan></text>
<text x="16.90" y="371.90" font-size="14.9" text-anchor="middle" fill="#111" stroke="#111" stroke-width="0.42" transform="rotate(-90 16.9 371.9)">Intensity (a.u.)</text>
<text x="38.50" y="270.00" font-size="24" text-anchor="start" fill="#111" stroke="#111" stroke-width="0.42" >b</text>
<text x="408.20" y="282.80" font-size="14.5" text-anchor="start" fill="#111" stroke="#111" stroke-width="0.42" >Raman active modes</text>
<circle cx="424.00" cy="295.90" r="2.9" fill="none" stroke="#3cc83c" stroke-width="1.35"/>
<text x="445.00" y="301.90" font-size="14.5" text-anchor="start" fill="#111" stroke="#111" stroke-width="0.42" >A<tspan dy="4" font-size="10">g</tspan></text>
<rect x="421.35" y="314.55" width="5.3" height="5.3" fill="none" stroke="#cc2a33" stroke-width="1.35"/>
<text x="445.00" y="322.30" font-size="14.5" text-anchor="start" fill="#111" stroke="#111" stroke-width="0.42" >B<tspan dy="4" font-size="10">g</tspan></text>
<text x="430.70" y="383.60" font-size="14.6" text-anchor="start" fill="#2626c4" stroke="#2626c4" stroke-width="0.42" >annealed NTs</text>
<text x="439.70" y="456.80" font-size="14.5" text-anchor="start" fill="#111" stroke="#111" stroke-width="0.42" >nanopowder</text>
<rect x="49.95" y="276.65" width="5.3" height="5.3" fill="none" stroke="#cc2a33" stroke-width="1.35"/>
<circle cx="66.90" cy="279.30" r="2.9" fill="none" stroke="#3cc83c" stroke-width="1.35"/>
<line x1="55.50" y1="279.30" x2="64.00" y2="279.30" stroke="#333" stroke-width="0.9"/>
<line x1="59.40" y1="276.60" x2="59.40" y2="282.00" stroke="#333" stroke-width="0.9"/>
<line x1="55.80" y1="284.30" x2="61.60" y2="295.50" stroke="#111" stroke-width="1.1"/>
<path d="M63.6,299.6 L59.2,294.6 L62.6,293.0 Z" fill="#111"/>
<circle cx="50.30" cy="332.50" r="2.9" fill="none" stroke="#3cc83c" stroke-width="1.35"/>
<circle cx="73.70" cy="293.30" r="2.9" fill="none" stroke="#3cc83c" stroke-width="1.35"/>
<circle cx="140.10" cy="358.60" r="2.9" fill="none" stroke="#3cc83c" stroke-width="1.35"/>
<circle cx="189.50" cy="376.10" r="2.9" fill="none" stroke="#3cc83c" stroke-width="1.35"/>
<circle cx="216.30" cy="352.60" r="2.9" fill="none" stroke="#3cc83c" stroke-width="1.35"/>
<circle cx="287.60" cy="285.30" r="2.9" fill="none" stroke="#3cc83c" stroke-width="1.35"/>
<circle cx="338.00" cy="378.30" r="2.9" fill="none" stroke="#3cc83c" stroke-width="1.35"/>
<circle cx="394.00" cy="362.40" r="2.9" fill="none" stroke="#3cc83c" stroke-width="1.35"/>
<rect x="81.25" y="351.95" width="5.3" height="5.3" fill="none" stroke="#cc2a33" stroke-width="1.35"/>
<rect x="127.45" y="351.85" width="5.3" height="5.3" fill="none" stroke="#cc2a33" stroke-width="1.35"/>
<rect x="222.85" y="349.95" width="5.3" height="5.3" fill="none" stroke="#cc2a33" stroke-width="1.35"/>
<rect x="301.55" y="363.35" width="5.3" height="5.3" fill="none" stroke="#cc2a33" stroke-width="1.35"/>
<rect x="317.05" y="373.95" width="5.3" height="5.3" fill="none" stroke="#cc2a33" stroke-width="1.35"/>
<rect x="371.65" y="359.75" width="5.3" height="5.3" fill="none" stroke="#cc2a33" stroke-width="1.35"/>
<rect x="453.95" y="391.75" width="5.3" height="5.3" fill="none" stroke="#cc2a33" stroke-width="1.35"/>
<path d="M31.00,625.82 L31.45,624.43 L32.04,622.38 L32.74,620.37 L33.53,617.77 L34.38,615.18 L35.25,612.34 L36.14,609.60 L37.00,607.01 L37.69,605.11 L38.41,603.19 L39.15,601.19 L39.90,599.26 L40.67,597.38 L41.44,595.42 L42.22,593.41 L42.99,591.32 L43.75,589.55 L44.50,587.68 L45.25,585.96 L46.02,583.89 L46.79,582.01 L47.56,580.00 L48.33,578.01 L49.08,576.06 L49.81,574.07 L50.52,572.45 L51.18,570.74 L51.80,569.51 L52.72,567.65 L53.54,566.26 L54.27,565.04 L54.97,564.11 L55.67,563.64 L56.40,563.69 L57.15,564.34 L57.90,565.50 L58.65,566.87 L59.40,568.52 L60.15,570.01 L60.90,571.31 L61.68,572.13 L62.50,573.03 L63.31,573.75 L64.10,574.47 L64.84,575.14 L65.50,575.90 L66.27,577.10 L66.86,578.33 L67.44,579.95 L68.20,582.43 L68.84,584.71 L69.56,587.70 L70.33,590.94 L71.13,594.37 L71.92,597.62 L72.70,600.69 L73.45,603.34 L74.20,605.90 L74.94,608.28 L75.70,610.84 L76.49,613.32 L77.30,615.86 L78.03,618.14 L78.78,620.62 L79.55,623.09 L80.34,625.21 L81.13,627.31 L81.92,629.26 L82.70,631.19 L83.49,632.82 L84.29,634.45 L85.10,635.79 L85.91,636.90 L86.70,637.83 L87.47,638.74 L88.20,639.56 L89.01,640.12 L89.77,640.49 L90.51,640.71 L91.23,640.77 L91.96,640.85 L92.70,641.24 L93.48,641.94 L94.28,642.63 L95.08,643.16 L95.87,643.76 L96.61,644.33 L97.30,644.89 L98.04,645.52 L98.71,646.05 L99.34,646.51 L99.93,646.67 L100.50,646.89 L101.13,646.90 L101.69,646.60 L102.27,646.37 L103.00,646.38 L103.59,646.88 L104.24,647.66 L104.94,648.45 L105.68,649.00 L106.43,649.34 L107.20,649.32 L107.87,649.16 L108.58,648.95 L109.30,648.43 L110.04,647.83 L110.77,646.80 L111.49,645.91 L112.20,644.73 L113.00,643.09 L113.79,640.98 L114.56,638.75 L115.34,636.29 L116.11,633.85 L116.90,631.42 L117.71,629.29 L118.53,626.95 L119.36,624.58 L120.17,622.18 L120.96,620.28 L121.70,618.53 L122.53,616.82 L123.30,615.20 L124.04,613.97 L124.76,612.84 L125.50,611.93 L126.23,611.21 L126.94,610.59 L127.65,610.46 L128.40,610.45 L129.20,610.74 L129.93,610.88 L130.69,611.27 L131.49,611.98 L132.30,612.77 L133.11,613.74 L133.90,614.53 L134.67,615.67 L135.43,617.08 L136.19,618.56 L136.96,619.98 L137.76,621.11 L138.60,622.23 L139.27,622.84 L139.96,623.34 L140.67,623.65 L141.39,623.95 L142.13,624.25 L142.86,624.50 L143.59,624.76 L144.30,625.02 L145.10,625.18 L145.88,625.17 L146.65,625.31 L147.44,625.40 L148.23,625.47 L149.05,625.67 L149.90,626.04 L150.59,626.42 L151.32,626.80 L152.06,627.52 L152.82,628.57 L153.58,629.68 L154.34,630.59 L155.08,631.59 L155.81,632.38 L156.50,633.41 L157.35,634.44 L158.17,635.61 L158.96,636.66 L159.75,637.72 L160.52,638.70 L161.30,639.82 L162.10,641.01 L162.80,642.20 L163.48,643.47 L164.15,644.64 L164.83,645.79 L165.53,646.85 L166.25,647.87 L167.00,648.70 L167.80,649.28 L168.48,649.92 L169.18,650.55 L169.91,651.20 L170.67,651.48 L171.43,651.82 L172.21,652.21 L172.99,652.54 L173.76,652.72 L174.54,652.84 L175.30,653.19 L176.06,653.45 L176.85,653.51 L177.64,653.45 L178.43,653.59 L179.22,653.96 L180.00,654.26 L180.76,654.46 L181.51,654.50 L182.22,654.70 L182.90,655.00 L183.80,655.46 L184.62,655.90 L185.39,656.34 L186.13,657.03 L186.89,657.47 L187.67,658.16 L188.50,658.68 L189.19,659.49 L189.89,660.13 L190.60,660.93 L191.33,661.65 L192.07,662.44 L192.82,663.27 L193.57,663.93 L194.33,664.76 L195.10,665.46 L195.80,666.28 L196.50,667.06 L197.22,667.90 L197.94,668.77 L198.66,669.28 L199.39,669.90 L200.12,670.56 L200.85,671.34 L201.58,672.06 L202.30,672.73 L203.09,673.50 L203.86,674.05 L204.63,674.54 L205.40,675.06 L206.17,675.63 L206.96,676.07 L207.77,676.49 L208.62,676.81 L209.50,677.22 L210.19,677.43 L210.92,677.84 L211.66,678.14 L212.43,678.40 L213.20,678.66 L213.99,678.89 L214.78,679.15 L215.56,679.33 L216.34,679.43 L217.11,679.52 L217.87,679.54 L218.60,679.58 L219.38,679.65 L220.15,679.40 L220.90,679.24 L221.65,678.85 L222.39,678.76 L223.12,678.55 L223.86,678.41 L224.59,678.23 L225.32,677.95 L226.06,677.48 L226.80,677.06 L227.55,676.85 L228.29,676.81 L229.04,676.53 L229.78,675.96 L230.53,675.62 L231.27,675.10 L232.02,674.85 L232.76,674.35 L233.51,674.17 L234.25,673.78 L235.00,673.50 L235.75,673.33 L236.49,673.15 L237.24,672.88 L237.98,672.63 L238.73,672.50 L239.47,672.44 L240.22,672.27 L240.96,672.21 L241.71,672.16 L242.45,672.11 L243.20,672.11 L243.94,672.17 L244.68,672.34 L245.41,672.33 L246.14,672.42 L246.88,672.61 L247.61,672.99 L248.35,673.30 L249.10,673.56 L249.85,673.85 L250.62,674.23 L251.40,674.72 L252.13,675.08 L252.87,675.40 L253.61,675.76 L254.37,676.09 L255.13,676.64 L255.90,677.11 L256.67,677.80 L257.44,678.41 L258.21,679.04 L258.98,679.57 L259.74,680.14 L260.50,680.72 L261.25,681.48 L262.00,682.22 L262.75,682.92 L263.50,683.71 L264.25,684.52 L265.00,685.34 L265.75,686.12 L266.50,686.73 L267.25,687.51 L268.00,688.33 L268.75,689.11 L269.50,689.91 L270.26,690.61 L271.02,691.66 L271.79,692.66 L272.56,693.59 L273.33,694.44 L274.10,695.10 L274.87,696.09 L275.63,696.97 L276.39,698.05 L277.13,698.61 L277.87,699.32 L278.60,699.84 L279.39,700.45 L280.19,700.95 L280.98,701.50 L281.77,702.20 L282.56,702.69 L283.33,703.05 L284.08,703.36 L284.80,703.62 L285.50,703.85 L286.17,703.94 L286.80,704.10 L287.69,704.29 L288.48,704.51 L289.20,704.39 L289.87,704.28 L290.54,703.82 L291.24,703.41 L292.00,702.54 L292.70,701.64 L293.40,700.52 L294.10,699.47 L294.82,698.26 L295.57,696.99 L296.34,695.60 L297.15,694.36 L298.00,693.10 L298.65,692.19 L299.33,691.27 L300.04,690.37 L300.76,689.62 L301.50,688.68 L302.25,687.81 L303.01,686.83 L303.76,686.11 L304.52,685.41 L305.27,684.79 L306.00,684.02 L306.73,683.31 L307.45,682.77 L308.18,682.43 L308.91,682.20 L309.64,681.68 L310.36,681.28 L311.09,680.78 L311.82,680.60 L312.55,680.41 L313.27,680.46 L314.00,680.41 L314.73,680.36 L315.45,680.31 L316.18,680.50 L316.91,680.84 L317.64,680.94 L318.36,681.08 L319.09,681.17 L319.82,681.69 L320.55,682.13 L321.27,682.71 L322.00,683.06 L322.73,683.59 L323.45,684.08 L324.18,684.76 L324.91,685.48 L325.64,686.22 L326.36,687.27 L327.09,688.18 L327.82,689.12 L328.55,689.89 L329.27,690.98 L330.00,692.04 L330.73,693.22 L331.45,694.31 L332.18,695.64 L332.91,696.92 L333.64,698.18 L334.36,699.41 L335.09,700.60 L335.82,701.96 L336.55,703.34 L337.27,704.73 L338.00,705.98 L338.73,707.12 L339.45,708.55 L340.18,709.78 L340.91,711.05 L341.64,712.12 L342.36,713.37 L343.09,714.68 L343.82,715.72 L344.55,716.88 L345.27,717.84 L346.00,718.98 L346.73,719.95 L347.45,720.93 L348.18,721.74 L348.91,722.47 L349.64,723.31 L350.36,724.16 L351.09,724.91 L351.82,725.43 L352.55,726.02 L353.27,726.56 L354.00,727.05 L354.71,727.41 L355.40,727.86 L356.07,728.31 L356.74,728.81 L357.41,729.05 L358.09,729.40 L358.80,729.56 L359.53,729.91 L360.30,730.07 L361.12,730.27 L362.00,730.34 L362.64,730.43 L363.29,730.57 L363.97,730.81 L364.67,730.87 L365.39,730.88 L366.12,730.90 L366.87,731.15 L367.62,731.42 L368.40,731.44 L369.18,731.36 L369.97,731.32 L370.77,731.37 L371.57,731.42 L372.38,731.43 L373.19,731.45 L374.00,731.47 L374.75,731.50 L375.54,731.63 L376.38,731.62 L377.25,731.70 L378.13,731.64 L379.04,731.70 L379.95,731.64 L380.85,731.99 L381.75,732.15 L382.63,732.33 L383.48,732.14 L384.30,732.05 L385.07,731.98 L385.79,731.96 L386.45,732.02 L387.05,732.07 L387.57,732.16 L388.00,732.14" fill="none" stroke="#0d0d0d" stroke-width="2.1" stroke-linejoin="round" stroke-linecap="round"/>
<path d="M34.50,585.87 L35.00,585.12 L35.72,583.94 L36.55,583.10 L37.41,582.36 L38.20,581.51 L38.96,580.23 L39.73,578.62 L40.49,576.80 L41.20,575.29 L41.80,573.31 L42.51,570.80 L43.02,568.04 L43.60,564.46 L44.35,558.46 L45.17,551.19 L46.00,546.79 L46.62,546.46 L47.24,548.31 L47.87,550.59 L48.50,551.55 L49.11,550.26 L49.72,547.67 L50.34,544.81 L51.00,542.11 L51.71,539.09 L52.45,535.38 L53.22,532.64 L54.00,531.49 L54.65,532.85 L55.33,535.15 L56.01,538.20 L56.67,541.28 L57.30,543.85 L58.02,546.95 L58.69,549.76 L59.34,552.45 L60.00,554.07 L60.65,555.01 L61.29,554.80 L61.95,555.14 L62.70,556.13 L63.36,557.98 L64.07,560.45 L64.81,563.26 L65.59,566.55 L66.40,569.66 L67.10,572.18 L67.84,574.68 L68.59,576.81 L69.36,579.22 L70.13,581.59 L70.90,584.30 L71.67,586.74 L72.46,589.43 L73.26,592.02 L74.04,594.44 L74.79,596.50 L75.50,598.34 L76.28,599.88 L77.01,600.74 L77.71,601.39 L78.40,602.20 L79.10,603.31 L79.79,604.71 L80.45,606.40 L81.12,608.21 L81.86,609.85 L82.70,611.33 L83.39,612.26 L84.16,612.80 L84.98,613.17 L85.81,613.34 L86.65,613.59 L87.45,614.00 L88.20,614.58 L89.02,615.19 L89.80,615.79 L90.56,616.16 L91.30,617.03 L92.01,617.84 L92.70,618.84 L93.49,619.95 L94.24,621.54 L94.97,623.37 L95.68,625.43 L96.40,627.34 L97.11,629.58 L97.80,631.72 L98.49,633.67 L99.22,635.06 L100.00,636.48 L100.71,637.37 L101.45,638.58 L102.23,639.37 L103.01,640.12 L103.81,640.43 L104.60,640.57 L105.28,640.59 L105.96,640.40 L106.65,639.98 L107.34,639.30 L108.03,638.53 L108.72,637.75 L109.40,636.55 L110.19,634.89 L110.97,632.52 L111.76,630.06 L112.54,627.12 L113.32,624.63 L114.10,621.90 L114.88,619.25 L115.67,616.38 L116.45,613.50 L117.23,610.61 L118.02,607.79 L118.80,605.20 L119.59,602.91 L120.38,600.30 L121.17,598.07 L121.96,595.90 L122.73,593.97 L123.50,592.36 L124.25,590.66 L125.00,589.27 L125.74,587.91 L126.47,587.16 L127.19,586.48 L127.90,586.03 L128.61,585.93 L129.31,586.45 L130.01,587.06 L130.69,587.62 L131.35,588.25 L132.00,589.11 L132.74,590.05 L133.44,591.04 L134.13,591.74 L134.81,592.82 L135.50,593.79 L136.17,595.15 L136.80,596.35 L137.45,597.54 L138.17,598.19 L139.00,598.65 L139.69,598.22 L140.46,597.77 L141.27,597.10 L142.11,596.63 L142.96,595.81 L143.80,595.34 L144.60,595.20 L145.38,595.76 L146.15,596.44 L146.92,597.46 L147.69,598.84 L148.44,599.87 L149.18,601.08 L149.90,602.16 L150.71,603.60 L151.47,605.38 L152.22,607.29 L152.98,609.21 L153.77,610.96 L154.60,612.64 L155.26,614.29 L155.93,615.83 L156.62,617.70 L157.33,619.29 L158.05,621.29 L158.79,622.93 L159.54,624.95 L160.30,626.04 L160.99,627.14 L161.69,627.78 L162.40,628.97 L163.12,629.99 L163.86,630.94 L164.60,631.65 L165.36,632.24 L166.12,633.21 L166.90,634.37 L167.61,635.48 L168.33,636.21 L169.05,636.69 L169.79,637.23 L170.53,637.75 L171.28,638.35 L172.05,639.16 L172.82,639.90 L173.61,640.66 L174.40,640.97 L175.14,641.53 L175.90,641.98 L176.67,642.18 L177.46,642.20 L178.25,642.14 L179.05,642.55 L179.84,642.89 L180.63,643.06 L181.40,643.31 L182.16,643.30 L182.90,643.33 L183.70,642.96 L184.51,643.06 L185.31,643.35 L186.11,643.61 L186.89,643.75 L187.65,643.94 L188.39,644.10 L189.10,644.29 L189.77,644.50 L190.40,644.76 L191.34,645.02 L192.15,645.39 L192.88,645.97 L193.59,646.89 L194.31,647.36 L195.10,647.62 L195.82,647.79 L196.54,648.25 L197.27,648.74 L198.02,649.11 L198.81,649.44 L199.63,649.95 L200.50,650.08 L201.22,650.17 L201.98,650.20 L202.76,650.39 L203.57,650.78 L204.39,651.00 L205.23,651.23 L206.06,651.47 L206.89,651.72 L207.70,652.16 L208.43,652.44 L209.15,652.78 L209.88,653.12 L210.61,653.54 L211.34,653.95 L212.08,654.46 L212.81,655.07 L213.54,655.71 L214.27,656.07 L215.00,656.61 L215.73,656.75 L216.48,657.21 L217.22,657.26 L217.97,657.75 L218.71,657.76 L219.45,657.84 L220.18,657.80 L220.90,658.16 L221.61,658.29 L222.30,658.44 L223.14,658.41 L223.96,658.59 L224.77,658.56 L225.56,658.52 L226.34,658.06 L227.10,657.93 L227.86,657.55 L228.60,657.66 L229.41,657.43 L230.18,657.27 L230.92,656.79 L231.66,656.54 L232.42,656.47 L233.23,656.41 L234.10,656.33 L234.76,656.29 L235.46,656.32 L236.19,656.39 L236.94,656.53 L237.70,656.85 L238.47,657.08 L239.23,657.14 L239.98,657.36 L240.70,657.65 L241.40,657.94 L242.22,658.23 L242.98,658.43 L243.71,658.82 L244.44,659.11 L245.18,659.92 L245.95,660.62 L246.79,661.39 L247.70,661.90 L248.37,662.35 L249.08,662.94 L249.82,663.63 L250.59,664.56 L251.38,665.07 L252.19,665.85 L252.99,666.37 L253.80,666.93 L254.59,667.50 L255.36,668.21 L256.10,669.10 L256.80,669.50 L257.59,669.82 L258.35,669.84 L259.07,670.18 L259.76,670.46 L260.45,670.84 L261.14,671.09 L261.83,671.28 L262.55,672.01 L263.31,672.26 L264.10,672.76 L264.80,672.77 L265.53,673.47 L266.29,674.26 L267.07,675.23 L267.86,675.95 L268.65,676.80 L269.44,677.60 L270.23,678.57 L271.01,679.18 L271.77,679.64 L272.50,680.11 L273.20,680.58 L274.00,681.51 L274.78,682.03 L275.53,682.65 L276.25,683.05 L276.97,683.41 L277.67,683.82 L278.37,684.33 L279.08,684.82 L279.78,685.20 L280.50,685.45 L281.32,685.77 L282.16,686.06 L283.01,686.37 L283.87,686.64 L284.70,686.89 L285.52,686.99 L286.30,687.03 L287.03,686.96 L287.70,687.26 L288.56,687.54 L289.29,687.55 L289.92,687.22 L290.55,686.91 L291.22,686.72 L292.00,686.21 L292.65,685.64 L293.33,685.10 L294.04,684.83 L294.77,684.84 L295.53,684.82 L296.32,684.40 L297.14,683.70 L298.00,683.08 L298.65,682.86 L299.32,682.22 L300.01,681.50 L300.72,680.59 L301.44,679.96 L302.18,679.15 L302.93,678.39 L303.69,677.73 L304.46,676.93 L305.23,676.36 L306.00,675.92 L306.71,675.73 L307.44,675.36 L308.18,674.84 L308.93,674.32 L309.68,674.02 L310.44,673.56 L311.20,673.19 L311.96,672.79 L312.73,672.55 L313.49,672.18 L314.25,671.84 L315.00,671.74 L315.74,671.91 L316.48,672.02 L317.20,672.34 L317.93,672.66 L318.65,673.04 L319.38,673.20 L320.11,673.61 L320.85,674.09 L321.61,674.87 L322.38,675.19 L323.18,675.60 L324.00,676.09 L324.73,676.59 L325.48,677.26 L326.24,677.81 L327.03,678.68 L327.82,679.31 L328.63,680.09 L329.44,680.73 L330.25,681.82 L331.06,682.59 L331.87,683.61 L332.67,684.27 L333.46,685.13 L334.24,685.86 L335.00,686.60 L335.80,687.24 L336.59,687.93 L337.38,688.44 L338.15,689.03 L338.92,689.59 L339.68,690.25 L340.44,690.83 L341.20,691.47 L341.96,692.25 L342.71,693.03 L343.47,693.59 L344.23,694.06 L345.00,694.54 L345.77,695.36 L346.53,695.55 L347.29,695.94 L348.04,695.83 L348.80,696.52 L349.56,696.79 L350.32,697.30 L351.08,697.46 L351.85,697.84 L352.62,697.69 L353.41,697.77 L354.20,697.92 L355.00,698.33 L355.75,698.72 L356.51,699.02 L357.27,699.17 L358.04,699.18 L358.81,699.22 L359.59,699.70 L360.38,699.96 L361.16,700.05 L361.96,699.80 L362.76,699.75 L363.56,699.74 L364.37,699.84 L365.18,699.94 L366.00,699.95 L366.73,700.03 L367.47,700.28 L368.22,700.34 L368.98,700.65 L369.74,700.38 L370.51,700.42 L371.29,700.07 L372.06,700.07 L372.83,700.29 L373.60,700.46 L374.36,700.30 L375.12,700.29 L375.86,700.20 L376.59,700.40 L377.30,700.23 L378.00,700.12 L378.86,700.37 L379.75,700.54 L380.65,700.73 L381.55,700.59 L382.45,700.40 L383.32,700.36 L384.17,700.29 L384.97,700.15 L385.73,700.16 L386.42,700.12 L387.03,700.52 L387.56,700.39 L388.00,700.45" fill="none" stroke="#1818b8" stroke-width="2.1" stroke-linejoin="round" stroke-linecap="round"/>
<path d="M397.30,732.40 C398.75,732.25 409.62,731.34 411.80,730.90 C413.98,730.46 417.93,728.80 419.10,728.00 C420.27,727.20 422.85,723.99 423.50,722.90 C424.15,721.81 425.20,718.39 425.60,717.10 C426.00,715.81 427.16,711.16 427.50,710.00 C427.84,708.84 428.68,705.66 429.00,705.50 C429.32,705.34 430.38,707.10 430.70,708.40 C431.02,709.70 431.94,716.47 432.20,718.50 C432.46,720.53 433.01,727.90 433.30,728.70 C433.59,729.50 434.56,726.79 435.10,726.50 C435.64,726.21 437.83,725.58 438.70,725.80 C439.57,726.02 442.56,728.19 443.80,728.70 C445.04,729.21 449.11,730.61 451.10,730.90 C453.09,731.19 461.42,731.45 463.70,731.60 C465.98,731.75 471.86,732.61 473.90,732.40 C475.94,732.19 481.77,729.94 484.10,729.50 C486.43,729.06 494.87,728.00 497.20,728.00 C499.53,728.00 505.66,729.14 507.40,729.50 C509.14,729.86 513.29,731.56 514.60,731.60 C515.91,731.64 518.76,730.01 520.50,729.90 C522.24,729.79 530.85,730.44 532.00,730.50" fill="none" stroke="#0d0d0d" stroke-width="2.1" stroke-linejoin="round" stroke-linecap="round"/>
<path d="M397.30,700.40 C397.59,700.30 401.12,699.05 401.60,698.90 C402.08,698.75 404.11,698.35 404.50,698.20 C404.89,698.05 407.16,696.78 407.50,696.70 C407.84,696.62 409.21,697.37 409.60,697.00 C409.99,696.63 412.81,691.53 413.30,691.20 C413.79,690.87 416.51,691.93 416.90,692.10 C417.29,692.27 418.81,693.20 419.10,693.80 C419.39,694.40 421.01,700.13 421.30,701.10 C421.59,702.07 423.16,707.72 423.50,708.40 C423.84,709.08 426.07,710.91 426.40,711.30 C426.73,711.69 428.21,714.20 428.50,714.20 C428.79,714.20 430.41,712.17 430.70,711.30 C430.99,710.43 432.61,701.59 432.90,701.10 C433.19,700.61 434.76,703.66 435.10,704.00 C435.44,704.34 437.66,706.10 438.00,706.20 C438.34,706.30 439.86,705.41 440.20,705.50 C440.54,705.59 442.76,708.09 443.10,707.60 C443.44,707.11 445.01,699.51 445.30,698.20 C445.59,696.89 447.21,688.97 447.50,688.00 C447.79,687.03 449.31,683.55 449.60,683.60 C449.89,683.65 451.51,688.51 451.80,688.70 C452.09,688.89 453.71,686.45 454.00,686.50 C454.29,686.55 455.96,690.17 456.20,689.50 C456.44,688.83 457.39,677.76 457.60,676.40 C457.81,675.04 459.14,670.03 459.40,669.10 C459.66,668.17 461.26,662.50 461.50,662.50 C461.74,662.50 462.80,668.03 463.00,669.10 C463.20,670.17 464.31,678.69 464.50,678.50 C464.69,678.31 465.71,667.36 465.90,666.20 C466.09,665.04 467.21,661.25 467.40,661.10 C467.59,660.95 468.61,663.91 468.80,664.00 C468.99,664.09 470.05,662.35 470.30,662.50 C470.55,662.65 472.28,665.76 472.50,666.20 C472.72,666.64 473.46,669.15 473.60,669.10 C473.74,669.05 474.41,664.82 474.60,665.50 C474.79,666.18 476.31,677.70 476.50,679.30 C476.69,680.90 477.36,688.77 477.50,689.50 C477.64,690.23 478.45,689.67 478.60,690.20 C478.75,690.73 479.48,696.68 479.70,697.50 C479.92,698.32 481.51,702.15 481.90,702.50 C482.29,702.85 485.01,702.70 485.50,702.80 C485.99,702.90 488.76,704.02 489.20,704.00 C489.64,703.98 491.76,703.13 492.10,702.50 C492.44,701.87 494.01,694.89 494.30,694.50 C494.59,694.11 496.26,696.26 496.50,696.70 C496.74,697.14 497.71,700.47 497.90,701.10 C498.09,701.73 499.21,706.20 499.40,706.20 C499.59,706.20 500.61,701.78 500.80,701.10 C500.99,700.42 502.01,696.39 502.30,696.00 C502.59,695.61 504.91,695.45 505.20,695.30 C505.49,695.15 506.41,693.75 506.60,693.80 C506.79,693.85 507.91,696.07 508.10,696.00 C508.29,695.93 509.26,692.55 509.50,692.70 C509.74,692.85 511.36,697.79 511.70,698.20 C512.04,698.61 514.21,699.00 514.60,698.90 C514.99,698.80 517.16,696.46 517.50,696.70 C517.84,696.94 519.41,701.84 519.70,702.50 C519.99,703.16 521.56,706.35 521.90,706.60 C522.24,706.85 524.41,706.13 524.80,706.20 C525.19,706.27 527.36,707.55 527.70,707.60 C528.04,707.65 529.61,706.85 529.90,706.90 C530.19,706.95 531.86,708.30 532.00,708.40" fill="none" stroke="#1818b8" stroke-width="2.1" stroke-linejoin="round" stroke-linecap="round"/>
<line x1="31.50" y1="514.50" x2="31.50" y2="751.60" stroke="#1a1a1a" stroke-width="1.3"/>
<line x1="532.20" y1="514.50" x2="532.20" y2="751.60" stroke="#1a1a1a" stroke-width="1.3"/>
<line x1="28.70" y1="751.60" x2="386.80" y2="751.60" stroke="#1a1a1a" stroke-width="1.3"/>
<line x1="398.20" y1="751.60" x2="532.20" y2="751.60" stroke="#1a1a1a" stroke-width="1.3"/>
<line x1="28.70" y1="751.60" x2="31.50" y2="751.60" stroke="#1a1a1a" stroke-width="1.3"/>
<line x1="25.90" y1="734.66" x2="31.50" y2="734.66" stroke="#1a1a1a" stroke-width="1.3"/>
<line x1="28.70" y1="717.73" x2="31.50" y2="717.73" stroke="#1a1a1a" stroke-width="1.3"/>
<line x1="25.90" y1="700.79" x2="31.50" y2="700.79" stroke="#1a1a1a" stroke-width="1.3"/>
<line x1="28.70" y1="683.86" x2="31.50" y2="683.86" stroke="#1a1a1a" stroke-width="1.3"/>
<line x1="25.90" y1="666.92" x2="31.50" y2="666.92" stroke="#1a1a1a" stroke-width="1.3"/>
<line x1="28.70" y1="649.99" x2="31.50" y2="649.99" stroke="#1a1a1a" stroke-width="1.3"/>
<line x1="25.90" y1="633.05" x2="31.50" y2="633.05" stroke="#1a1a1a" stroke-width="1.3"/>
<line x1="28.70" y1="616.11" x2="31.50" y2="616.11" stroke="#1a1a1a" stroke-width="1.3"/>
<line x1="25.90" y1="599.18" x2="31.50" y2="599.18" stroke="#1a1a1a" stroke-width="1.3"/>
<line x1="28.70" y1="582.24" x2="31.50" y2="582.24" stroke="#1a1a1a" stroke-width="1.3"/>
<line x1="25.90" y1="565.31" x2="31.50" y2="565.31" stroke="#1a1a1a" stroke-width="1.3"/>
<line x1="28.70" y1="548.37" x2="31.50" y2="548.37" stroke="#1a1a1a" stroke-width="1.3"/>
<line x1="25.90" y1="531.44" x2="31.50" y2="531.44" stroke="#1a1a1a" stroke-width="1.3"/>
<line x1="28.70" y1="514.50" x2="31.50" y2="514.50" stroke="#1a1a1a" stroke-width="1.3"/>
<line x1="31.50" y1="751.60" x2="31.50" y2="757.20" stroke="#1a1a1a" stroke-width="1.3"/>
<line x1="190.00" y1="751.60" x2="190.00" y2="757.20" stroke="#1a1a1a" stroke-width="1.3"/>
<line x1="348.50" y1="751.60" x2="348.50" y2="757.20" stroke="#1a1a1a" stroke-width="1.3"/>
<line x1="110.75" y1="751.60" x2="110.75" y2="754.20" stroke="#1a1a1a" stroke-width="1.3"/>
<line x1="269.25" y1="751.60" x2="269.25" y2="754.20" stroke="#1a1a1a" stroke-width="1.3"/>
<line x1="433.60" y1="751.60" x2="433.60" y2="757.20" stroke="#1a1a1a" stroke-width="1.3"/>
<line x1="482.80" y1="751.60" x2="482.80" y2="757.20" stroke="#1a1a1a" stroke-width="1.3"/>
<line x1="532.00" y1="751.60" x2="532.00" y2="757.20" stroke="#1a1a1a" stroke-width="1.3"/>
<line x1="409.00" y1="751.60" x2="409.00" y2="754.20" stroke="#1a1a1a" stroke-width="1.3"/>
<line x1="458.20" y1="751.60" x2="458.20" y2="754.20" stroke="#1a1a1a" stroke-width="1.3"/>
<line x1="507.40" y1="751.60" x2="507.40" y2="754.20" stroke="#1a1a1a" stroke-width="1.3"/>
<text x="31.50" y="773.00" font-size="14.3" text-anchor="middle" fill="#111" stroke="#111" stroke-width="0.42" >400</text>
<text x="190.00" y="773.00" font-size="14.3" text-anchor="middle" fill="#111" stroke="#111" stroke-width="0.42" >600</text>
<text x="348.50" y="773.00" font-size="14.3" text-anchor="middle" fill="#111" stroke="#111" stroke-width="0.42" >800</text>
<text x="433.60" y="773.00" font-size="14.3" text-anchor="middle" fill="#111" stroke="#111" stroke-width="0.42" >1400</text>
<text x="482.80" y="773.00" font-size="14.3" text-anchor="middle" fill="#111" stroke="#111" stroke-width="0.42" >1600</text>
<text x="532.00" y="773.00" font-size="14.3" text-anchor="middle" fill="#111" stroke="#111" stroke-width="0.42" >1800</text>
<line x1="384.10" y1="756.80" x2="392.30" y2="746.60" stroke="#1a1a1a" stroke-width="1.3"/>
<line x1="392.70" y1="756.80" x2="400.90" y2="746.60" stroke="#1a1a1a" stroke-width="1.3"/>
<text x="224.20" y="791.00" font-size="14.5" text-anchor="start" fill="#111" stroke="#111" stroke-width="0.42" >Wavenumber (cm<tspan dy="-5.5" font-size="9.5">-1</tspan><tspan dy="5.5">)</tspan></text>
<text x="39.00" y="523.40" font-size="24" text-anchor="start" fill="#111" stroke="#111" stroke-width="0.42" >c</text>
<text x="408.20" y="551.40" font-size="14.5" text-anchor="start" fill="#111" stroke="#111" stroke-width="0.42" >IR active modes</text>
<rect x="421.35" y="562.45" width="5.3" height="5.3" fill="none" stroke="#3cc83c" stroke-width="1.35"/>
<text x="445.00" y="570.50" font-size="14.5" text-anchor="start" fill="#111" stroke="#111" stroke-width="0.42" >A<tspan dy="4" font-size="10">u</tspan></text>
<circle cx="424.00" cy="585.50" r="2.9" fill="none" stroke="#cc2a33" stroke-width="1.35"/>
<text x="445.00" y="590.90" font-size="14.5" text-anchor="start" fill="#111" stroke="#111" stroke-width="0.42" >B<tspan dy="4" font-size="10">u</tspan></text>
<text x="346.50" y="680.00" font-size="14.4" text-anchor="start" fill="#2626c4" stroke="#2626c4" stroke-width="0.42" >annealed NTs</text>
<text x="270.80" y="730.30" font-size="14.1" text-anchor="start" fill="#111" stroke="#111" stroke-width="0.42" >nanopowder</text>
<text x="459.20" y="653.60" font-size="14.5" text-anchor="start" fill="#2626c4" stroke="#2626c4" stroke-width="0.42" >×10</text>
<text x="457.90" y="724.10" font-size="14.5" text-anchor="start" fill="#111" stroke="#111" stroke-width="0.42" >×10</text>
<text x="144.60" y="589.00" font-size="14.5" text-anchor="middle" fill="#111" stroke="#111" stroke-width="0.42" >?</text>
<text x="209.50" y="644.60" font-size="14.5" text-anchor="middle" fill="#111" stroke="#111" stroke-width="0.42" >?</text>
<text x="14.30" y="633.00" font-size="14.5" text-anchor="middle" fill="#111" stroke="#111" stroke-width="0.42" transform="rotate(-90 14.3 633)"><tspan font-style="italic">F</tspan><tspan font-style="italic" font-size="10.5" dy="3">R</tspan><tspan dy="-3"> (a.u.)</tspan></text>
<rect x="51.85" y="521.85" width="5.3" height="5.3" fill="none" stroke="#3cc83c" stroke-width="1.35"/>
<rect x="188.35" y="635.15" width="5.3" height="5.3" fill="none" stroke="#3cc83c" stroke-width="1.35"/>
<rect x="235.45" y="645.55" width="5.3" height="5.3" fill="none" stroke="#3cc83c" stroke-width="1.35"/>
<circle cx="127.90" cy="578.80" r="2.9" fill="none" stroke="#cc2a33" stroke-width="1.35"/>
<circle cx="315.00" cy="663.60" r="2.9" fill="none" stroke="#cc2a33" stroke-width="1.35"/></svg></body></html>
